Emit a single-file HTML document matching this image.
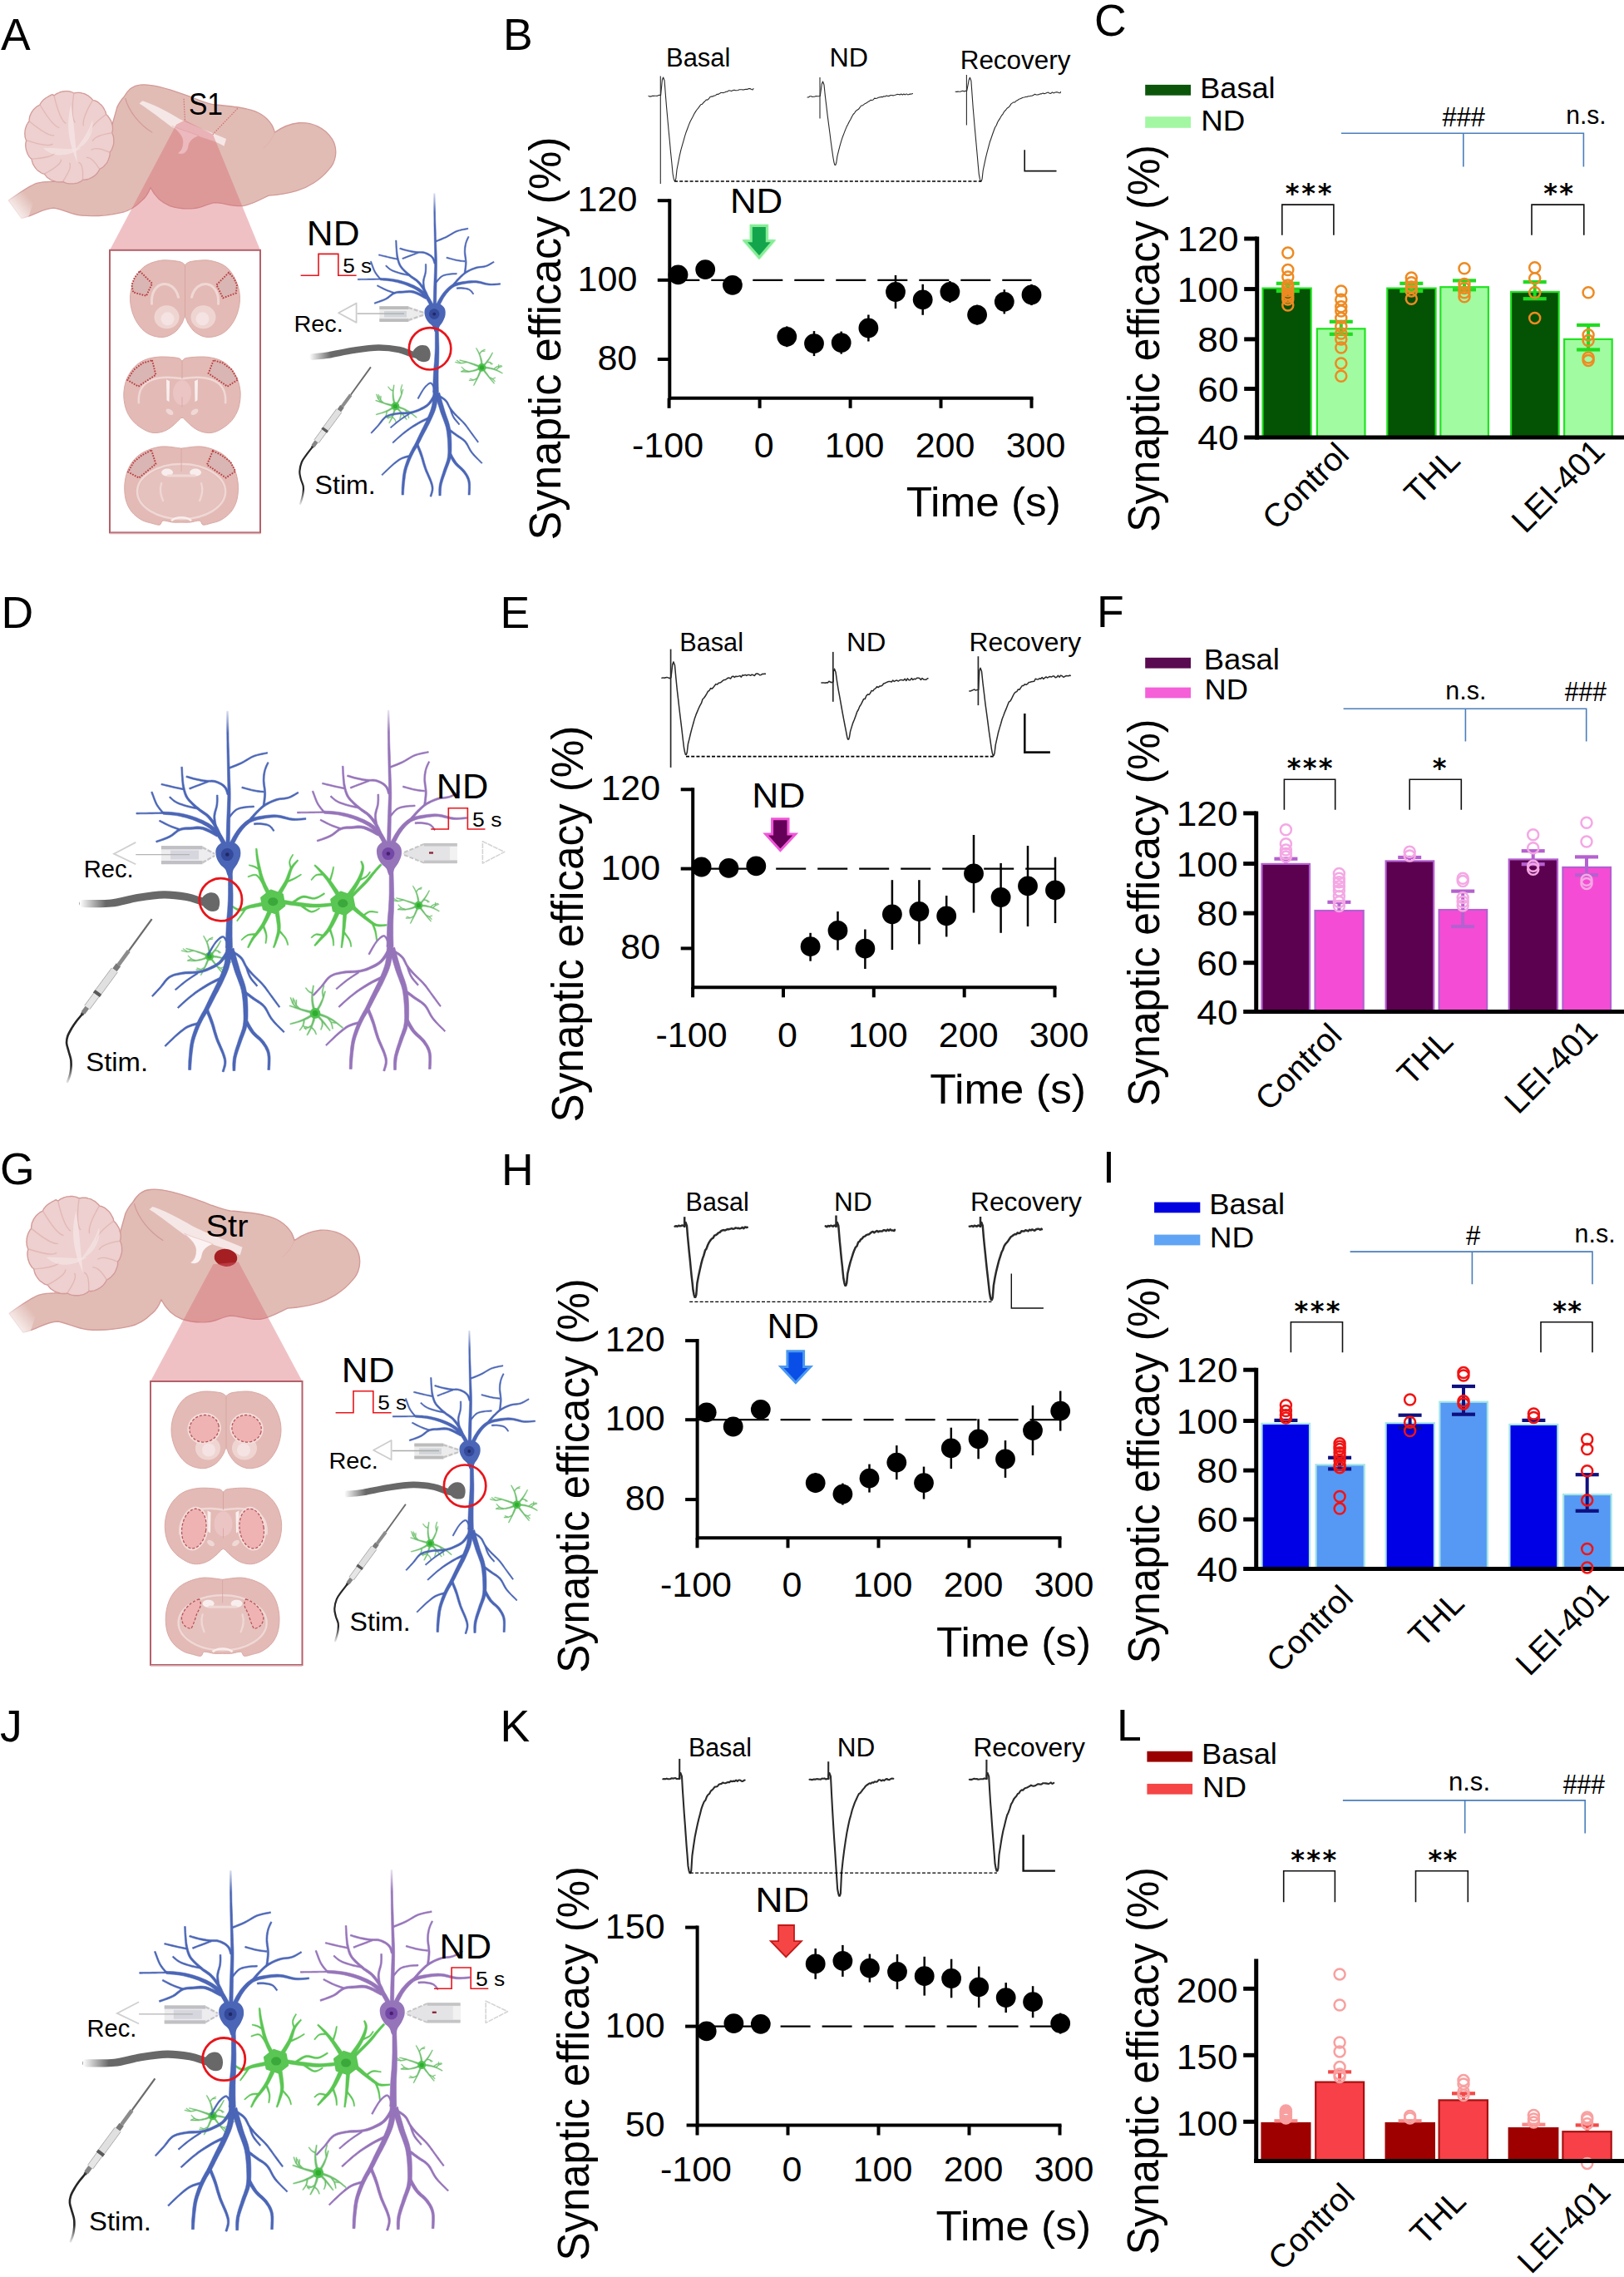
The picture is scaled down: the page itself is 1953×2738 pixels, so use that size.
<!DOCTYPE html><html><head><meta charset="utf-8"><title>Figure</title>
<style>html,body{margin:0;padding:0;background:#fff}svg{display:block}text{font-family:"Liberation Sans",sans-serif}</style></head><body>
<svg width="1953" height="2738" viewBox="0 0 1953 2738">
<rect width="1953" height="2738" fill="#fff"/>
<linearGradient id="fadeB" x1="0" x2="0" y1="1" y2="0"><stop offset="0" stop-color="#fff" stop-opacity="1"/><stop offset="1" stop-color="#fff" stop-opacity="0"/></linearGradient>
<defs>
<g id="nblue">
<path d="M1.8 -10.3 L1.9 -13.8 L2.0 -18.8 L2.1 -24.6 L2.2 -30.6 L2.3 -36.2 L2.4 -41.3 L2.5 -46.5 L2.6 -51.7 L2.7 -56.9 L2.7 -62.1 L2.6 -67.3 L2.4 -72.5 L2.2 -77.6 L2.0 -82.8 L1.8 -88.0 L1.6 -93.1 L1.5 -98.1 L1.3 -103.1 L1.1 -108.3 L0.9 -113.8 L0.8 -120.2 L0.7 -127.3 L0.5 -134.4 L0.4 -140.5 L0.3 -144.8 L-1.1 -144.8 L-1.1 -140.5 L-1.1 -134.4 L-1.1 -127.3 L-1.0 -120.2 L-0.9 -113.8 L-0.9 -108.3 L-0.8 -103.1 L-0.7 -98.0 L-0.6 -93.0 L-0.5 -87.9 L-0.4 -82.7 L-0.3 -77.5 L-0.2 -72.4 L-0.1 -67.2 L-0.1 -62.1 L-0.2 -56.9 L-0.4 -51.8 L-0.6 -46.6 L-0.8 -41.4 L-1.0 -36.3 L-1.2 -30.7 L-1.4 -24.7 L-1.5 -18.9 L-1.7 -13.9 L-1.8 -10.4Z M1.3 -86.5 L3.0 -87.2 L5.4 -88.1 L8.2 -89.2 L11.2 -90.5 L13.9 -91.7 L16.5 -93.1 L19.1 -94.7 L21.7 -96.2 L24.2 -97.7 L26.8 -98.9 L29.6 -99.8 L32.7 -100.6 L35.7 -101.2 L38.4 -101.7 L40.2 -102.1 L39.9 -103.5 L38.1 -103.1 L35.5 -102.7 L32.4 -102.0 L29.2 -101.2 L26.2 -100.3 L23.5 -99.1 L20.9 -97.6 L18.3 -96.0 L15.7 -94.5 L13.2 -93.2 L10.5 -92.0 L7.6 -90.8 L4.8 -89.7 L2.4 -88.7 L0.7 -88.1Z M1.3 -61.1 L0.9 -62.2 L0.4 -63.8 L-0.3 -65.7 L-1.2 -67.6 L-2.5 -69.2 L-4.0 -70.6 L-5.9 -71.9 L-7.9 -73.0 L-9.9 -73.9 L-12.0 -74.6 L-14.1 -75.1 L-16.3 -75.2 L-18.4 -75.1 L-20.5 -75.1 L-22.5 -75.3 L-24.6 -75.5 L-26.7 -75.9 L-28.8 -76.3 L-30.8 -76.7 L-32.8 -77.1 L-34.8 -77.6 L-36.9 -78.2 L-38.9 -78.8 L-40.6 -79.3 L-41.8 -79.6 L-42.2 -78.1 L-41.0 -77.8 L-39.3 -77.2 L-37.3 -76.6 L-35.2 -76.0 L-33.2 -75.5 L-31.2 -75.0 L-29.1 -74.6 L-27.0 -74.1 L-24.9 -73.8 L-22.7 -73.5 L-20.6 -73.3 L-18.4 -73.3 L-16.4 -73.3 L-14.4 -73.2 L-12.5 -72.8 L-10.7 -72.1 L-8.8 -71.2 L-6.9 -70.2 L-5.3 -69.0 L-4.0 -67.8 L-3.0 -66.5 L-2.2 -64.8 L-1.6 -63.1 L-1.2 -61.5 L-0.8 -60.4Z M-20.3 -74.4 L-21.7 -73.9 L-23.8 -73.1 L-26.2 -72.2 L-28.5 -71.3 L-30.7 -70.5 L-32.6 -69.8 L-34.6 -69.0 L-36.4 -68.3 L-37.9 -67.7 L-39.1 -67.3 L-38.5 -65.9 L-37.4 -66.3 L-35.9 -66.9 L-34.0 -67.7 L-32.1 -68.4 L-30.1 -69.1 L-28.0 -69.9 L-25.6 -70.8 L-23.3 -71.7 L-21.2 -72.5 L-19.8 -73.0Z M1.9 -37.0 L2.8 -38.2 L4.1 -39.8 L5.6 -41.7 L7.3 -43.4 L8.8 -44.6 L10.4 -45.5 L12.1 -46.0 L13.9 -46.5 L15.7 -46.8 L17.6 -47.1 L19.5 -47.4 L21.6 -47.5 L23.6 -47.6 L25.3 -47.7 L26.5 -47.8 L26.5 -49.2 L25.2 -49.2 L23.5 -49.1 L21.5 -49.0 L19.3 -48.8 L17.3 -48.6 L15.5 -48.3 L13.6 -47.9 L11.7 -47.5 L9.8 -46.8 L8.0 -45.9 L6.2 -44.5 L4.5 -42.7 L2.9 -40.8 L1.6 -39.1 L0.7 -38.0Z M-1.3 -10.7 L-2.1 -12.2 L-3.3 -14.4 L-4.7 -16.9 L-6.3 -19.6 L-8.1 -21.9 L-10.0 -24.0 L-12.0 -26.0 L-14.1 -27.8 L-16.5 -29.6 L-19.1 -31.3 L-22.0 -32.9 L-25.1 -34.5 L-28.4 -35.9 L-31.8 -37.3 L-35.0 -38.4 L-38.2 -39.4 L-41.4 -40.3 L-44.6 -41.0 L-47.8 -41.7 L-50.8 -42.2 L-54.1 -42.6 L-57.4 -42.9 L-60.6 -43.1 L-63.3 -43.2 L-65.2 -43.3 L-65.4 -40.7 L-63.5 -40.5 L-60.8 -40.3 L-57.7 -40.1 L-54.4 -39.7 L-51.3 -39.3 L-48.4 -38.7 L-45.3 -38.0 L-42.2 -37.2 L-39.2 -36.3 L-36.1 -35.3 L-33.0 -34.1 L-29.8 -32.7 L-26.6 -31.3 L-23.7 -29.8 L-21.0 -28.2 L-18.7 -26.6 L-16.6 -24.9 L-14.6 -23.1 L-12.9 -21.3 L-11.3 -19.4 L-9.8 -17.3 L-8.3 -14.9 L-7.0 -12.4 L-6.0 -10.2 L-5.2 -8.7Z M-65.3 -42.7 L-67.3 -42.7 L-70.0 -42.6 L-73.3 -42.6 L-76.6 -42.5 L-79.5 -42.5 L-82.4 -42.4 L-85.4 -42.4 L-88.3 -42.4 L-90.7 -42.4 L-92.5 -42.4 L-92.5 -40.9 L-90.7 -40.9 L-88.3 -41.0 L-85.4 -41.0 L-82.4 -41.0 L-79.5 -41.1 L-76.5 -41.1 L-73.2 -41.2 L-70.0 -41.3 L-67.2 -41.3 L-65.3 -41.4Z M-64.7 -42.6 L-65.6 -43.6 L-66.9 -45.1 L-68.3 -46.8 L-69.8 -48.8 L-71.1 -50.8 L-72.3 -53.2 L-73.5 -56.2 L-74.6 -59.2 L-75.6 -61.8 L-76.3 -63.6 L-77.6 -63.1 L-77.0 -61.3 L-76.0 -58.6 L-74.9 -55.6 L-73.7 -52.6 L-72.5 -50.1 L-71.1 -47.9 L-69.6 -45.8 L-68.1 -44.0 L-66.8 -42.6 L-65.9 -41.5Z M-5.7 -17.4 L-6.4 -19.0 L-7.3 -21.2 L-8.5 -23.9 L-9.7 -26.6 L-11.1 -29.1 L-12.5 -31.4 L-14.0 -33.6 L-15.6 -35.7 L-17.3 -37.8 L-19.1 -39.7 L-21.2 -41.5 L-23.3 -43.0 L-25.4 -44.4 L-27.6 -45.8 L-29.6 -47.5 L-31.8 -49.3 L-34.1 -51.3 L-36.3 -53.4 L-38.3 -55.5 L-39.9 -57.5 L-41.0 -59.4 L-41.9 -61.4 L-42.6 -63.4 L-43.2 -65.4 L-43.7 -67.5 L-44.1 -69.5 L-44.5 -71.5 L-44.7 -73.5 L-44.9 -75.6 L-45.1 -77.7 L-45.3 -80.0 L-45.5 -82.5 L-45.6 -85.0 L-45.7 -87.1 L-45.8 -88.6 L-47.3 -88.5 L-47.2 -87.0 L-47.1 -84.9 L-47.0 -82.4 L-46.9 -79.9 L-46.7 -77.5 L-46.6 -75.4 L-46.4 -73.3 L-46.2 -71.2 L-46.0 -69.1 L-45.5 -67.0 L-45.0 -64.9 L-44.5 -62.8 L-43.8 -60.7 L-42.9 -58.5 L-41.6 -56.3 L-39.9 -54.1 L-37.8 -51.9 L-35.6 -49.7 L-33.3 -47.6 L-31.1 -45.7 L-29.0 -43.9 L-26.8 -42.4 L-24.7 -40.9 L-22.7 -39.5 L-20.9 -37.9 L-19.3 -36.0 L-17.7 -34.1 L-16.2 -32.0 L-14.8 -29.9 L-13.5 -27.8 L-12.3 -25.4 L-11.1 -22.8 L-10.0 -20.1 L-9.2 -17.9 L-8.5 -16.2Z M-44.5 -66.7 L-45.6 -66.9 L-47.2 -67.3 L-49.1 -67.7 L-51.3 -68.1 L-53.5 -68.6 L-56.1 -69.2 L-59.3 -70.0 L-62.4 -70.7 L-65.2 -71.4 L-67.1 -71.8 L-67.4 -70.4 L-65.5 -70.0 L-62.7 -69.3 L-59.6 -68.5 L-56.5 -67.8 L-53.8 -67.2 L-51.6 -66.7 L-49.4 -66.2 L-47.5 -65.8 L-45.9 -65.5 L-44.8 -65.2Z M-30.2 -47.4 L-31.8 -47.7 L-34.1 -48.1 L-36.7 -48.7 L-39.4 -49.3 L-41.8 -49.9 L-44.0 -50.6 L-46.2 -51.3 L-48.3 -52.0 L-50.3 -52.8 L-52.0 -53.7 L-53.6 -54.7 L-55.1 -55.8 L-56.4 -57.0 L-57.5 -58.0 L-58.4 -58.7 L-59.3 -57.6 L-58.5 -56.9 L-57.4 -55.9 L-56.0 -54.7 L-54.5 -53.4 L-52.7 -52.4 L-50.9 -51.4 L-48.9 -50.6 L-46.7 -49.8 L-44.5 -49.1 L-42.2 -48.4 L-39.8 -47.7 L-37.1 -47.1 L-34.4 -46.5 L-32.2 -46.1 L-30.6 -45.7Z M-11.3 -28.0 L-11.5 -29.5 L-11.9 -31.5 L-12.3 -33.9 L-12.6 -36.4 L-12.7 -38.7 L-12.4 -40.9 L-11.9 -43.3 L-11.2 -45.7 L-10.6 -48.0 L-10.2 -50.3 L-10.0 -52.6 L-9.9 -54.9 L-9.9 -57.0 L-10.0 -58.9 L-10.0 -60.1 L-11.5 -60.1 L-11.5 -58.8 L-11.5 -57.0 L-11.5 -54.9 L-11.6 -52.7 L-11.8 -50.5 L-12.2 -48.4 L-12.9 -46.1 L-13.6 -43.7 L-14.2 -41.3 L-14.5 -38.8 L-14.5 -36.3 L-14.2 -33.7 L-13.9 -31.2 L-13.5 -29.1 L-13.3 -27.6Z M-9.6 -20.7 L-11.7 -21.8 L-14.6 -23.4 L-18.1 -25.1 L-21.6 -26.7 L-24.9 -27.8 L-27.8 -28.3 L-30.7 -28.4 L-33.3 -28.2 L-35.9 -27.9 L-38.2 -27.7 L-40.4 -27.6 L-42.5 -27.5 L-44.6 -27.3 L-46.7 -26.9 L-48.9 -26.2 L-51.1 -25.0 L-53.1 -23.5 L-55.1 -21.9 L-57.1 -20.3 L-59.3 -18.9 L-61.9 -17.7 L-65.0 -16.5 L-68.1 -15.3 L-70.8 -14.4 L-72.7 -13.7 L-72.2 -12.2 L-70.3 -12.8 L-67.5 -13.8 L-64.4 -14.8 L-61.2 -16.0 L-58.4 -17.3 L-56.0 -18.7 L-53.9 -20.3 L-51.9 -21.9 L-50.0 -23.3 L-48.1 -24.2 L-46.2 -24.8 L-44.3 -25.1 L-42.4 -25.2 L-40.3 -25.2 L-38.1 -25.3 L-35.6 -25.5 L-33.2 -25.7 L-30.6 -25.8 L-28.1 -25.7 L-25.6 -25.2 L-22.7 -24.1 L-19.3 -22.6 L-16.0 -20.8 L-13.1 -19.2 L-11.1 -18.1Z M-48.2 -26.0 L-49.6 -26.5 L-51.6 -27.2 L-53.9 -28.0 L-56.3 -28.9 L-58.5 -29.8 L-60.7 -30.8 L-63.1 -32.0 L-65.4 -33.2 L-67.4 -34.2 L-68.9 -34.9 L-69.5 -33.6 L-68.1 -32.9 L-66.1 -31.8 L-63.8 -30.6 L-61.4 -29.4 L-59.2 -28.4 L-56.9 -27.4 L-54.5 -26.5 L-52.2 -25.7 L-50.2 -24.9 L-48.8 -24.4Z M5.2 -8.7 L6.1 -10.6 L7.5 -13.3 L9.1 -16.4 L10.8 -19.5 L12.6 -22.1 L14.3 -24.5 L16.2 -26.7 L18.1 -28.8 L20.2 -30.6 L22.2 -32.2 L24.4 -33.3 L26.7 -34.2 L29.1 -34.9 L31.8 -35.5 L34.5 -36.0 L37.4 -36.6 L40.5 -37.0 L43.5 -37.4 L46.7 -37.6 L49.7 -37.6 L52.7 -37.2 L55.8 -36.5 L59.0 -35.7 L62.1 -35.0 L65.2 -34.6 L68.4 -34.5 L71.6 -34.7 L74.6 -34.9 L77.1 -35.2 L78.9 -35.4 L78.8 -37.0 L77.0 -36.9 L74.4 -36.7 L71.5 -36.5 L68.4 -36.4 L65.4 -36.6 L62.5 -37.1 L59.5 -37.9 L56.4 -38.8 L53.1 -39.6 L49.9 -40.0 L46.6 -40.2 L43.4 -40.1 L40.1 -39.8 L37.0 -39.4 L34.0 -39.0 L31.2 -38.5 L28.4 -38.0 L25.7 -37.3 L23.0 -36.4 L20.4 -35.1 L18.0 -33.4 L15.6 -31.4 L13.4 -29.2 L11.4 -26.9 L9.4 -24.4 L7.5 -21.6 L5.5 -18.4 L3.8 -15.3 L2.4 -12.6 L1.3 -10.7Z M22.2 -32.9 L23.3 -34.1 L24.7 -35.9 L26.4 -38.0 L28.2 -40.1 L29.9 -41.9 L31.5 -43.6 L33.2 -45.2 L34.9 -46.8 L36.8 -48.3 L38.7 -49.6 L40.8 -50.8 L43.0 -52.0 L45.4 -53.0 L47.7 -53.9 L50.0 -54.7 L52.3 -55.3 L54.6 -55.6 L57.0 -55.8 L59.4 -56.2 L61.7 -56.8 L64.0 -57.7 L66.3 -58.9 L68.4 -60.2 L70.2 -61.3 L71.5 -62.1 L70.8 -63.3 L69.5 -62.6 L67.6 -61.5 L65.5 -60.3 L63.3 -59.2 L61.2 -58.3 L59.1 -57.8 L56.8 -57.5 L54.4 -57.3 L52.0 -57.0 L49.5 -56.5 L47.1 -55.7 L44.6 -54.8 L42.2 -53.7 L39.8 -52.5 L37.6 -51.3 L35.5 -49.9 L33.6 -48.4 L31.8 -46.8 L30.0 -45.1 L28.3 -43.4 L26.5 -41.5 L24.7 -39.4 L22.9 -37.4 L21.5 -35.6 L20.4 -34.4Z M37.1 -49.0 L37.3 -50.8 L37.7 -53.3 L38.0 -56.2 L38.3 -59.2 L38.4 -62.1 L38.2 -64.8 L37.9 -67.5 L37.5 -70.1 L37.2 -72.7 L37.0 -75.0 L37.1 -77.2 L37.2 -79.4 L37.5 -81.4 L37.8 -83.3 L38.2 -85.1 L38.8 -86.9 L39.5 -88.7 L40.3 -90.4 L40.9 -91.8 L41.4 -92.8 L40.1 -93.4 L39.6 -92.4 L38.9 -91.0 L38.1 -89.3 L37.4 -87.4 L36.8 -85.6 L36.3 -83.6 L35.9 -81.6 L35.6 -79.5 L35.5 -77.3 L35.4 -75.0 L35.5 -72.5 L35.8 -69.9 L36.2 -67.3 L36.5 -64.6 L36.6 -62.1 L36.5 -59.3 L36.2 -56.4 L35.9 -53.5 L35.5 -51.0 L35.3 -49.3Z M36.3 -64.1 L35.0 -64.3 L33.2 -64.4 L31.1 -64.7 L28.9 -65.0 L26.7 -65.4 L24.2 -65.9 L21.4 -66.7 L18.6 -67.4 L16.1 -68.1 L14.4 -68.6 L14.0 -67.2 L15.7 -66.7 L18.2 -66.0 L21.0 -65.3 L23.8 -64.5 L26.4 -63.9 L28.7 -63.5 L30.9 -63.2 L33.1 -63.0 L34.8 -62.8 L36.1 -62.6Z M26.5 -30.2 L27.6 -30.2 L29.1 -30.3 L30.8 -30.4 L32.6 -30.4 L34.2 -30.2 L35.8 -30.0 L37.4 -29.8 L39.0 -29.4 L40.4 -29.0 L41.6 -28.4 L42.7 -27.6 L43.7 -26.5 L44.6 -25.3 L45.4 -24.3 L46.0 -23.5 L47.1 -24.4 L46.6 -25.1 L45.8 -26.2 L44.9 -27.5 L43.7 -28.7 L42.4 -29.7 L41.0 -30.4 L39.4 -31.0 L37.7 -31.3 L36.0 -31.6 L34.4 -31.8 L32.6 -32.0 L30.8 -32.0 L29.0 -32.0 L27.5 -31.9 L26.5 -31.9Z M0.6 15.2 L0.5 19.5 L0.5 25.6 L0.5 32.7 L0.5 39.8 L0.3 46.1 L0.0 51.6 L-0.3 56.9 L-0.8 62.0 L-1.2 67.0 L-1.5 71.9 L-1.7 77.0 L-1.9 82.1 L-2.0 87.0 L-2.1 91.1 L-2.3 94.0 L4.6 94.0 L4.5 91.1 L4.4 87.0 L4.3 82.2 L4.3 77.1 L4.3 72.1 L4.4 67.3 L4.6 62.4 L4.9 57.2 L5.0 51.8 L5.1 46.2 L5.1 39.8 L4.9 32.6 L4.7 25.5 L4.5 19.4 L4.3 15.1Z M-1.7 92.5 L-1.9 95.0 L-2.1 98.5 L-2.3 102.5 L-2.8 106.6 L-3.4 110.2 L-4.3 113.5 L-5.4 116.8 L-6.7 120.1 L-8.1 123.4 L-9.5 126.6 L-10.9 129.8 L-12.5 133.0 L-14.0 136.1 L-15.6 139.2 L-17.0 142.1 L-18.4 144.9 L-19.6 147.5 L-20.8 150.0 L-22.0 152.5 L-23.3 155.1 L-24.7 157.8 L-26.3 160.5 L-27.8 163.3 L-29.4 166.3 L-30.9 169.5 L-32.4 173.0 L-33.8 176.6 L-35.1 180.4 L-36.3 184.2 L-37.3 188.0 L-38.0 191.9 L-38.6 195.8 L-38.9 199.6 L-39.2 203.2 L-39.5 206.4 L-39.7 209.3 L-39.7 211.9 L-39.8 214.2 L-39.8 216.1 L-39.8 217.5 L-37.3 217.5 L-37.2 216.2 L-37.1 214.3 L-37.0 212.0 L-36.8 209.4 L-36.6 206.6 L-36.3 203.5 L-35.9 199.9 L-35.4 196.2 L-34.9 192.4 L-34.1 188.8 L-33.1 185.2 L-31.8 181.6 L-30.4 177.9 L-29.0 174.4 L-27.5 171.1 L-26.0 168.1 L-24.5 165.2 L-22.8 162.5 L-21.2 159.8 L-19.6 157.1 L-18.2 154.4 L-16.9 151.9 L-15.7 149.4 L-14.4 146.9 L-13.0 144.2 L-11.5 141.3 L-9.8 138.3 L-8.2 135.1 L-6.5 131.9 L-5.0 128.7 L-3.5 125.4 L-2.0 122.1 L-0.5 118.6 L0.8 115.1 L1.8 111.4 L2.6 107.4 L3.2 103.1 L3.6 98.9 L3.8 95.4 L4.1 92.9Z M-22.8 156.6 L-22.1 158.3 L-21.1 160.7 L-19.9 163.5 L-18.7 166.5 L-17.6 169.5 L-16.5 172.5 L-15.5 175.9 L-14.5 179.4 L-13.4 182.9 L-12.3 186.2 L-11.0 189.6 L-9.5 192.9 L-8.1 196.1 L-6.8 199.1 L-5.7 201.7 L-5.0 203.9 L-4.4 205.7 L-4.0 207.3 L-3.8 208.8 L-3.7 210.4 L-3.9 212.2 L-4.4 214.2 L-4.9 216.2 L-5.5 217.9 L-5.8 219.2 L-4.0 219.7 L-3.6 218.5 L-3.1 216.8 L-2.4 214.7 L-1.9 212.5 L-1.7 210.4 L-1.7 208.6 L-1.9 206.9 L-2.3 205.1 L-2.8 203.2 L-3.6 201.0 L-4.6 198.2 L-5.9 195.2 L-7.3 192.0 L-8.7 188.7 L-10.0 185.4 L-11.0 182.1 L-12.1 178.6 L-13.0 175.2 L-14.0 171.8 L-15.0 168.6 L-16.1 165.5 L-17.3 162.4 L-18.5 159.6 L-19.4 157.2 L-20.1 155.5Z M-29.5 169.3 L-31.1 169.8 L-33.4 170.4 L-36.1 171.2 L-38.8 172.2 L-41.3 173.3 L-43.5 174.6 L-45.5 176.1 L-47.6 177.7 L-49.6 179.4 L-51.8 181.3 L-54.3 183.6 L-57.1 186.3 L-59.9 189.0 L-62.3 191.4 L-64.0 193.1 L-63.0 194.1 L-61.3 192.5 L-58.8 190.1 L-56.0 187.5 L-53.2 184.8 L-50.7 182.6 L-48.5 180.7 L-46.4 179.1 L-44.5 177.6 L-42.5 176.2 L-40.4 175.0 L-38.1 174.0 L-35.4 173.1 L-32.8 172.4 L-30.5 171.8 L-28.9 171.4Z M0.3 96.1 L1.2 99.1 L2.5 103.4 L4.0 108.4 L5.6 113.5 L7.0 118.1 L8.5 122.2 L10.0 126.1 L11.4 129.9 L12.7 133.6 L13.7 137.2 L14.4 141.0 L14.9 144.8 L15.3 148.7 L15.6 152.5 L15.8 156.2 L15.9 159.7 L16.0 163.0 L16.0 166.3 L15.8 169.4 L15.4 172.5 L14.8 175.5 L13.8 178.5 L12.8 181.5 L11.6 184.6 L10.5 187.9 L9.5 191.2 L8.3 194.7 L7.2 198.2 L6.3 201.7 L5.5 204.9 L5.1 208.2 L4.9 211.3 L4.9 214.2 L5.0 216.7 L5.0 218.4 L7.4 218.4 L7.5 216.7 L7.6 214.3 L7.7 211.5 L8.0 208.5 L8.4 205.5 L9.2 202.5 L10.2 199.2 L11.4 195.7 L12.6 192.3 L13.8 189.0 L14.9 185.9 L16.1 182.8 L17.3 179.7 L18.4 176.6 L19.2 173.3 L19.8 169.9 L20.1 166.5 L20.2 163.1 L20.2 159.6 L20.2 156.0 L20.1 152.3 L19.9 148.3 L19.6 144.3 L19.1 140.2 L18.4 136.2 L17.4 132.1 L16.2 128.2 L14.8 124.3 L13.4 120.5 L12.1 116.5 L10.8 111.9 L9.3 106.9 L7.9 101.9 L6.7 97.5 L5.9 94.5Z M16.5 168.6 L17.4 170.2 L18.7 172.4 L20.3 175.1 L22.0 177.8 L23.9 180.4 L25.9 182.6 L28.2 184.7 L30.5 186.6 L32.5 188.6 L34.3 190.6 L35.8 192.7 L37.2 194.7 L38.3 196.9 L39.3 199.1 L40.0 201.6 L40.4 204.6 L40.5 208.3 L40.4 211.9 L40.3 215.2 L40.2 217.5 L42.5 217.5 L42.6 215.3 L42.8 212.0 L42.9 208.3 L42.9 204.5 L42.5 201.1 L41.8 198.3 L40.8 195.7 L39.6 193.4 L38.1 191.1 L36.6 188.8 L34.7 186.6 L32.5 184.4 L30.2 182.4 L28.1 180.4 L26.3 178.4 L24.7 176.0 L23.1 173.4 L21.6 170.8 L20.4 168.5 L19.5 166.9Z M16.6 140.3 L17.8 141.2 L19.5 142.3 L21.5 143.7 L23.6 145.2 L25.7 146.7 L27.8 148.1 L29.9 149.4 L32.1 150.8 L34.1 152.4 L36.0 154.2 L37.5 156.3 L39.0 158.7 L40.4 161.4 L41.9 164.2 L43.8 167.0 L46.2 169.8 L49.1 172.8 L52.0 175.7 L54.5 178.1 L56.3 179.9 L57.3 178.9 L55.6 177.1 L53.1 174.6 L50.2 171.7 L47.5 168.7 L45.2 165.9 L43.5 163.3 L42.0 160.6 L40.6 157.8 L39.2 155.2 L37.5 152.8 L35.5 150.8 L33.3 149.1 L31.2 147.6 L29.0 146.2 L27.0 144.8 L25.0 143.3 L22.9 141.8 L21.0 140.3 L19.3 139.1 L18.1 138.2Z M3.8 98.8 L5.1 99.6 L7.0 100.8 L9.1 102.1 L11.1 103.6 L12.7 105.1 L13.9 106.6 L14.8 108.3 L15.8 110.2 L16.7 112.1 L17.8 113.9 L19.0 115.6 L20.2 117.1 L21.5 118.6 L22.8 120.1 L24.4 121.8 L26.3 123.7 L28.5 125.8 L30.7 127.9 L32.9 130.0 L34.8 132.1 L36.5 134.1 L38.0 136.0 L39.5 138.1 L41.0 140.1 L42.6 142.3 L44.4 144.8 L46.5 147.7 L48.6 150.5 L50.4 152.9 L51.7 154.6 L52.8 153.7 L51.6 152.0 L49.8 149.6 L47.8 146.8 L45.7 143.9 L43.8 141.4 L42.2 139.2 L40.8 137.1 L39.3 135.1 L37.8 133.0 L36.1 131.0 L34.1 128.8 L31.9 126.6 L29.7 124.5 L27.6 122.4 L25.7 120.5 L24.2 118.9 L22.9 117.3 L21.7 115.9 L20.5 114.4 L19.4 112.9 L18.4 111.2 L17.5 109.3 L16.6 107.4 L15.6 105.5 L14.2 103.7 L12.4 102.0 L10.3 100.4 L8.1 99.0 L6.3 97.8 L5.0 97.0Z M17.8 113.7 L18.3 115.1 L18.9 117.1 L19.7 119.5 L20.7 121.9 L21.8 124.2 L23.1 126.3 L24.8 128.4 L26.5 130.4 L28.0 132.1 L29.0 133.3 L30.2 132.3 L29.2 131.1 L27.8 129.4 L26.1 127.4 L24.5 125.3 L23.2 123.3 L22.2 121.3 L21.3 118.9 L20.6 116.6 L19.9 114.6 L19.4 113.1Z M0.7 90.4 L0.1 89.2 L-0.7 87.2 L-1.7 85.1 L-2.9 83.3 L-4.5 82.2 L-6.3 82.4 L-8.0 83.4 L-9.7 84.8 L-11.4 86.5 L-13.0 88.4 L-14.7 90.8 L-16.5 93.7 L-18.3 96.8 L-19.8 99.5 L-20.8 101.4 L-19.5 102.1 L-18.5 100.3 L-17.0 97.6 L-15.2 94.5 L-13.5 91.6 L-11.8 89.3 L-10.2 87.5 L-8.6 85.9 L-7.1 84.7 L-5.7 84.0 L-4.9 83.8 L-4.1 84.4 L-3.1 85.9 L-2.2 87.9 L-1.5 89.8 L-0.9 91.1Z M-0.7 95.8 L-1.7 97.5 L-3.1 99.9 L-4.7 102.6 L-6.5 105.2 L-8.2 107.3 L-9.9 108.9 L-11.8 110.2 L-13.8 111.4 L-16.0 112.5 L-18.1 113.6 L-20.2 114.6 L-22.3 115.4 L-24.5 116.2 L-26.8 116.9 L-29.4 117.5 L-32.4 117.9 L-35.8 118.1 L-39.4 118.2 L-42.9 118.4 L-46.2 118.9 L-49.1 119.4 L-51.9 120.0 L-54.6 120.7 L-57.1 121.7 L-59.5 123.0 L-61.7 124.8 L-63.6 126.9 L-65.3 129.2 L-67.0 131.5 L-68.6 133.6 L-70.5 135.6 L-72.4 137.7 L-74.3 139.7 L-75.8 141.4 L-77.0 142.7 L-75.9 143.6 L-74.7 142.5 L-73.1 140.8 L-71.3 138.8 L-69.3 136.7 L-67.4 134.6 L-65.6 132.5 L-63.9 130.3 L-62.2 128.1 L-60.4 126.1 L-58.4 124.5 L-56.3 123.4 L-54.0 122.5 L-51.5 121.9 L-48.7 121.4 L-45.9 120.9 L-42.7 120.5 L-39.3 120.4 L-35.7 120.3 L-32.2 120.1 L-29.0 119.7 L-26.3 119.1 L-23.8 118.5 L-21.5 117.7 L-19.3 116.8 L-17.1 115.8 L-14.8 114.8 L-12.6 113.7 L-10.4 112.4 L-8.3 110.9 L-6.3 109.2 L-4.3 106.9 L-2.4 104.2 L-0.7 101.4 L0.7 99.0 L1.8 97.4Z M-30.9 119.3 L-32.5 120.3 L-34.8 121.8 L-37.4 123.5 L-40.1 125.3 L-42.6 127.1 L-45.0 128.9 L-47.6 131.0 L-50.0 133.1 L-52.1 134.9 L-53.6 136.1 L-52.7 137.2 L-51.2 136.0 L-49.1 134.2 L-46.7 132.2 L-44.1 130.1 L-41.7 128.2 L-39.3 126.5 L-36.6 124.7 L-34.0 123.0 L-31.7 121.5 L-30.1 120.5Z M-5.2 122.6 L-7.3 123.7 L-10.2 125.1 L-13.7 126.8 L-17.3 128.7 L-20.7 130.6 L-23.8 132.5 L-27.0 134.5 L-30.1 136.6 L-33.2 138.8 L-36.2 141.2 L-39.5 143.8 L-42.9 146.8 L-46.2 149.8 L-49.1 152.4 L-51.0 154.3 L-50.1 155.3 L-48.0 153.6 L-45.2 151.0 L-41.9 148.1 L-38.4 145.1 L-35.1 142.6 L-32.1 140.3 L-29.0 138.2 L-25.9 136.2 L-22.7 134.3 L-19.6 132.4 L-16.3 130.6 L-12.7 128.9 L-9.2 127.2 L-6.3 125.9 L-4.1 124.9Z" fill="#4b66b6" stroke="#4b66b6" stroke-width="0.5" stroke-linejoin="round"/>
<path d="M0.0 -12.7 C1.2 -12.5 5.1 -12.7 7.1 -11.6 C9.1 -10.6 11.1 -8.6 12.0 -6.5 C13.0 -4.3 13.1 -1.3 12.7 1.3 C12.3 3.9 10.8 6.8 9.7 9.1 C8.6 11.3 6.9 12.8 5.8 14.9 C4.8 16.9 4.5 20.3 3.5 21.3 C2.5 22.4 1.0 22.4 0.0 21.3 C-1.0 20.3 -1.3 16.8 -2.6 14.9 C-3.9 12.9 -6.3 11.7 -7.8 9.7 C-9.3 7.7 -10.9 5.2 -11.6 2.6 C-12.3 0.0 -12.7 -3.5 -11.9 -5.8 C-11.1 -8.1 -9.1 -10.2 -7.1 -11.4 C-5.1 -12.5 -1.2 -12.5 0.0 -12.7Z" fill="#4b66b6"/>
<circle cx="-0.6" cy="0.0" r="6.3" fill="#34499a"/>
<circle cx="-0.6" cy="0.0" r="1.9" fill="#1d2a66"/>
</g>
<g id="npurp">
<path d="M1.8 -10.3 L1.9 -13.8 L2.0 -18.8 L2.1 -24.6 L2.2 -30.6 L2.3 -36.2 L2.4 -41.3 L2.5 -46.5 L2.6 -51.7 L2.7 -56.9 L2.7 -62.1 L2.6 -67.3 L2.4 -72.5 L2.2 -77.6 L2.0 -82.8 L1.8 -88.0 L1.6 -93.1 L1.5 -98.1 L1.3 -103.1 L1.1 -108.3 L0.9 -113.8 L0.8 -120.2 L0.7 -127.3 L0.5 -134.4 L0.4 -140.5 L0.3 -144.8 L-1.1 -144.8 L-1.1 -140.5 L-1.1 -134.4 L-1.1 -127.3 L-1.0 -120.2 L-0.9 -113.8 L-0.9 -108.3 L-0.8 -103.1 L-0.7 -98.0 L-0.6 -93.0 L-0.5 -87.9 L-0.4 -82.7 L-0.3 -77.5 L-0.2 -72.4 L-0.1 -67.2 L-0.1 -62.1 L-0.2 -56.9 L-0.4 -51.8 L-0.6 -46.6 L-0.8 -41.4 L-1.0 -36.3 L-1.2 -30.7 L-1.4 -24.7 L-1.5 -18.9 L-1.7 -13.9 L-1.8 -10.4Z M1.3 -86.5 L3.0 -87.2 L5.4 -88.1 L8.2 -89.2 L11.2 -90.5 L13.9 -91.7 L16.5 -93.1 L19.1 -94.7 L21.7 -96.2 L24.2 -97.7 L26.8 -98.9 L29.6 -99.8 L32.7 -100.6 L35.7 -101.2 L38.4 -101.7 L40.2 -102.1 L39.9 -103.5 L38.1 -103.1 L35.5 -102.7 L32.4 -102.0 L29.2 -101.2 L26.2 -100.3 L23.5 -99.1 L20.9 -97.6 L18.3 -96.0 L15.7 -94.5 L13.2 -93.2 L10.5 -92.0 L7.6 -90.8 L4.8 -89.7 L2.4 -88.7 L0.7 -88.1Z M1.3 -61.1 L0.9 -62.2 L0.4 -63.8 L-0.3 -65.7 L-1.2 -67.6 L-2.5 -69.2 L-4.0 -70.6 L-5.9 -71.9 L-7.9 -73.0 L-9.9 -73.9 L-12.0 -74.6 L-14.1 -75.1 L-16.3 -75.2 L-18.4 -75.1 L-20.5 -75.1 L-22.5 -75.3 L-24.6 -75.5 L-26.7 -75.9 L-28.8 -76.3 L-30.8 -76.7 L-32.8 -77.1 L-34.8 -77.6 L-36.9 -78.2 L-38.9 -78.8 L-40.6 -79.3 L-41.8 -79.6 L-42.2 -78.1 L-41.0 -77.8 L-39.3 -77.2 L-37.3 -76.6 L-35.2 -76.0 L-33.2 -75.5 L-31.2 -75.0 L-29.1 -74.6 L-27.0 -74.1 L-24.9 -73.8 L-22.7 -73.5 L-20.6 -73.3 L-18.4 -73.3 L-16.4 -73.3 L-14.4 -73.2 L-12.5 -72.8 L-10.7 -72.1 L-8.8 -71.2 L-6.9 -70.2 L-5.3 -69.0 L-4.0 -67.8 L-3.0 -66.5 L-2.2 -64.8 L-1.6 -63.1 L-1.2 -61.5 L-0.8 -60.4Z M-20.3 -74.4 L-21.7 -73.9 L-23.8 -73.1 L-26.2 -72.2 L-28.5 -71.3 L-30.7 -70.5 L-32.6 -69.8 L-34.6 -69.0 L-36.4 -68.3 L-37.9 -67.7 L-39.1 -67.3 L-38.5 -65.9 L-37.4 -66.3 L-35.9 -66.9 L-34.0 -67.7 L-32.1 -68.4 L-30.1 -69.1 L-28.0 -69.9 L-25.6 -70.8 L-23.3 -71.7 L-21.2 -72.5 L-19.8 -73.0Z M1.9 -37.0 L2.8 -38.2 L4.1 -39.8 L5.6 -41.7 L7.3 -43.4 L8.8 -44.6 L10.4 -45.5 L12.1 -46.0 L13.9 -46.5 L15.7 -46.8 L17.6 -47.1 L19.5 -47.4 L21.6 -47.5 L23.6 -47.6 L25.3 -47.7 L26.5 -47.8 L26.5 -49.2 L25.2 -49.2 L23.5 -49.1 L21.5 -49.0 L19.3 -48.8 L17.3 -48.6 L15.5 -48.3 L13.6 -47.9 L11.7 -47.5 L9.8 -46.8 L8.0 -45.9 L6.2 -44.5 L4.5 -42.7 L2.9 -40.8 L1.6 -39.1 L0.7 -38.0Z M-1.3 -10.7 L-2.1 -12.2 L-3.3 -14.4 L-4.7 -16.9 L-6.3 -19.6 L-8.1 -21.9 L-10.0 -24.0 L-12.0 -26.0 L-14.1 -27.8 L-16.5 -29.6 L-19.1 -31.3 L-22.0 -32.9 L-25.1 -34.5 L-28.4 -35.9 L-31.8 -37.3 L-35.0 -38.4 L-38.2 -39.4 L-41.4 -40.3 L-44.6 -41.0 L-47.8 -41.7 L-50.8 -42.2 L-54.1 -42.6 L-57.4 -42.9 L-60.6 -43.1 L-63.3 -43.2 L-65.2 -43.3 L-65.4 -40.7 L-63.5 -40.5 L-60.8 -40.3 L-57.7 -40.1 L-54.4 -39.7 L-51.3 -39.3 L-48.4 -38.7 L-45.3 -38.0 L-42.2 -37.2 L-39.2 -36.3 L-36.1 -35.3 L-33.0 -34.1 L-29.8 -32.7 L-26.6 -31.3 L-23.7 -29.8 L-21.0 -28.2 L-18.7 -26.6 L-16.6 -24.9 L-14.6 -23.1 L-12.9 -21.3 L-11.3 -19.4 L-9.8 -17.3 L-8.3 -14.9 L-7.0 -12.4 L-6.0 -10.2 L-5.2 -8.7Z M-65.3 -42.7 L-67.3 -42.7 L-70.0 -42.6 L-73.3 -42.6 L-76.6 -42.5 L-79.5 -42.5 L-82.4 -42.4 L-85.4 -42.4 L-88.3 -42.4 L-90.7 -42.4 L-92.5 -42.4 L-92.5 -40.9 L-90.7 -40.9 L-88.3 -41.0 L-85.4 -41.0 L-82.4 -41.0 L-79.5 -41.1 L-76.5 -41.1 L-73.2 -41.2 L-70.0 -41.3 L-67.2 -41.3 L-65.3 -41.4Z M-64.7 -42.6 L-65.6 -43.6 L-66.9 -45.1 L-68.3 -46.8 L-69.8 -48.8 L-71.1 -50.8 L-72.3 -53.2 L-73.5 -56.2 L-74.6 -59.2 L-75.6 -61.8 L-76.3 -63.6 L-77.6 -63.1 L-77.0 -61.3 L-76.0 -58.6 L-74.9 -55.6 L-73.7 -52.6 L-72.5 -50.1 L-71.1 -47.9 L-69.6 -45.8 L-68.1 -44.0 L-66.8 -42.6 L-65.9 -41.5Z M-5.7 -17.4 L-6.4 -19.0 L-7.3 -21.2 L-8.5 -23.9 L-9.7 -26.6 L-11.1 -29.1 L-12.5 -31.4 L-14.0 -33.6 L-15.6 -35.7 L-17.3 -37.8 L-19.1 -39.7 L-21.2 -41.5 L-23.3 -43.0 L-25.4 -44.4 L-27.6 -45.8 L-29.6 -47.5 L-31.8 -49.3 L-34.1 -51.3 L-36.3 -53.4 L-38.3 -55.5 L-39.9 -57.5 L-41.0 -59.4 L-41.9 -61.4 L-42.6 -63.4 L-43.2 -65.4 L-43.7 -67.5 L-44.1 -69.5 L-44.5 -71.5 L-44.7 -73.5 L-44.9 -75.6 L-45.1 -77.7 L-45.3 -80.0 L-45.5 -82.5 L-45.6 -85.0 L-45.7 -87.1 L-45.8 -88.6 L-47.3 -88.5 L-47.2 -87.0 L-47.1 -84.9 L-47.0 -82.4 L-46.9 -79.9 L-46.7 -77.5 L-46.6 -75.4 L-46.4 -73.3 L-46.2 -71.2 L-46.0 -69.1 L-45.5 -67.0 L-45.0 -64.9 L-44.5 -62.8 L-43.8 -60.7 L-42.9 -58.5 L-41.6 -56.3 L-39.9 -54.1 L-37.8 -51.9 L-35.6 -49.7 L-33.3 -47.6 L-31.1 -45.7 L-29.0 -43.9 L-26.8 -42.4 L-24.7 -40.9 L-22.7 -39.5 L-20.9 -37.9 L-19.3 -36.0 L-17.7 -34.1 L-16.2 -32.0 L-14.8 -29.9 L-13.5 -27.8 L-12.3 -25.4 L-11.1 -22.8 L-10.0 -20.1 L-9.2 -17.9 L-8.5 -16.2Z M-44.5 -66.7 L-45.6 -66.9 L-47.2 -67.3 L-49.1 -67.7 L-51.3 -68.1 L-53.5 -68.6 L-56.1 -69.2 L-59.3 -70.0 L-62.4 -70.7 L-65.2 -71.4 L-67.1 -71.8 L-67.4 -70.4 L-65.5 -70.0 L-62.7 -69.3 L-59.6 -68.5 L-56.5 -67.8 L-53.8 -67.2 L-51.6 -66.7 L-49.4 -66.2 L-47.5 -65.8 L-45.9 -65.5 L-44.8 -65.2Z M-30.2 -47.4 L-31.8 -47.7 L-34.1 -48.1 L-36.7 -48.7 L-39.4 -49.3 L-41.8 -49.9 L-44.0 -50.6 L-46.2 -51.3 L-48.3 -52.0 L-50.3 -52.8 L-52.0 -53.7 L-53.6 -54.7 L-55.1 -55.8 L-56.4 -57.0 L-57.5 -58.0 L-58.4 -58.7 L-59.3 -57.6 L-58.5 -56.9 L-57.4 -55.9 L-56.0 -54.7 L-54.5 -53.4 L-52.7 -52.4 L-50.9 -51.4 L-48.9 -50.6 L-46.7 -49.8 L-44.5 -49.1 L-42.2 -48.4 L-39.8 -47.7 L-37.1 -47.1 L-34.4 -46.5 L-32.2 -46.1 L-30.6 -45.7Z M-11.3 -28.0 L-11.5 -29.5 L-11.9 -31.5 L-12.3 -33.9 L-12.6 -36.4 L-12.7 -38.7 L-12.4 -40.9 L-11.9 -43.3 L-11.2 -45.7 L-10.6 -48.0 L-10.2 -50.3 L-10.0 -52.6 L-9.9 -54.9 L-9.9 -57.0 L-10.0 -58.9 L-10.0 -60.1 L-11.5 -60.1 L-11.5 -58.8 L-11.5 -57.0 L-11.5 -54.9 L-11.6 -52.7 L-11.8 -50.5 L-12.2 -48.4 L-12.9 -46.1 L-13.6 -43.7 L-14.2 -41.3 L-14.5 -38.8 L-14.5 -36.3 L-14.2 -33.7 L-13.9 -31.2 L-13.5 -29.1 L-13.3 -27.6Z M-9.6 -20.7 L-11.7 -21.8 L-14.6 -23.4 L-18.1 -25.1 L-21.6 -26.7 L-24.9 -27.8 L-27.8 -28.3 L-30.7 -28.4 L-33.3 -28.2 L-35.9 -27.9 L-38.2 -27.7 L-40.4 -27.6 L-42.5 -27.5 L-44.6 -27.3 L-46.7 -26.9 L-48.9 -26.2 L-51.1 -25.0 L-53.1 -23.5 L-55.1 -21.9 L-57.1 -20.3 L-59.3 -18.9 L-61.9 -17.7 L-65.0 -16.5 L-68.1 -15.3 L-70.8 -14.4 L-72.7 -13.7 L-72.2 -12.2 L-70.3 -12.8 L-67.5 -13.8 L-64.4 -14.8 L-61.2 -16.0 L-58.4 -17.3 L-56.0 -18.7 L-53.9 -20.3 L-51.9 -21.9 L-50.0 -23.3 L-48.1 -24.2 L-46.2 -24.8 L-44.3 -25.1 L-42.4 -25.2 L-40.3 -25.2 L-38.1 -25.3 L-35.6 -25.5 L-33.2 -25.7 L-30.6 -25.8 L-28.1 -25.7 L-25.6 -25.2 L-22.7 -24.1 L-19.3 -22.6 L-16.0 -20.8 L-13.1 -19.2 L-11.1 -18.1Z M-48.2 -26.0 L-49.6 -26.5 L-51.6 -27.2 L-53.9 -28.0 L-56.3 -28.9 L-58.5 -29.8 L-60.7 -30.8 L-63.1 -32.0 L-65.4 -33.2 L-67.4 -34.2 L-68.9 -34.9 L-69.5 -33.6 L-68.1 -32.9 L-66.1 -31.8 L-63.8 -30.6 L-61.4 -29.4 L-59.2 -28.4 L-56.9 -27.4 L-54.5 -26.5 L-52.2 -25.7 L-50.2 -24.9 L-48.8 -24.4Z M5.2 -8.7 L6.1 -10.6 L7.5 -13.3 L9.1 -16.4 L10.8 -19.5 L12.6 -22.1 L14.3 -24.5 L16.2 -26.7 L18.1 -28.8 L20.2 -30.6 L22.2 -32.2 L24.4 -33.3 L26.7 -34.2 L29.1 -34.9 L31.8 -35.5 L34.5 -36.0 L37.4 -36.6 L40.5 -37.0 L43.5 -37.4 L46.7 -37.6 L49.7 -37.6 L52.7 -37.2 L55.8 -36.5 L59.0 -35.7 L62.1 -35.0 L65.2 -34.6 L68.4 -34.5 L71.6 -34.7 L74.6 -34.9 L77.1 -35.2 L78.9 -35.4 L78.8 -37.0 L77.0 -36.9 L74.4 -36.7 L71.5 -36.5 L68.4 -36.4 L65.4 -36.6 L62.5 -37.1 L59.5 -37.9 L56.4 -38.8 L53.1 -39.6 L49.9 -40.0 L46.6 -40.2 L43.4 -40.1 L40.1 -39.8 L37.0 -39.4 L34.0 -39.0 L31.2 -38.5 L28.4 -38.0 L25.7 -37.3 L23.0 -36.4 L20.4 -35.1 L18.0 -33.4 L15.6 -31.4 L13.4 -29.2 L11.4 -26.9 L9.4 -24.4 L7.5 -21.6 L5.5 -18.4 L3.8 -15.3 L2.4 -12.6 L1.3 -10.7Z M22.2 -32.9 L23.3 -34.1 L24.7 -35.9 L26.4 -38.0 L28.2 -40.1 L29.9 -41.9 L31.5 -43.6 L33.2 -45.2 L34.9 -46.8 L36.8 -48.3 L38.7 -49.6 L40.8 -50.8 L43.0 -52.0 L45.4 -53.0 L47.7 -53.9 L50.0 -54.7 L52.3 -55.3 L54.6 -55.6 L57.0 -55.8 L59.4 -56.2 L61.7 -56.8 L64.0 -57.7 L66.3 -58.9 L68.4 -60.2 L70.2 -61.3 L71.5 -62.1 L70.8 -63.3 L69.5 -62.6 L67.6 -61.5 L65.5 -60.3 L63.3 -59.2 L61.2 -58.3 L59.1 -57.8 L56.8 -57.5 L54.4 -57.3 L52.0 -57.0 L49.5 -56.5 L47.1 -55.7 L44.6 -54.8 L42.2 -53.7 L39.8 -52.5 L37.6 -51.3 L35.5 -49.9 L33.6 -48.4 L31.8 -46.8 L30.0 -45.1 L28.3 -43.4 L26.5 -41.5 L24.7 -39.4 L22.9 -37.4 L21.5 -35.6 L20.4 -34.4Z M37.1 -49.0 L37.3 -50.8 L37.7 -53.3 L38.0 -56.2 L38.3 -59.2 L38.4 -62.1 L38.2 -64.8 L37.9 -67.5 L37.5 -70.1 L37.2 -72.7 L37.0 -75.0 L37.1 -77.2 L37.2 -79.4 L37.5 -81.4 L37.8 -83.3 L38.2 -85.1 L38.8 -86.9 L39.5 -88.7 L40.3 -90.4 L40.9 -91.8 L41.4 -92.8 L40.1 -93.4 L39.6 -92.4 L38.9 -91.0 L38.1 -89.3 L37.4 -87.4 L36.8 -85.6 L36.3 -83.6 L35.9 -81.6 L35.6 -79.5 L35.5 -77.3 L35.4 -75.0 L35.5 -72.5 L35.8 -69.9 L36.2 -67.3 L36.5 -64.6 L36.6 -62.1 L36.5 -59.3 L36.2 -56.4 L35.9 -53.5 L35.5 -51.0 L35.3 -49.3Z M36.3 -64.1 L35.0 -64.3 L33.2 -64.4 L31.1 -64.7 L28.9 -65.0 L26.7 -65.4 L24.2 -65.9 L21.4 -66.7 L18.6 -67.4 L16.1 -68.1 L14.4 -68.6 L14.0 -67.2 L15.7 -66.7 L18.2 -66.0 L21.0 -65.3 L23.8 -64.5 L26.4 -63.9 L28.7 -63.5 L30.9 -63.2 L33.1 -63.0 L34.8 -62.8 L36.1 -62.6Z M26.5 -30.2 L27.6 -30.2 L29.1 -30.3 L30.8 -30.4 L32.6 -30.4 L34.2 -30.2 L35.8 -30.0 L37.4 -29.8 L39.0 -29.4 L40.4 -29.0 L41.6 -28.4 L42.7 -27.6 L43.7 -26.5 L44.6 -25.3 L45.4 -24.3 L46.0 -23.5 L47.1 -24.4 L46.6 -25.1 L45.8 -26.2 L44.9 -27.5 L43.7 -28.7 L42.4 -29.7 L41.0 -30.4 L39.4 -31.0 L37.7 -31.3 L36.0 -31.6 L34.4 -31.8 L32.6 -32.0 L30.8 -32.0 L29.0 -32.0 L27.5 -31.9 L26.5 -31.9Z M0.6 15.2 L0.5 19.5 L0.5 25.6 L0.5 32.7 L0.5 39.8 L0.3 46.1 L0.0 51.6 L-0.3 56.9 L-0.8 62.0 L-1.2 67.0 L-1.5 71.9 L-1.7 77.0 L-1.9 82.1 L-2.0 87.0 L-2.1 91.1 L-2.3 94.0 L4.6 94.0 L4.5 91.1 L4.4 87.0 L4.3 82.2 L4.3 77.1 L4.3 72.1 L4.4 67.3 L4.6 62.4 L4.9 57.2 L5.0 51.8 L5.1 46.2 L5.1 39.8 L4.9 32.6 L4.7 25.5 L4.5 19.4 L4.3 15.1Z M-1.7 92.5 L-1.9 95.0 L-2.1 98.5 L-2.3 102.5 L-2.8 106.6 L-3.4 110.2 L-4.3 113.5 L-5.4 116.8 L-6.7 120.1 L-8.1 123.4 L-9.5 126.6 L-10.9 129.8 L-12.5 133.0 L-14.0 136.1 L-15.6 139.2 L-17.0 142.1 L-18.4 144.9 L-19.6 147.5 L-20.8 150.0 L-22.0 152.5 L-23.3 155.1 L-24.7 157.8 L-26.3 160.5 L-27.8 163.3 L-29.4 166.3 L-30.9 169.5 L-32.4 173.0 L-33.8 176.6 L-35.1 180.4 L-36.3 184.2 L-37.3 188.0 L-38.0 191.9 L-38.6 195.8 L-38.9 199.6 L-39.2 203.2 L-39.5 206.4 L-39.7 209.3 L-39.7 211.9 L-39.8 214.2 L-39.8 216.1 L-39.8 217.5 L-37.3 217.5 L-37.2 216.2 L-37.1 214.3 L-37.0 212.0 L-36.8 209.4 L-36.6 206.6 L-36.3 203.5 L-35.9 199.9 L-35.4 196.2 L-34.9 192.4 L-34.1 188.8 L-33.1 185.2 L-31.8 181.6 L-30.4 177.9 L-29.0 174.4 L-27.5 171.1 L-26.0 168.1 L-24.5 165.2 L-22.8 162.5 L-21.2 159.8 L-19.6 157.1 L-18.2 154.4 L-16.9 151.9 L-15.7 149.4 L-14.4 146.9 L-13.0 144.2 L-11.5 141.3 L-9.8 138.3 L-8.2 135.1 L-6.5 131.9 L-5.0 128.7 L-3.5 125.4 L-2.0 122.1 L-0.5 118.6 L0.8 115.1 L1.8 111.4 L2.6 107.4 L3.2 103.1 L3.6 98.9 L3.8 95.4 L4.1 92.9Z M-22.8 156.6 L-22.1 158.3 L-21.1 160.7 L-19.9 163.5 L-18.7 166.5 L-17.6 169.5 L-16.5 172.5 L-15.5 175.9 L-14.5 179.4 L-13.4 182.9 L-12.3 186.2 L-11.0 189.6 L-9.5 192.9 L-8.1 196.1 L-6.8 199.1 L-5.7 201.7 L-5.0 203.9 L-4.4 205.7 L-4.0 207.3 L-3.8 208.8 L-3.7 210.4 L-3.9 212.2 L-4.4 214.2 L-4.9 216.2 L-5.5 217.9 L-5.8 219.2 L-4.0 219.7 L-3.6 218.5 L-3.1 216.8 L-2.4 214.7 L-1.9 212.5 L-1.7 210.4 L-1.7 208.6 L-1.9 206.9 L-2.3 205.1 L-2.8 203.2 L-3.6 201.0 L-4.6 198.2 L-5.9 195.2 L-7.3 192.0 L-8.7 188.7 L-10.0 185.4 L-11.0 182.1 L-12.1 178.6 L-13.0 175.2 L-14.0 171.8 L-15.0 168.6 L-16.1 165.5 L-17.3 162.4 L-18.5 159.6 L-19.4 157.2 L-20.1 155.5Z M-29.5 169.3 L-31.1 169.8 L-33.4 170.4 L-36.1 171.2 L-38.8 172.2 L-41.3 173.3 L-43.5 174.6 L-45.5 176.1 L-47.6 177.7 L-49.6 179.4 L-51.8 181.3 L-54.3 183.6 L-57.1 186.3 L-59.9 189.0 L-62.3 191.4 L-64.0 193.1 L-63.0 194.1 L-61.3 192.5 L-58.8 190.1 L-56.0 187.5 L-53.2 184.8 L-50.7 182.6 L-48.5 180.7 L-46.4 179.1 L-44.5 177.6 L-42.5 176.2 L-40.4 175.0 L-38.1 174.0 L-35.4 173.1 L-32.8 172.4 L-30.5 171.8 L-28.9 171.4Z M0.3 96.1 L1.2 99.1 L2.5 103.4 L4.0 108.4 L5.6 113.5 L7.0 118.1 L8.5 122.2 L10.0 126.1 L11.4 129.9 L12.7 133.6 L13.7 137.2 L14.4 141.0 L14.9 144.8 L15.3 148.7 L15.6 152.5 L15.8 156.2 L15.9 159.7 L16.0 163.0 L16.0 166.3 L15.8 169.4 L15.4 172.5 L14.8 175.5 L13.8 178.5 L12.8 181.5 L11.6 184.6 L10.5 187.9 L9.5 191.2 L8.3 194.7 L7.2 198.2 L6.3 201.7 L5.5 204.9 L5.1 208.2 L4.9 211.3 L4.9 214.2 L5.0 216.7 L5.0 218.4 L7.4 218.4 L7.5 216.7 L7.6 214.3 L7.7 211.5 L8.0 208.5 L8.4 205.5 L9.2 202.5 L10.2 199.2 L11.4 195.7 L12.6 192.3 L13.8 189.0 L14.9 185.9 L16.1 182.8 L17.3 179.7 L18.4 176.6 L19.2 173.3 L19.8 169.9 L20.1 166.5 L20.2 163.1 L20.2 159.6 L20.2 156.0 L20.1 152.3 L19.9 148.3 L19.6 144.3 L19.1 140.2 L18.4 136.2 L17.4 132.1 L16.2 128.2 L14.8 124.3 L13.4 120.5 L12.1 116.5 L10.8 111.9 L9.3 106.9 L7.9 101.9 L6.7 97.5 L5.9 94.5Z M16.5 168.6 L17.4 170.2 L18.7 172.4 L20.3 175.1 L22.0 177.8 L23.9 180.4 L25.9 182.6 L28.2 184.7 L30.5 186.6 L32.5 188.6 L34.3 190.6 L35.8 192.7 L37.2 194.7 L38.3 196.9 L39.3 199.1 L40.0 201.6 L40.4 204.6 L40.5 208.3 L40.4 211.9 L40.3 215.2 L40.2 217.5 L42.5 217.5 L42.6 215.3 L42.8 212.0 L42.9 208.3 L42.9 204.5 L42.5 201.1 L41.8 198.3 L40.8 195.7 L39.6 193.4 L38.1 191.1 L36.6 188.8 L34.7 186.6 L32.5 184.4 L30.2 182.4 L28.1 180.4 L26.3 178.4 L24.7 176.0 L23.1 173.4 L21.6 170.8 L20.4 168.5 L19.5 166.9Z M16.6 140.3 L17.8 141.2 L19.5 142.3 L21.5 143.7 L23.6 145.2 L25.7 146.7 L27.8 148.1 L29.9 149.4 L32.1 150.8 L34.1 152.4 L36.0 154.2 L37.5 156.3 L39.0 158.7 L40.4 161.4 L41.9 164.2 L43.8 167.0 L46.2 169.8 L49.1 172.8 L52.0 175.7 L54.5 178.1 L56.3 179.9 L57.3 178.9 L55.6 177.1 L53.1 174.6 L50.2 171.7 L47.5 168.7 L45.2 165.9 L43.5 163.3 L42.0 160.6 L40.6 157.8 L39.2 155.2 L37.5 152.8 L35.5 150.8 L33.3 149.1 L31.2 147.6 L29.0 146.2 L27.0 144.8 L25.0 143.3 L22.9 141.8 L21.0 140.3 L19.3 139.1 L18.1 138.2Z M3.8 98.8 L5.1 99.6 L7.0 100.8 L9.1 102.1 L11.1 103.6 L12.7 105.1 L13.9 106.6 L14.8 108.3 L15.8 110.2 L16.7 112.1 L17.8 113.9 L19.0 115.6 L20.2 117.1 L21.5 118.6 L22.8 120.1 L24.4 121.8 L26.3 123.7 L28.5 125.8 L30.7 127.9 L32.9 130.0 L34.8 132.1 L36.5 134.1 L38.0 136.0 L39.5 138.1 L41.0 140.1 L42.6 142.3 L44.4 144.8 L46.5 147.7 L48.6 150.5 L50.4 152.9 L51.7 154.6 L52.8 153.7 L51.6 152.0 L49.8 149.6 L47.8 146.8 L45.7 143.9 L43.8 141.4 L42.2 139.2 L40.8 137.1 L39.3 135.1 L37.8 133.0 L36.1 131.0 L34.1 128.8 L31.9 126.6 L29.7 124.5 L27.6 122.4 L25.7 120.5 L24.2 118.9 L22.9 117.3 L21.7 115.9 L20.5 114.4 L19.4 112.9 L18.4 111.2 L17.5 109.3 L16.6 107.4 L15.6 105.5 L14.2 103.7 L12.4 102.0 L10.3 100.4 L8.1 99.0 L6.3 97.8 L5.0 97.0Z M17.8 113.7 L18.3 115.1 L18.9 117.1 L19.7 119.5 L20.7 121.9 L21.8 124.2 L23.1 126.3 L24.8 128.4 L26.5 130.4 L28.0 132.1 L29.0 133.3 L30.2 132.3 L29.2 131.1 L27.8 129.4 L26.1 127.4 L24.5 125.3 L23.2 123.3 L22.2 121.3 L21.3 118.9 L20.6 116.6 L19.9 114.6 L19.4 113.1Z M0.7 90.4 L0.1 89.2 L-0.7 87.2 L-1.7 85.1 L-2.9 83.3 L-4.5 82.2 L-6.3 82.4 L-8.0 83.4 L-9.7 84.8 L-11.4 86.5 L-13.0 88.4 L-14.7 90.8 L-16.5 93.7 L-18.3 96.8 L-19.8 99.5 L-20.8 101.4 L-19.5 102.1 L-18.5 100.3 L-17.0 97.6 L-15.2 94.5 L-13.5 91.6 L-11.8 89.3 L-10.2 87.5 L-8.6 85.9 L-7.1 84.7 L-5.7 84.0 L-4.9 83.8 L-4.1 84.4 L-3.1 85.9 L-2.2 87.9 L-1.5 89.8 L-0.9 91.1Z M-0.7 95.8 L-1.7 97.5 L-3.1 99.9 L-4.7 102.6 L-6.5 105.2 L-8.2 107.3 L-9.9 108.9 L-11.8 110.2 L-13.8 111.4 L-16.0 112.5 L-18.1 113.6 L-20.2 114.6 L-22.3 115.4 L-24.5 116.2 L-26.8 116.9 L-29.4 117.5 L-32.4 117.9 L-35.8 118.1 L-39.4 118.2 L-42.9 118.4 L-46.2 118.9 L-49.1 119.4 L-51.9 120.0 L-54.6 120.7 L-57.1 121.7 L-59.5 123.0 L-61.7 124.8 L-63.6 126.9 L-65.3 129.2 L-67.0 131.5 L-68.6 133.6 L-70.5 135.6 L-72.4 137.7 L-74.3 139.7 L-75.8 141.4 L-77.0 142.7 L-75.9 143.6 L-74.7 142.5 L-73.1 140.8 L-71.3 138.8 L-69.3 136.7 L-67.4 134.6 L-65.6 132.5 L-63.9 130.3 L-62.2 128.1 L-60.4 126.1 L-58.4 124.5 L-56.3 123.4 L-54.0 122.5 L-51.5 121.9 L-48.7 121.4 L-45.9 120.9 L-42.7 120.5 L-39.3 120.4 L-35.7 120.3 L-32.2 120.1 L-29.0 119.7 L-26.3 119.1 L-23.8 118.5 L-21.5 117.7 L-19.3 116.8 L-17.1 115.8 L-14.8 114.8 L-12.6 113.7 L-10.4 112.4 L-8.3 110.9 L-6.3 109.2 L-4.3 106.9 L-2.4 104.2 L-0.7 101.4 L0.7 99.0 L1.8 97.4Z M-30.9 119.3 L-32.5 120.3 L-34.8 121.8 L-37.4 123.5 L-40.1 125.3 L-42.6 127.1 L-45.0 128.9 L-47.6 131.0 L-50.0 133.1 L-52.1 134.9 L-53.6 136.1 L-52.7 137.2 L-51.2 136.0 L-49.1 134.2 L-46.7 132.2 L-44.1 130.1 L-41.7 128.2 L-39.3 126.5 L-36.6 124.7 L-34.0 123.0 L-31.7 121.5 L-30.1 120.5Z M-5.2 122.6 L-7.3 123.7 L-10.2 125.1 L-13.7 126.8 L-17.3 128.7 L-20.7 130.6 L-23.8 132.5 L-27.0 134.5 L-30.1 136.6 L-33.2 138.8 L-36.2 141.2 L-39.5 143.8 L-42.9 146.8 L-46.2 149.8 L-49.1 152.4 L-51.0 154.3 L-50.1 155.3 L-48.0 153.6 L-45.2 151.0 L-41.9 148.1 L-38.4 145.1 L-35.1 142.6 L-32.1 140.3 L-29.0 138.2 L-25.9 136.2 L-22.7 134.3 L-19.6 132.4 L-16.3 130.6 L-12.7 128.9 L-9.2 127.2 L-6.3 125.9 L-4.1 124.9Z" fill="#9674ba" stroke="#9674ba" stroke-width="0.5" stroke-linejoin="round"/>
<path d="M0.0 -12.7 C1.2 -12.5 5.1 -12.7 7.1 -11.6 C9.1 -10.6 11.1 -8.6 12.0 -6.5 C13.0 -4.3 13.1 -1.3 12.7 1.3 C12.3 3.9 10.8 6.8 9.7 9.1 C8.6 11.3 6.9 12.8 5.8 14.9 C4.8 16.9 4.5 20.3 3.5 21.3 C2.5 22.4 1.0 22.4 0.0 21.3 C-1.0 20.3 -1.3 16.8 -2.6 14.9 C-3.9 12.9 -6.3 11.7 -7.8 9.7 C-9.3 7.7 -10.9 5.2 -11.6 2.6 C-12.3 0.0 -12.7 -3.5 -11.9 -5.8 C-11.1 -8.1 -9.1 -10.2 -7.1 -11.4 C-5.1 -12.5 -1.2 -12.5 0.0 -12.7Z" fill="#9674ba"/>
<circle cx="-0.6" cy="0.0" r="6.3" fill="#7448a6"/>
<circle cx="-0.6" cy="0.0" r="1.9" fill="#47206e"/>
</g>
<g id="astS1">
<path d="M-0.1 1.0 L1.1 1.0 L2.8 1.0 L4.7 1.1 L6.6 1.2 L8.4 1.4 L10.1 1.7 L11.7 2.0 L13.4 2.4 L15.1 2.9 L16.7 3.5 L18.4 4.1 L20.2 5.0 L22.0 5.9 L23.5 6.7 L24.6 7.2 L24.9 6.7 L23.8 6.1 L22.4 5.2 L20.6 4.2 L18.8 3.3 L17.1 2.5 L15.4 1.8 L13.8 1.2 L12.1 0.7 L10.4 0.3 L8.7 -0.1 L6.8 -0.4 L4.8 -0.6 L2.9 -0.8 L1.2 -0.9 L0.1 -1.0Z M14.5 2.4 L15.1 2.0 L15.8 1.3 L16.7 0.6 L17.6 -0.1 L18.6 -0.6 L19.6 -1.0 L20.8 -1.3 L21.9 -1.6 L23.0 -1.8 L23.7 -1.9 L23.6 -2.4 L22.9 -2.3 L21.8 -2.1 L20.6 -1.9 L19.4 -1.6 L18.3 -1.3 L17.2 -0.8 L16.2 -0.1 L15.3 0.6 L14.5 1.2 L13.9 1.6Z M17.5 3.4 L17.9 3.0 L18.4 2.4 L19.1 1.7 L19.7 1.0 L20.4 0.5 L21.2 0.1 L22.1 -0.3 L23.0 -0.6 L23.8 -0.9 L24.4 -1.1 L24.3 -1.5 L23.7 -1.4 L22.9 -1.1 L21.9 -0.9 L20.9 -0.5 L20.0 -0.1 L19.3 0.4 L18.5 1.1 L17.8 1.8 L17.2 2.3 L16.8 2.7Z M20.5 0.2 L20.5 -0.4 L20.5 -1.2 L20.5 -2.2 L20.5 -3.0 L20.5 -3.6 L20.1 -3.6 L20.1 -3.0 L20.1 -2.2 L20.0 -1.2 L20.0 -0.4 L19.9 0.2Z M-0.8 0.6 L-0.1 1.5 L0.8 2.7 L2.0 4.1 L3.1 5.6 L4.2 7.0 L5.2 8.2 L6.3 9.5 L7.3 10.8 L8.3 12.0 L9.4 13.3 L10.5 14.6 L11.7 16.0 L12.9 17.4 L13.9 18.6 L14.7 19.4 L15.1 19.1 L14.4 18.2 L13.5 16.9 L12.4 15.5 L11.2 14.0 L10.2 12.6 L9.2 11.3 L8.3 10.0 L7.3 8.7 L6.4 7.4 L5.4 6.1 L4.4 4.6 L3.3 3.1 L2.3 1.6 L1.4 0.3 L0.8 -0.6Z M8.9 12.5 L9.4 12.7 L10.2 12.9 L11.0 13.2 L11.9 13.6 L12.6 14.0 L13.3 14.5 L14.0 15.2 L14.6 15.9 L15.2 16.5 L15.6 16.9 L15.9 16.6 L15.6 16.2 L15.0 15.5 L14.4 14.7 L13.7 14.0 L13.0 13.4 L12.2 12.9 L11.3 12.4 L10.5 12.1 L9.7 11.8 L9.2 11.5Z M12.9 14.0 L13.4 13.7 L14.2 13.4 L15.0 13.0 L15.8 12.7 L16.3 12.5 L16.2 12.1 L15.6 12.3 L14.9 12.6 L14.0 12.9 L13.2 13.2 L12.7 13.4Z M-0.9 -0.4 L-1.3 0.6 L-1.8 2.1 L-2.4 3.7 L-3.1 5.5 L-3.7 7.0 L-4.3 8.5 L-4.9 10.0 L-5.5 11.4 L-6.1 12.9 L-6.7 14.3 L-7.4 15.9 L-8.2 17.5 L-9.0 19.1 L-9.6 20.5 L-10.1 21.5 L-9.6 21.7 L-9.0 20.8 L-8.3 19.5 L-7.5 17.9 L-6.6 16.3 L-5.8 14.8 L-5.1 13.4 L-4.3 11.9 L-3.6 10.5 L-2.9 9.1 L-2.3 7.6 L-1.6 6.1 L-0.8 4.4 L-0.1 2.7 L0.5 1.4 L0.9 0.4Z M-5.6 12.3 L-6.2 12.6 L-7.1 13.2 L-8.1 13.7 L-9.1 14.3 L-10.1 14.6 L-11.1 14.9 L-12.3 15.0 L-13.5 15.0 L-14.6 15.1 L-15.3 15.1 L-15.3 15.6 L-14.6 15.6 L-13.5 15.6 L-12.3 15.6 L-11.1 15.5 L-9.9 15.3 L-8.8 15.0 L-7.7 14.5 L-6.6 13.9 L-5.8 13.5 L-5.1 13.2Z M-9.9 14.7 L-10.6 14.5 L-11.5 14.2 L-12.6 13.8 L-13.6 13.5 L-14.3 13.3 L-14.4 13.6 L-13.8 13.9 L-12.8 14.2 L-11.7 14.6 L-10.7 15.0 L-10.1 15.3Z M-0.4 -0.9 L-1.5 -0.4 L-2.9 0.3 L-4.6 1.1 L-6.4 1.9 L-8.1 2.6 L-9.7 3.1 L-11.4 3.5 L-13.0 3.9 L-14.7 4.2 L-16.4 4.4 L-18.2 4.6 L-20.3 4.6 L-22.2 4.6 L-23.9 4.6 L-25.1 4.6 L-25.2 5.2 L-24.0 5.3 L-22.3 5.4 L-20.3 5.5 L-18.2 5.5 L-16.3 5.5 L-14.6 5.3 L-12.8 5.1 L-11.1 4.8 L-9.4 4.4 L-7.7 4.0 L-5.9 3.4 L-4.0 2.7 L-2.2 2.0 L-0.7 1.3 L0.4 0.9Z M-15.7 4.4 L-16.4 4.2 L-17.3 3.9 L-18.4 3.6 L-19.5 3.2 L-20.4 2.7 L-21.3 2.0 L-22.2 1.2 L-23.1 0.3 L-23.8 -0.4 L-24.3 -0.9 L-24.6 -0.6 L-24.1 -0.1 L-23.5 0.7 L-22.6 1.6 L-21.8 2.5 L-20.8 3.3 L-19.8 3.9 L-18.7 4.4 L-17.6 4.8 L-16.7 5.1 L-16.0 5.4Z M-20.8 2.7 L-21.4 3.0 L-22.3 3.4 L-23.4 3.9 L-24.3 4.4 L-25.0 4.7 L-24.8 5.0 L-24.2 4.8 L-23.2 4.4 L-22.1 3.9 L-21.2 3.5 L-20.5 3.3Z M0.4 -0.9 L-0.8 -1.4 L-2.5 -2.0 L-4.5 -2.7 L-6.5 -3.5 L-8.5 -4.1 L-10.3 -4.7 L-12.1 -5.3 L-13.9 -5.8 L-15.7 -6.3 L-17.5 -6.9 L-19.4 -7.4 L-21.6 -7.9 L-23.6 -8.4 L-25.4 -8.8 L-26.6 -9.1 L-26.8 -8.6 L-25.5 -8.2 L-23.8 -7.7 L-21.8 -7.1 L-19.7 -6.5 L-17.8 -5.9 L-16.0 -5.3 L-14.2 -4.6 L-12.5 -4.0 L-10.7 -3.4 L-9.0 -2.7 L-7.1 -1.9 L-5.1 -1.1 L-3.2 -0.3 L-1.5 0.4 L-0.4 0.9Z M-18.6 -7.1 L-19.5 -6.8 L-20.7 -6.4 L-22.2 -6.0 L-23.7 -5.7 L-25.1 -5.5 L-26.6 -5.6 L-28.2 -5.9 L-29.7 -6.2 L-31.1 -6.5 L-32.0 -6.7 L-32.1 -6.3 L-31.2 -6.0 L-29.8 -5.7 L-28.3 -5.3 L-26.6 -5.0 L-25.1 -4.8 L-23.6 -4.9 L-22.0 -5.2 L-20.5 -5.6 L-19.2 -5.9 L-18.3 -6.1Z M-24.9 -5.4 L-25.7 -5.9 L-26.9 -6.7 L-28.2 -7.5 L-29.3 -8.3 L-30.1 -8.8 L-30.3 -8.5 L-29.6 -7.9 L-28.4 -7.1 L-27.2 -6.3 L-26.0 -5.5 L-25.3 -4.9Z M1.0 -0.1 L0.9 -1.2 L0.8 -2.7 L0.6 -4.5 L0.4 -6.4 L0.1 -8.2 L-0.3 -9.8 L-0.8 -11.4 L-1.3 -13.0 L-1.8 -14.6 L-2.5 -16.2 L-3.3 -17.8 L-4.2 -19.5 L-5.1 -21.1 L-6.0 -22.5 L-6.6 -23.5 L-7.0 -23.2 L-6.5 -22.2 L-5.8 -20.8 L-4.9 -19.1 L-4.1 -17.4 L-3.4 -15.8 L-2.9 -14.2 L-2.4 -12.7 L-2.0 -11.1 L-1.7 -9.5 L-1.4 -8.0 L-1.2 -6.3 L-1.1 -4.4 L-1.0 -2.6 L-1.0 -1.1 L-1.0 0.1Z M-2.6 -15.8 L-2.3 -16.3 L-1.8 -17.0 L-1.2 -17.8 L-0.6 -18.6 L0.0 -19.2 L0.7 -19.8 L1.6 -20.3 L2.5 -20.8 L3.3 -21.2 L3.9 -21.5 L3.7 -21.9 L3.1 -21.6 L2.3 -21.3 L1.3 -20.8 L0.4 -20.3 L-0.5 -19.8 L-1.2 -19.1 L-1.9 -18.3 L-2.5 -17.5 L-3.0 -16.8 L-3.4 -16.4Z M-0.2 -19.2 L0.4 -19.3 L1.3 -19.4 L2.3 -19.5 L3.1 -19.6 L3.7 -19.7 L3.7 -20.0 L3.1 -20.0 L2.2 -20.0 L1.2 -19.9 L0.3 -19.8 L-0.3 -19.8Z M0.7 0.7 L1.4 -0.1 L2.3 -1.1 L3.4 -2.4 L4.5 -3.7 L5.5 -4.9 L6.4 -6.1 L7.3 -7.3 L8.1 -8.6 L8.9 -9.8 L9.7 -11.1 L10.5 -12.5 L11.3 -14.0 L12.0 -15.5 L12.7 -16.8 L13.1 -17.7 L12.6 -18.0 L12.1 -17.1 L11.4 -15.9 L10.6 -14.4 L9.7 -13.0 L8.8 -11.6 L8.0 -10.4 L7.1 -9.3 L6.2 -8.1 L5.3 -7.0 L4.4 -5.9 L3.3 -4.7 L2.2 -3.5 L1.0 -2.4 L-0.0 -1.4 L-0.7 -0.7Z M5.9 -6.1 L6.4 -6.1 L7.1 -6.1 L7.9 -6.0 L8.7 -6.0 L9.5 -5.8 L10.2 -5.5 L10.9 -5.1 L11.7 -4.7 L12.3 -4.3 L12.8 -4.0 L13.0 -4.4 L12.6 -4.7 L12.0 -5.2 L11.3 -5.6 L10.5 -6.1 L9.7 -6.5 L8.9 -6.7 L8.0 -6.9 L7.2 -7.0 L6.5 -7.0 L6.0 -7.1Z M9.3 -5.9 L9.7 -5.6 L10.1 -5.0 L10.6 -4.3 L11.1 -3.8 L11.4 -3.4 L11.7 -3.6 L11.4 -4.0 L11.0 -4.6 L10.5 -5.3 L10.1 -5.9 L9.8 -6.3Z" fill="#b0e8b0" stroke="#b0e8b0" stroke-width="1.5" opacity="0.35" stroke-linejoin="round"/>
<path d="M-0.1 1.0 L1.1 1.0 L2.8 1.0 L4.7 1.1 L6.6 1.2 L8.4 1.4 L10.1 1.7 L11.7 2.0 L13.4 2.4 L15.1 2.9 L16.7 3.5 L18.4 4.1 L20.2 5.0 L22.0 5.9 L23.5 6.7 L24.6 7.2 L24.9 6.7 L23.8 6.1 L22.4 5.2 L20.6 4.2 L18.8 3.3 L17.1 2.5 L15.4 1.8 L13.8 1.2 L12.1 0.7 L10.4 0.3 L8.7 -0.1 L6.8 -0.4 L4.8 -0.6 L2.9 -0.8 L1.2 -0.9 L0.1 -1.0Z M14.5 2.4 L15.1 2.0 L15.8 1.3 L16.7 0.6 L17.6 -0.1 L18.6 -0.6 L19.6 -1.0 L20.8 -1.3 L21.9 -1.6 L23.0 -1.8 L23.7 -1.9 L23.6 -2.4 L22.9 -2.3 L21.8 -2.1 L20.6 -1.9 L19.4 -1.6 L18.3 -1.3 L17.2 -0.8 L16.2 -0.1 L15.3 0.6 L14.5 1.2 L13.9 1.6Z M17.5 3.4 L17.9 3.0 L18.4 2.4 L19.1 1.7 L19.7 1.0 L20.4 0.5 L21.2 0.1 L22.1 -0.3 L23.0 -0.6 L23.8 -0.9 L24.4 -1.1 L24.3 -1.5 L23.7 -1.4 L22.9 -1.1 L21.9 -0.9 L20.9 -0.5 L20.0 -0.1 L19.3 0.4 L18.5 1.1 L17.8 1.8 L17.2 2.3 L16.8 2.7Z M20.5 0.2 L20.5 -0.4 L20.5 -1.2 L20.5 -2.2 L20.5 -3.0 L20.5 -3.6 L20.1 -3.6 L20.1 -3.0 L20.1 -2.2 L20.0 -1.2 L20.0 -0.4 L19.9 0.2Z M-0.8 0.6 L-0.1 1.5 L0.8 2.7 L2.0 4.1 L3.1 5.6 L4.2 7.0 L5.2 8.2 L6.3 9.5 L7.3 10.8 L8.3 12.0 L9.4 13.3 L10.5 14.6 L11.7 16.0 L12.9 17.4 L13.9 18.6 L14.7 19.4 L15.1 19.1 L14.4 18.2 L13.5 16.9 L12.4 15.5 L11.2 14.0 L10.2 12.6 L9.2 11.3 L8.3 10.0 L7.3 8.7 L6.4 7.4 L5.4 6.1 L4.4 4.6 L3.3 3.1 L2.3 1.6 L1.4 0.3 L0.8 -0.6Z M8.9 12.5 L9.4 12.7 L10.2 12.9 L11.0 13.2 L11.9 13.6 L12.6 14.0 L13.3 14.5 L14.0 15.2 L14.6 15.9 L15.2 16.5 L15.6 16.9 L15.9 16.6 L15.6 16.2 L15.0 15.5 L14.4 14.7 L13.7 14.0 L13.0 13.4 L12.2 12.9 L11.3 12.4 L10.5 12.1 L9.7 11.8 L9.2 11.5Z M12.9 14.0 L13.4 13.7 L14.2 13.4 L15.0 13.0 L15.8 12.7 L16.3 12.5 L16.2 12.1 L15.6 12.3 L14.9 12.6 L14.0 12.9 L13.2 13.2 L12.7 13.4Z M-0.9 -0.4 L-1.3 0.6 L-1.8 2.1 L-2.4 3.7 L-3.1 5.5 L-3.7 7.0 L-4.3 8.5 L-4.9 10.0 L-5.5 11.4 L-6.1 12.9 L-6.7 14.3 L-7.4 15.9 L-8.2 17.5 L-9.0 19.1 L-9.6 20.5 L-10.1 21.5 L-9.6 21.7 L-9.0 20.8 L-8.3 19.5 L-7.5 17.9 L-6.6 16.3 L-5.8 14.8 L-5.1 13.4 L-4.3 11.9 L-3.6 10.5 L-2.9 9.1 L-2.3 7.6 L-1.6 6.1 L-0.8 4.4 L-0.1 2.7 L0.5 1.4 L0.9 0.4Z M-5.6 12.3 L-6.2 12.6 L-7.1 13.2 L-8.1 13.7 L-9.1 14.3 L-10.1 14.6 L-11.1 14.9 L-12.3 15.0 L-13.5 15.0 L-14.6 15.1 L-15.3 15.1 L-15.3 15.6 L-14.6 15.6 L-13.5 15.6 L-12.3 15.6 L-11.1 15.5 L-9.9 15.3 L-8.8 15.0 L-7.7 14.5 L-6.6 13.9 L-5.8 13.5 L-5.1 13.2Z M-9.9 14.7 L-10.6 14.5 L-11.5 14.2 L-12.6 13.8 L-13.6 13.5 L-14.3 13.3 L-14.4 13.6 L-13.8 13.9 L-12.8 14.2 L-11.7 14.6 L-10.7 15.0 L-10.1 15.3Z M-0.4 -0.9 L-1.5 -0.4 L-2.9 0.3 L-4.6 1.1 L-6.4 1.9 L-8.1 2.6 L-9.7 3.1 L-11.4 3.5 L-13.0 3.9 L-14.7 4.2 L-16.4 4.4 L-18.2 4.6 L-20.3 4.6 L-22.2 4.6 L-23.9 4.6 L-25.1 4.6 L-25.2 5.2 L-24.0 5.3 L-22.3 5.4 L-20.3 5.5 L-18.2 5.5 L-16.3 5.5 L-14.6 5.3 L-12.8 5.1 L-11.1 4.8 L-9.4 4.4 L-7.7 4.0 L-5.9 3.4 L-4.0 2.7 L-2.2 2.0 L-0.7 1.3 L0.4 0.9Z M-15.7 4.4 L-16.4 4.2 L-17.3 3.9 L-18.4 3.6 L-19.5 3.2 L-20.4 2.7 L-21.3 2.0 L-22.2 1.2 L-23.1 0.3 L-23.8 -0.4 L-24.3 -0.9 L-24.6 -0.6 L-24.1 -0.1 L-23.5 0.7 L-22.6 1.6 L-21.8 2.5 L-20.8 3.3 L-19.8 3.9 L-18.7 4.4 L-17.6 4.8 L-16.7 5.1 L-16.0 5.4Z M-20.8 2.7 L-21.4 3.0 L-22.3 3.4 L-23.4 3.9 L-24.3 4.4 L-25.0 4.7 L-24.8 5.0 L-24.2 4.8 L-23.2 4.4 L-22.1 3.9 L-21.2 3.5 L-20.5 3.3Z M0.4 -0.9 L-0.8 -1.4 L-2.5 -2.0 L-4.5 -2.7 L-6.5 -3.5 L-8.5 -4.1 L-10.3 -4.7 L-12.1 -5.3 L-13.9 -5.8 L-15.7 -6.3 L-17.5 -6.9 L-19.4 -7.4 L-21.6 -7.9 L-23.6 -8.4 L-25.4 -8.8 L-26.6 -9.1 L-26.8 -8.6 L-25.5 -8.2 L-23.8 -7.7 L-21.8 -7.1 L-19.7 -6.5 L-17.8 -5.9 L-16.0 -5.3 L-14.2 -4.6 L-12.5 -4.0 L-10.7 -3.4 L-9.0 -2.7 L-7.1 -1.9 L-5.1 -1.1 L-3.2 -0.3 L-1.5 0.4 L-0.4 0.9Z M-18.6 -7.1 L-19.5 -6.8 L-20.7 -6.4 L-22.2 -6.0 L-23.7 -5.7 L-25.1 -5.5 L-26.6 -5.6 L-28.2 -5.9 L-29.7 -6.2 L-31.1 -6.5 L-32.0 -6.7 L-32.1 -6.3 L-31.2 -6.0 L-29.8 -5.7 L-28.3 -5.3 L-26.6 -5.0 L-25.1 -4.8 L-23.6 -4.9 L-22.0 -5.2 L-20.5 -5.6 L-19.2 -5.9 L-18.3 -6.1Z M-24.9 -5.4 L-25.7 -5.9 L-26.9 -6.7 L-28.2 -7.5 L-29.3 -8.3 L-30.1 -8.8 L-30.3 -8.5 L-29.6 -7.9 L-28.4 -7.1 L-27.2 -6.3 L-26.0 -5.5 L-25.3 -4.9Z M1.0 -0.1 L0.9 -1.2 L0.8 -2.7 L0.6 -4.5 L0.4 -6.4 L0.1 -8.2 L-0.3 -9.8 L-0.8 -11.4 L-1.3 -13.0 L-1.8 -14.6 L-2.5 -16.2 L-3.3 -17.8 L-4.2 -19.5 L-5.1 -21.1 L-6.0 -22.5 L-6.6 -23.5 L-7.0 -23.2 L-6.5 -22.2 L-5.8 -20.8 L-4.9 -19.1 L-4.1 -17.4 L-3.4 -15.8 L-2.9 -14.2 L-2.4 -12.7 L-2.0 -11.1 L-1.7 -9.5 L-1.4 -8.0 L-1.2 -6.3 L-1.1 -4.4 L-1.0 -2.6 L-1.0 -1.1 L-1.0 0.1Z M-2.6 -15.8 L-2.3 -16.3 L-1.8 -17.0 L-1.2 -17.8 L-0.6 -18.6 L0.0 -19.2 L0.7 -19.8 L1.6 -20.3 L2.5 -20.8 L3.3 -21.2 L3.9 -21.5 L3.7 -21.9 L3.1 -21.6 L2.3 -21.3 L1.3 -20.8 L0.4 -20.3 L-0.5 -19.8 L-1.2 -19.1 L-1.9 -18.3 L-2.5 -17.5 L-3.0 -16.8 L-3.4 -16.4Z M-0.2 -19.2 L0.4 -19.3 L1.3 -19.4 L2.3 -19.5 L3.1 -19.6 L3.7 -19.7 L3.7 -20.0 L3.1 -20.0 L2.2 -20.0 L1.2 -19.9 L0.3 -19.8 L-0.3 -19.8Z M0.7 0.7 L1.4 -0.1 L2.3 -1.1 L3.4 -2.4 L4.5 -3.7 L5.5 -4.9 L6.4 -6.1 L7.3 -7.3 L8.1 -8.6 L8.9 -9.8 L9.7 -11.1 L10.5 -12.5 L11.3 -14.0 L12.0 -15.5 L12.7 -16.8 L13.1 -17.7 L12.6 -18.0 L12.1 -17.1 L11.4 -15.9 L10.6 -14.4 L9.7 -13.0 L8.8 -11.6 L8.0 -10.4 L7.1 -9.3 L6.2 -8.1 L5.3 -7.0 L4.4 -5.9 L3.3 -4.7 L2.2 -3.5 L1.0 -2.4 L-0.0 -1.4 L-0.7 -0.7Z M5.9 -6.1 L6.4 -6.1 L7.1 -6.1 L7.9 -6.0 L8.7 -6.0 L9.5 -5.8 L10.2 -5.5 L10.9 -5.1 L11.7 -4.7 L12.3 -4.3 L12.8 -4.0 L13.0 -4.4 L12.6 -4.7 L12.0 -5.2 L11.3 -5.6 L10.5 -6.1 L9.7 -6.5 L8.9 -6.7 L8.0 -6.9 L7.2 -7.0 L6.5 -7.0 L6.0 -7.1Z M9.3 -5.9 L9.7 -5.6 L10.1 -5.0 L10.6 -4.3 L11.1 -3.8 L11.4 -3.4 L11.7 -3.6 L11.4 -4.0 L11.0 -4.6 L10.5 -5.3 L10.1 -5.9 L9.8 -6.3Z" fill="#6cbd6c" stroke="#6cbd6c" stroke-width="0.4"/>
<circle cx="0" cy="0" r="4.9" fill="#4fc24f"/>
<circle cx="0" cy="0" r="2.6" fill="#2fae2f"/>
</g>
<g id="astS2">
<path d="M-0.3 1.0 L1.0 1.3 L2.8 1.7 L4.9 2.3 L7.0 2.9 L8.9 3.6 L10.7 4.3 L12.4 5.1 L14.2 6.0 L15.9 6.9 L17.5 7.9 L19.3 9.0 L21.1 10.4 L22.8 11.8 L24.3 13.0 L25.4 13.8 L25.8 13.3 L24.8 12.4 L23.3 11.2 L21.6 9.7 L19.8 8.3 L18.1 7.0 L16.5 5.9 L14.8 4.9 L13.0 3.9 L11.3 3.0 L9.5 2.2 L7.5 1.4 L5.4 0.7 L3.3 -0.0 L1.5 -0.5 L0.3 -1.0Z M10.8 4.1 L11.3 4.7 L12.1 5.5 L12.9 6.5 L13.7 7.6 L14.4 8.6 L14.8 9.7 L15.2 11.1 L15.6 12.4 L15.8 13.6 L16.0 14.4 L16.4 14.3 L16.3 13.5 L16.1 12.3 L15.8 10.9 L15.5 9.5 L15.0 8.3 L14.4 7.1 L13.6 6.0 L12.7 4.9 L12.0 4.1 L11.5 3.4Z M14.7 8.7 L15.5 8.8 L16.6 8.9 L17.9 9.1 L19.1 9.2 L19.9 9.3 L20.0 8.9 L19.2 8.8 L18.0 8.6 L16.7 8.4 L15.5 8.3 L14.7 8.1Z M-0.7 0.7 L-0.0 1.4 L1.0 2.3 L2.1 3.4 L3.2 4.5 L4.3 5.6 L5.3 6.6 L6.2 7.6 L7.2 8.7 L8.1 9.7 L9.0 10.8 L10.0 11.9 L11.0 13.2 L12.0 14.4 L12.9 15.5 L13.5 16.2 L13.9 15.9 L13.4 15.1 L12.6 14.0 L11.7 12.7 L10.7 11.4 L9.8 10.1 L9.0 9.0 L8.1 7.9 L7.2 6.8 L6.3 5.7 L5.4 4.6 L4.4 3.4 L3.3 2.2 L2.3 1.0 L1.3 0.0 L0.7 -0.7Z M5.8 6.8 L5.9 7.4 L6.1 8.2 L6.2 9.1 L6.3 10.1 L6.3 10.9 L6.1 11.8 L5.9 12.8 L5.6 13.7 L5.3 14.5 L5.1 15.1 L5.5 15.3 L5.7 14.7 L6.1 13.9 L6.4 13.0 L6.8 12.0 L7.0 11.0 L7.1 10.1 L7.0 9.0 L6.9 8.1 L6.9 7.2 L6.8 6.7Z M-1.0 -0.2 L-1.1 0.8 L-1.4 2.1 L-1.6 3.7 L-2.0 5.3 L-2.3 6.8 L-2.7 8.1 L-3.1 9.5 L-3.5 10.9 L-4.0 12.2 L-4.5 13.5 L-5.1 14.9 L-5.9 16.4 L-6.6 17.9 L-7.2 19.1 L-7.7 20.0 L-7.2 20.3 L-6.6 19.5 L-5.9 18.3 L-5.1 16.8 L-4.3 15.4 L-3.6 14.0 L-2.9 12.6 L-2.4 11.3 L-1.8 9.9 L-1.3 8.6 L-0.8 7.2 L-0.4 5.7 L0.0 4.1 L0.4 2.5 L0.7 1.1 L1.0 0.2Z M-4.0 13.4 L-3.6 13.7 L-3.0 14.2 L-2.3 14.7 L-1.6 15.3 L-1.1 15.9 L-0.6 16.6 L-0.2 17.4 L0.2 18.3 L0.5 19.0 L0.8 19.6 L1.2 19.4 L1.0 18.9 L0.7 18.1 L0.4 17.2 L-0.0 16.3 L-0.5 15.5 L-1.1 14.8 L-1.7 14.1 L-2.4 13.5 L-3.0 13.0 L-3.4 12.6Z M-3.2 10.6 L-3.6 10.9 L-4.2 11.4 L-4.9 11.9 L-5.6 12.4 L-6.3 12.8 L-7.0 13.1 L-7.9 13.3 L-8.8 13.5 L-9.6 13.6 L-10.2 13.7 L-10.1 14.1 L-9.5 14.1 L-8.8 14.0 L-7.8 13.9 L-6.9 13.7 L-6.0 13.5 L-5.2 13.1 L-4.4 12.6 L-3.7 12.1 L-3.1 11.7 L-2.6 11.4Z M-6.1 12.8 L-6.6 12.8 L-7.4 12.6 L-8.2 12.4 L-9.0 12.3 L-9.5 12.2 L-9.6 12.6 L-9.1 12.7 L-8.3 12.9 L-7.5 13.1 L-6.7 13.3 L-6.2 13.5Z M-0.5 -0.8 L-1.5 -0.2 L-2.8 0.7 L-4.4 1.7 L-6.0 2.7 L-7.5 3.6 L-9.0 4.4 L-10.4 5.1 L-12.0 5.9 L-13.5 6.5 L-15.0 7.1 L-16.7 7.7 L-18.6 8.3 L-20.4 8.8 L-22.0 9.3 L-23.1 9.6 L-23.0 10.2 L-21.8 9.9 L-20.2 9.6 L-18.4 9.1 L-16.5 8.6 L-14.7 8.1 L-13.1 7.6 L-11.5 7.0 L-9.9 6.4 L-8.3 5.7 L-6.8 5.0 L-5.2 4.1 L-3.5 3.2 L-1.8 2.2 L-0.5 1.4 L0.5 0.8Z M-10.6 5.7 L-10.7 6.4 L-10.8 7.4 L-10.9 8.6 L-11.2 9.9 L-11.5 10.9 L-12.0 12.0 L-12.7 13.1 L-13.4 14.1 L-14.0 15.0 L-14.5 15.7 L-14.1 15.9 L-13.6 15.3 L-12.9 14.4 L-12.2 13.4 L-11.4 12.3 L-10.8 11.2 L-10.4 10.1 L-10.1 8.8 L-9.9 7.6 L-9.8 6.5 L-9.6 5.8Z M-11.4 11.2 L-11.0 11.8 L-10.3 12.7 L-9.6 13.7 L-9.0 14.6 L-8.5 15.2 L-8.2 15.0 L-8.6 14.4 L-9.2 13.4 L-9.9 12.4 L-10.5 11.5 L-10.9 10.9Z M0.2 -1.0 L-0.8 -1.2 L-2.4 -1.5 L-4.2 -2.0 L-6.0 -2.4 L-7.7 -2.8 L-9.3 -3.2 L-10.9 -3.6 L-12.5 -4.0 L-14.1 -4.5 L-15.6 -4.9 L-17.3 -5.4 L-19.1 -5.9 L-20.9 -6.5 L-22.4 -6.9 L-23.5 -7.2 L-23.7 -6.7 L-22.6 -6.3 L-21.1 -5.8 L-19.4 -5.1 L-17.6 -4.5 L-15.9 -3.9 L-14.4 -3.4 L-12.8 -2.8 L-11.3 -2.3 L-9.7 -1.8 L-8.1 -1.3 L-6.4 -0.8 L-4.6 -0.3 L-2.8 0.2 L-1.3 0.6 L-0.2 1.0Z M-15.9 -4.9 L-16.5 -5.4 L-17.4 -6.2 L-18.4 -7.1 L-19.3 -8.0 L-20.1 -9.0 L-20.7 -10.0 L-21.3 -11.3 L-21.8 -12.6 L-22.2 -13.7 L-22.5 -14.5 L-22.9 -14.4 L-22.6 -13.6 L-22.3 -12.4 L-21.8 -11.1 L-21.3 -9.7 L-20.7 -8.6 L-19.9 -7.5 L-19.0 -6.5 L-18.0 -5.5 L-17.2 -4.7 L-16.6 -4.2Z M-20.1 -8.8 L-20.1 -9.6 L-20.1 -10.7 L-20.1 -12.1 L-20.1 -13.3 L-20.1 -14.1 L-20.5 -14.1 L-20.5 -13.3 L-20.6 -12.1 L-20.6 -10.8 L-20.7 -9.6 L-20.7 -8.8Z M-13.7 -4.2 L-14.2 -4.7 L-15.0 -5.4 L-15.8 -6.1 L-16.6 -7.0 L-17.3 -7.8 L-17.8 -8.8 L-18.3 -9.9 L-18.7 -11.1 L-19.1 -12.1 L-19.3 -12.8 L-19.7 -12.6 L-19.5 -11.9 L-19.2 -10.9 L-18.9 -9.7 L-18.4 -8.5 L-17.9 -7.5 L-17.2 -6.5 L-16.4 -5.6 L-15.6 -4.7 L-14.9 -4.0 L-14.4 -3.5Z M-17.3 -7.6 L-17.3 -8.3 L-17.3 -9.4 L-17.2 -10.6 L-17.2 -11.6 L-17.2 -12.3 L-17.6 -12.3 L-17.6 -11.6 L-17.7 -10.6 L-17.8 -9.4 L-17.9 -8.4 L-17.9 -7.7Z M1.0 -0.3 L0.6 -1.4 L0.1 -2.9 L-0.5 -4.8 L-1.0 -6.6 L-1.4 -8.4 L-1.7 -10.0 L-1.9 -11.7 L-2.1 -13.4 L-2.2 -15.1 L-2.2 -16.8 L-2.1 -18.7 L-1.9 -20.7 L-1.7 -22.6 L-1.4 -24.3 L-1.3 -25.5 L-1.9 -25.6 L-2.1 -24.4 L-2.4 -22.7 L-2.8 -20.8 L-3.1 -18.8 L-3.2 -16.9 L-3.3 -15.1 L-3.3 -13.3 L-3.3 -11.6 L-3.1 -9.9 L-2.9 -8.1 L-2.6 -6.3 L-2.1 -4.3 L-1.7 -2.4 L-1.2 -0.8 L-1.0 0.3Z M-2.4 -19.0 L-2.9 -19.2 L-3.6 -19.5 L-4.4 -19.8 L-5.2 -20.2 L-5.9 -20.6 L-6.5 -21.2 L-7.1 -21.9 L-7.7 -22.6 L-8.1 -23.2 L-8.5 -23.6 L-8.9 -23.4 L-8.5 -22.9 L-8.1 -22.3 L-7.5 -21.5 L-6.9 -20.7 L-6.3 -20.1 L-5.6 -19.5 L-4.8 -19.1 L-4.0 -18.7 L-3.3 -18.3 L-2.8 -18.1Z M0.8 0.5 L1.3 -0.3 L2.1 -1.6 L3.0 -3.0 L3.8 -4.5 L4.6 -6.0 L5.3 -7.3 L5.9 -8.7 L6.5 -10.1 L7.0 -11.5 L7.5 -13.0 L8.0 -14.5 L8.5 -16.2 L8.9 -17.9 L9.3 -19.3 L9.5 -20.3 L9.0 -20.4 L8.7 -19.5 L8.2 -18.1 L7.7 -16.5 L7.1 -14.8 L6.6 -13.3 L6.0 -12.0 L5.3 -10.6 L4.7 -9.3 L4.0 -8.0 L3.3 -6.7 L2.4 -5.3 L1.5 -3.9 L0.6 -2.5 L-0.3 -1.4 L-0.8 -0.5Z M8.1 -14.8 L7.9 -15.6 L7.7 -16.6 L7.4 -17.8 L7.2 -19.1 L7.1 -20.2 L7.3 -21.4 L7.5 -22.6 L7.9 -23.9 L8.2 -25.0 L8.4 -25.8 L8.0 -25.9 L7.7 -25.1 L7.4 -24.1 L7.0 -22.8 L6.6 -21.5 L6.4 -20.2 L6.4 -19.0 L6.6 -17.7 L6.8 -16.4 L7.0 -15.4 L7.1 -14.6Z" fill="#b0e8b0" stroke="#b0e8b0" stroke-width="1.5" opacity="0.35" stroke-linejoin="round"/>
<path d="M-0.3 1.0 L1.0 1.3 L2.8 1.7 L4.9 2.3 L7.0 2.9 L8.9 3.6 L10.7 4.3 L12.4 5.1 L14.2 6.0 L15.9 6.9 L17.5 7.9 L19.3 9.0 L21.1 10.4 L22.8 11.8 L24.3 13.0 L25.4 13.8 L25.8 13.3 L24.8 12.4 L23.3 11.2 L21.6 9.7 L19.8 8.3 L18.1 7.0 L16.5 5.9 L14.8 4.9 L13.0 3.9 L11.3 3.0 L9.5 2.2 L7.5 1.4 L5.4 0.7 L3.3 -0.0 L1.5 -0.5 L0.3 -1.0Z M10.8 4.1 L11.3 4.7 L12.1 5.5 L12.9 6.5 L13.7 7.6 L14.4 8.6 L14.8 9.7 L15.2 11.1 L15.6 12.4 L15.8 13.6 L16.0 14.4 L16.4 14.3 L16.3 13.5 L16.1 12.3 L15.8 10.9 L15.5 9.5 L15.0 8.3 L14.4 7.1 L13.6 6.0 L12.7 4.9 L12.0 4.1 L11.5 3.4Z M14.7 8.7 L15.5 8.8 L16.6 8.9 L17.9 9.1 L19.1 9.2 L19.9 9.3 L20.0 8.9 L19.2 8.8 L18.0 8.6 L16.7 8.4 L15.5 8.3 L14.7 8.1Z M-0.7 0.7 L-0.0 1.4 L1.0 2.3 L2.1 3.4 L3.2 4.5 L4.3 5.6 L5.3 6.6 L6.2 7.6 L7.2 8.7 L8.1 9.7 L9.0 10.8 L10.0 11.9 L11.0 13.2 L12.0 14.4 L12.9 15.5 L13.5 16.2 L13.9 15.9 L13.4 15.1 L12.6 14.0 L11.7 12.7 L10.7 11.4 L9.8 10.1 L9.0 9.0 L8.1 7.9 L7.2 6.8 L6.3 5.7 L5.4 4.6 L4.4 3.4 L3.3 2.2 L2.3 1.0 L1.3 0.0 L0.7 -0.7Z M5.8 6.8 L5.9 7.4 L6.1 8.2 L6.2 9.1 L6.3 10.1 L6.3 10.9 L6.1 11.8 L5.9 12.8 L5.6 13.7 L5.3 14.5 L5.1 15.1 L5.5 15.3 L5.7 14.7 L6.1 13.9 L6.4 13.0 L6.8 12.0 L7.0 11.0 L7.1 10.1 L7.0 9.0 L6.9 8.1 L6.9 7.2 L6.8 6.7Z M-1.0 -0.2 L-1.1 0.8 L-1.4 2.1 L-1.6 3.7 L-2.0 5.3 L-2.3 6.8 L-2.7 8.1 L-3.1 9.5 L-3.5 10.9 L-4.0 12.2 L-4.5 13.5 L-5.1 14.9 L-5.9 16.4 L-6.6 17.9 L-7.2 19.1 L-7.7 20.0 L-7.2 20.3 L-6.6 19.5 L-5.9 18.3 L-5.1 16.8 L-4.3 15.4 L-3.6 14.0 L-2.9 12.6 L-2.4 11.3 L-1.8 9.9 L-1.3 8.6 L-0.8 7.2 L-0.4 5.7 L0.0 4.1 L0.4 2.5 L0.7 1.1 L1.0 0.2Z M-4.0 13.4 L-3.6 13.7 L-3.0 14.2 L-2.3 14.7 L-1.6 15.3 L-1.1 15.9 L-0.6 16.6 L-0.2 17.4 L0.2 18.3 L0.5 19.0 L0.8 19.6 L1.2 19.4 L1.0 18.9 L0.7 18.1 L0.4 17.2 L-0.0 16.3 L-0.5 15.5 L-1.1 14.8 L-1.7 14.1 L-2.4 13.5 L-3.0 13.0 L-3.4 12.6Z M-3.2 10.6 L-3.6 10.9 L-4.2 11.4 L-4.9 11.9 L-5.6 12.4 L-6.3 12.8 L-7.0 13.1 L-7.9 13.3 L-8.8 13.5 L-9.6 13.6 L-10.2 13.7 L-10.1 14.1 L-9.5 14.1 L-8.8 14.0 L-7.8 13.9 L-6.9 13.7 L-6.0 13.5 L-5.2 13.1 L-4.4 12.6 L-3.7 12.1 L-3.1 11.7 L-2.6 11.4Z M-6.1 12.8 L-6.6 12.8 L-7.4 12.6 L-8.2 12.4 L-9.0 12.3 L-9.5 12.2 L-9.6 12.6 L-9.1 12.7 L-8.3 12.9 L-7.5 13.1 L-6.7 13.3 L-6.2 13.5Z M-0.5 -0.8 L-1.5 -0.2 L-2.8 0.7 L-4.4 1.7 L-6.0 2.7 L-7.5 3.6 L-9.0 4.4 L-10.4 5.1 L-12.0 5.9 L-13.5 6.5 L-15.0 7.1 L-16.7 7.7 L-18.6 8.3 L-20.4 8.8 L-22.0 9.3 L-23.1 9.6 L-23.0 10.2 L-21.8 9.9 L-20.2 9.6 L-18.4 9.1 L-16.5 8.6 L-14.7 8.1 L-13.1 7.6 L-11.5 7.0 L-9.9 6.4 L-8.3 5.7 L-6.8 5.0 L-5.2 4.1 L-3.5 3.2 L-1.8 2.2 L-0.5 1.4 L0.5 0.8Z M-10.6 5.7 L-10.7 6.4 L-10.8 7.4 L-10.9 8.6 L-11.2 9.9 L-11.5 10.9 L-12.0 12.0 L-12.7 13.1 L-13.4 14.1 L-14.0 15.0 L-14.5 15.7 L-14.1 15.9 L-13.6 15.3 L-12.9 14.4 L-12.2 13.4 L-11.4 12.3 L-10.8 11.2 L-10.4 10.1 L-10.1 8.8 L-9.9 7.6 L-9.8 6.5 L-9.6 5.8Z M-11.4 11.2 L-11.0 11.8 L-10.3 12.7 L-9.6 13.7 L-9.0 14.6 L-8.5 15.2 L-8.2 15.0 L-8.6 14.4 L-9.2 13.4 L-9.9 12.4 L-10.5 11.5 L-10.9 10.9Z M0.2 -1.0 L-0.8 -1.2 L-2.4 -1.5 L-4.2 -2.0 L-6.0 -2.4 L-7.7 -2.8 L-9.3 -3.2 L-10.9 -3.6 L-12.5 -4.0 L-14.1 -4.5 L-15.6 -4.9 L-17.3 -5.4 L-19.1 -5.9 L-20.9 -6.5 L-22.4 -6.9 L-23.5 -7.2 L-23.7 -6.7 L-22.6 -6.3 L-21.1 -5.8 L-19.4 -5.1 L-17.6 -4.5 L-15.9 -3.9 L-14.4 -3.4 L-12.8 -2.8 L-11.3 -2.3 L-9.7 -1.8 L-8.1 -1.3 L-6.4 -0.8 L-4.6 -0.3 L-2.8 0.2 L-1.3 0.6 L-0.2 1.0Z M-15.9 -4.9 L-16.5 -5.4 L-17.4 -6.2 L-18.4 -7.1 L-19.3 -8.0 L-20.1 -9.0 L-20.7 -10.0 L-21.3 -11.3 L-21.8 -12.6 L-22.2 -13.7 L-22.5 -14.5 L-22.9 -14.4 L-22.6 -13.6 L-22.3 -12.4 L-21.8 -11.1 L-21.3 -9.7 L-20.7 -8.6 L-19.9 -7.5 L-19.0 -6.5 L-18.0 -5.5 L-17.2 -4.7 L-16.6 -4.2Z M-20.1 -8.8 L-20.1 -9.6 L-20.1 -10.7 L-20.1 -12.1 L-20.1 -13.3 L-20.1 -14.1 L-20.5 -14.1 L-20.5 -13.3 L-20.6 -12.1 L-20.6 -10.8 L-20.7 -9.6 L-20.7 -8.8Z M-13.7 -4.2 L-14.2 -4.7 L-15.0 -5.4 L-15.8 -6.1 L-16.6 -7.0 L-17.3 -7.8 L-17.8 -8.8 L-18.3 -9.9 L-18.7 -11.1 L-19.1 -12.1 L-19.3 -12.8 L-19.7 -12.6 L-19.5 -11.9 L-19.2 -10.9 L-18.9 -9.7 L-18.4 -8.5 L-17.9 -7.5 L-17.2 -6.5 L-16.4 -5.6 L-15.6 -4.7 L-14.9 -4.0 L-14.4 -3.5Z M-17.3 -7.6 L-17.3 -8.3 L-17.3 -9.4 L-17.2 -10.6 L-17.2 -11.6 L-17.2 -12.3 L-17.6 -12.3 L-17.6 -11.6 L-17.7 -10.6 L-17.8 -9.4 L-17.9 -8.4 L-17.9 -7.7Z M1.0 -0.3 L0.6 -1.4 L0.1 -2.9 L-0.5 -4.8 L-1.0 -6.6 L-1.4 -8.4 L-1.7 -10.0 L-1.9 -11.7 L-2.1 -13.4 L-2.2 -15.1 L-2.2 -16.8 L-2.1 -18.7 L-1.9 -20.7 L-1.7 -22.6 L-1.4 -24.3 L-1.3 -25.5 L-1.9 -25.6 L-2.1 -24.4 L-2.4 -22.7 L-2.8 -20.8 L-3.1 -18.8 L-3.2 -16.9 L-3.3 -15.1 L-3.3 -13.3 L-3.3 -11.6 L-3.1 -9.9 L-2.9 -8.1 L-2.6 -6.3 L-2.1 -4.3 L-1.7 -2.4 L-1.2 -0.8 L-1.0 0.3Z M-2.4 -19.0 L-2.9 -19.2 L-3.6 -19.5 L-4.4 -19.8 L-5.2 -20.2 L-5.9 -20.6 L-6.5 -21.2 L-7.1 -21.9 L-7.7 -22.6 L-8.1 -23.2 L-8.5 -23.6 L-8.9 -23.4 L-8.5 -22.9 L-8.1 -22.3 L-7.5 -21.5 L-6.9 -20.7 L-6.3 -20.1 L-5.6 -19.5 L-4.8 -19.1 L-4.0 -18.7 L-3.3 -18.3 L-2.8 -18.1Z M0.8 0.5 L1.3 -0.3 L2.1 -1.6 L3.0 -3.0 L3.8 -4.5 L4.6 -6.0 L5.3 -7.3 L5.9 -8.7 L6.5 -10.1 L7.0 -11.5 L7.5 -13.0 L8.0 -14.5 L8.5 -16.2 L8.9 -17.9 L9.3 -19.3 L9.5 -20.3 L9.0 -20.4 L8.7 -19.5 L8.2 -18.1 L7.7 -16.5 L7.1 -14.8 L6.6 -13.3 L6.0 -12.0 L5.3 -10.6 L4.7 -9.3 L4.0 -8.0 L3.3 -6.7 L2.4 -5.3 L1.5 -3.9 L0.6 -2.5 L-0.3 -1.4 L-0.8 -0.5Z M8.1 -14.8 L7.9 -15.6 L7.7 -16.6 L7.4 -17.8 L7.2 -19.1 L7.1 -20.2 L7.3 -21.4 L7.5 -22.6 L7.9 -23.9 L8.2 -25.0 L8.4 -25.8 L8.0 -25.9 L7.7 -25.1 L7.4 -24.1 L7.0 -22.8 L6.6 -21.5 L6.4 -20.2 L6.4 -19.0 L6.6 -17.7 L6.8 -16.4 L7.0 -15.4 L7.1 -14.6Z" fill="#6cbd6c" stroke="#6cbd6c" stroke-width="0.4"/>
<circle cx="0" cy="0" r="4.9" fill="#4fc24f"/>
<circle cx="0" cy="0" r="2.6" fill="#2fae2f"/>
</g>
<g id="astB1">
<path d="M-0.4 3.3 L1.9 3.4 L5.2 3.6 L8.9 3.9 L12.7 4.3 L16.2 4.7 L19.5 5.2 L22.7 5.9 L26.0 6.6 L29.2 7.4 L32.5 8.3 L35.9 9.5 L39.6 10.8 L43.1 12.2 L46.2 13.5 L48.4 14.3 L49.2 12.5 L47.1 11.4 L44.2 9.9 L40.7 8.2 L37.1 6.5 L33.6 5.0 L30.4 3.8 L27.2 2.6 L23.9 1.5 L20.6 0.6 L17.2 -0.3 L13.5 -1.1 L9.6 -1.8 L5.8 -2.4 L2.6 -2.9 L0.4 -3.3Z M35.6 8.3 L36.7 7.0 L38.2 5.2 L40.0 3.2 L41.9 1.3 L43.8 -0.2 L46.0 -1.5 L48.6 -2.6 L51.2 -3.6 L53.5 -4.5 L55.1 -5.1 L54.7 -6.5 L53.0 -6.0 L50.6 -5.4 L47.8 -4.5 L45.0 -3.5 L42.5 -2.3 L40.2 -0.7 L38.0 1.2 L36.0 3.2 L34.4 4.9 L33.2 6.0Z M43.1 -0.2 L44.8 -0.2 L47.2 -0.2 L49.9 -0.2 L52.4 -0.2 L54.0 -0.2 L54.1 -1.5 L52.4 -1.6 L50.0 -1.8 L47.3 -2.0 L44.8 -2.2 L43.2 -2.3Z M-2.8 1.8 L-1.6 3.4 L0.0 5.8 L2.0 8.6 L4.1 11.5 L6.2 14.1 L8.3 16.4 L10.5 18.6 L12.8 20.7 L15.2 22.8 L17.6 24.7 L20.3 26.7 L23.3 28.7 L26.3 30.5 L28.9 32.1 L30.7 33.1 L31.7 31.6 L30.1 30.2 L27.7 28.5 L25.0 26.4 L22.2 24.2 L19.8 22.1 L17.8 20.0 L15.7 17.8 L13.8 15.6 L12.0 13.3 L10.2 10.9 L8.5 8.4 L6.8 5.5 L5.2 2.6 L3.8 0.0 L2.8 -1.8Z M9.7 16.6 L10.8 16.8 L12.2 17.2 L13.8 17.6 L15.3 18.2 L16.7 18.8 L17.9 19.6 L19.2 20.8 L20.5 22.0 L21.6 23.0 L22.4 23.8 L23.5 22.7 L22.8 21.9 L21.8 20.7 L20.7 19.3 L19.4 17.9 L18.0 16.8 L16.4 15.8 L14.8 15.0 L13.1 14.4 L11.8 13.8 L10.8 13.4Z M-3.3 -0.3 L-3.4 2.0 L-3.6 5.3 L-3.8 9.1 L-3.9 13.2 L-3.7 17.0 L-3.4 20.5 L-2.9 24.0 L-2.3 27.4 L-1.6 30.9 L-0.7 34.3 L0.5 38.0 L1.9 41.8 L3.4 45.5 L4.8 48.6 L5.7 50.8 L7.5 50.1 L6.8 47.8 L5.8 44.6 L4.6 40.9 L3.6 37.0 L2.7 33.5 L2.2 30.2 L1.8 26.8 L1.5 23.5 L1.4 20.2 L1.4 16.9 L1.6 13.4 L2.0 9.6 L2.5 5.8 L3.0 2.6 L3.3 0.3Z M-1.9 23.9 L-1.0 24.5 L0.2 25.4 L1.5 26.4 L2.8 27.5 L3.8 28.5 L4.6 29.8 L5.5 31.4 L6.2 33.0 L6.9 34.4 L7.4 35.4 L8.7 34.8 L8.4 33.8 L7.9 32.3 L7.3 30.5 L6.6 28.8 L5.8 27.1 L4.7 25.7 L3.4 24.3 L2.1 23.1 L1.0 22.1 L0.3 21.3Z M0.8 38.6 L1.8 39.4 L3.1 40.5 L4.6 41.8 L6.1 43.2 L7.2 44.6 L8.2 46.2 L9.0 48.1 L9.8 50.1 L10.5 51.8 L11.0 53.0 L12.4 52.5 L12.1 51.3 L11.6 49.5 L11.0 47.4 L10.2 45.2 L9.3 43.3 L8.1 41.6 L6.6 39.9 L5.2 38.4 L3.9 37.1 L3.1 36.2Z M-1.6 -3.0 L-3.5 -1.8 L-6.2 -0.2 L-9.5 1.7 L-12.8 3.7 L-15.9 5.7 L-18.6 7.7 L-21.3 9.8 L-23.9 11.9 L-26.5 14.1 L-29.0 16.4 L-31.6 19.0 L-34.4 21.8 L-36.9 24.6 L-39.1 27.0 L-40.6 28.8 L-39.2 30.1 L-37.5 28.6 L-35.1 26.4 L-32.4 23.9 L-29.5 21.3 L-26.7 19.1 L-24.1 17.1 L-21.4 15.2 L-18.7 13.4 L-15.9 11.7 L-13.2 10.1 L-10.1 8.4 L-6.7 6.8 L-3.4 5.2 L-0.5 3.9 L1.6 3.0Z M-30.3 18.5 L-31.6 18.3 L-33.3 18.1 L-35.3 17.9 L-37.3 17.5 L-39.1 17.0 L-40.8 16.2 L-42.6 15.1 L-44.3 13.8 L-45.9 12.7 L-47.0 12.0 L-47.9 13.2 L-46.9 14.0 L-45.5 15.3 L-43.8 16.7 L-41.9 18.1 L-40.1 19.2 L-38.1 20.0 L-35.9 20.6 L-33.8 21.1 L-32.1 21.5 L-30.9 21.8Z M-40.2 17.2 L-41.2 18.0 L-42.7 19.1 L-44.4 20.3 L-45.9 21.4 L-46.9 22.1 L-46.2 23.2 L-45.1 22.6 L-43.5 21.6 L-41.7 20.5 L-40.1 19.6 L-39.0 19.0Z M1.3 -3.1 L-0.7 -3.7 L-3.3 -4.6 L-6.4 -5.7 L-9.5 -6.9 L-12.4 -8.1 L-15.0 -9.3 L-17.6 -10.6 L-20.1 -12.0 L-22.6 -13.4 L-25.1 -15.0 L-27.7 -16.8 L-30.4 -18.8 L-33.1 -20.9 L-35.3 -22.7 L-37.0 -23.9 L-38.2 -22.5 L-36.8 -21.0 L-34.7 -19.0 L-32.3 -16.7 L-29.7 -14.3 L-27.2 -12.2 L-24.8 -10.3 L-22.3 -8.5 L-19.8 -6.8 L-17.3 -5.1 L-14.7 -3.5 L-11.8 -1.9 L-8.7 -0.4 L-5.6 1.0 L-3.1 2.2 L-1.3 3.1Z M-22.8 -13.2 L-23.6 -14.0 L-24.8 -15.1 L-26.1 -16.3 L-27.3 -17.6 L-28.3 -18.9 L-29.1 -20.3 L-29.7 -22.1 L-30.4 -23.9 L-30.9 -25.5 L-31.3 -26.6 L-32.7 -26.2 L-32.5 -25.1 L-32.1 -23.4 L-31.7 -21.5 L-31.1 -19.5 L-30.4 -17.7 L-29.4 -16.1 L-28.2 -14.5 L-27.0 -13.0 L-25.9 -11.8 L-25.2 -10.9Z M-28.3 -18.2 L-28.3 -19.3 L-28.2 -21.0 L-28.1 -22.8 L-28.1 -24.5 L-28.0 -25.6 L-29.3 -25.7 L-29.5 -24.6 L-29.7 -23.0 L-30.0 -21.2 L-30.2 -19.5 L-30.4 -18.4Z M3.0 -1.4 L2.0 -3.3 L0.6 -5.9 L-1.0 -9.0 L-2.8 -12.2 L-4.6 -15.1 L-6.4 -17.8 L-8.3 -20.4 L-10.2 -22.9 L-12.3 -25.3 L-14.4 -27.7 L-16.7 -30.2 L-19.4 -32.8 L-22.0 -35.2 L-24.2 -37.3 L-25.8 -38.7 L-27.2 -37.4 L-25.8 -35.7 L-23.8 -33.5 L-21.4 -30.8 L-19.1 -28.1 L-17.1 -25.5 L-15.3 -23.0 L-13.6 -20.5 L-12.0 -17.9 L-10.5 -15.2 L-9.0 -12.6 L-7.6 -9.7 L-6.2 -6.5 L-4.9 -3.3 L-3.8 -0.6 L-3.0 1.4Z M-17.7 -31.0 L-18.9 -31.1 L-20.5 -31.2 L-22.4 -31.4 L-24.3 -31.8 L-25.9 -32.2 L-27.5 -33.0 L-29.2 -34.0 L-30.8 -35.1 L-32.2 -36.1 L-33.3 -36.8 L-34.2 -35.7 L-33.3 -34.8 L-31.9 -33.7 L-30.3 -32.4 L-28.6 -31.1 L-26.9 -30.0 L-25.0 -29.3 L-23.0 -28.7 L-21.0 -28.3 L-19.4 -27.9 L-18.2 -27.6Z M-25.5 -31.7 L-26.2 -32.6 L-27.2 -34.1 L-28.3 -35.7 L-29.3 -37.1 L-29.9 -38.0 L-31.0 -37.4 L-30.5 -36.3 L-29.6 -34.8 L-28.7 -33.1 L-27.8 -31.6 L-27.3 -30.6Z M-11.1 -23.0 L-12.4 -23.5 L-14.3 -24.2 L-16.4 -25.0 L-18.4 -26.0 L-20.2 -27.0 L-21.8 -28.3 L-23.5 -30.0 L-25.0 -31.8 L-26.4 -33.4 L-27.4 -34.5 L-28.5 -33.6 L-27.7 -32.4 L-26.5 -30.7 L-25.0 -28.7 L-23.4 -26.8 L-21.7 -25.1 L-19.8 -23.7 L-17.6 -22.5 L-15.5 -21.4 L-13.7 -20.6 L-12.5 -19.9Z M2.2 2.5 L3.5 1.2 L5.4 -0.6 L7.6 -2.8 L9.9 -5.1 L12.0 -7.3 L13.8 -9.4 L15.6 -11.5 L17.3 -13.7 L19.0 -16.0 L20.6 -18.3 L22.3 -20.8 L24.0 -23.5 L25.6 -26.2 L26.9 -28.5 L27.8 -30.1 L26.2 -31.2 L25.1 -29.7 L23.5 -27.6 L21.6 -25.1 L19.7 -22.6 L17.8 -20.4 L16.0 -18.4 L14.1 -16.4 L12.2 -14.5 L10.3 -12.7 L8.4 -10.9 L6.2 -9.0 L3.8 -7.1 L1.4 -5.2 L-0.7 -3.6 L-2.2 -2.5Z M15.0 -13.1 L16.0 -12.9 L17.4 -12.7 L18.9 -12.5 L20.4 -12.1 L21.7 -11.7 L22.9 -11.0 L24.3 -10.1 L25.6 -9.1 L26.8 -8.2 L27.6 -7.6 L28.6 -8.7 L27.9 -9.4 L26.8 -10.5 L25.6 -11.7 L24.2 -12.8 L22.8 -13.8 L21.3 -14.6 L19.6 -15.2 L18.0 -15.6 L16.7 -16.0 L15.8 -16.3Z M21.3 -12.2 L21.9 -11.4 L22.6 -10.2 L23.5 -8.8 L24.2 -7.6 L24.8 -6.8 L25.9 -7.4 L25.5 -8.3 L24.9 -9.6 L24.2 -11.0 L23.6 -12.3 L23.2 -13.2Z M21.7 -20.2 L21.8 -21.6 L22.0 -23.6 L22.2 -25.8 L22.5 -28.0 L23.0 -29.9 L23.9 -31.8 L25.0 -33.9 L26.3 -35.8 L27.5 -37.5 L28.2 -38.8 L27.0 -39.6 L26.1 -38.5 L24.8 -36.9 L23.3 -35.0 L21.9 -32.9 L20.8 -30.8 L20.0 -28.6 L19.4 -26.3 L19.0 -24.0 L18.7 -22.0 L18.4 -20.7Z M22.5 -29.5 L23.6 -30.4 L25.2 -31.6 L27.1 -32.9 L28.7 -34.1 L29.8 -34.9 L29.1 -36.0 L27.9 -35.3 L26.2 -34.2 L24.3 -33.0 L22.5 -32.0 L21.3 -31.3Z" fill="#58c552" stroke="#58c552" stroke-width="0.4"/>
<circle cx="0" cy="0" r="12.3" fill="#4fc24f"/>
<circle cx="0" cy="0" r="6.5" fill="#2f9e30"/>
</g>
<g id="astB2">
<path d="M0.7 3.3 L3.0 2.6 L6.4 1.8 L10.4 0.8 L14.5 -0.3 L18.3 -1.6 L21.8 -2.9 L25.2 -4.4 L28.6 -6.0 L31.9 -7.7 L35.1 -9.5 L38.5 -11.6 L42.1 -14.1 L45.5 -16.5 L48.3 -18.6 L50.3 -20.2 L49.3 -21.7 L47.1 -20.5 L44.1 -18.6 L40.5 -16.5 L36.9 -14.3 L33.5 -12.6 L30.2 -11.1 L26.9 -9.8 L23.5 -8.5 L20.2 -7.4 L16.8 -6.4 L13.1 -5.6 L9.1 -4.8 L5.2 -4.1 L1.8 -3.6 L-0.7 -3.3Z M24.0 -4.9 L24.6 -6.3 L25.4 -8.2 L26.5 -10.4 L27.6 -12.5 L28.9 -14.3 L30.4 -15.9 L32.3 -17.5 L34.3 -19.0 L36.1 -20.3 L37.3 -21.3 L36.5 -22.5 L35.2 -21.7 L33.3 -20.5 L31.1 -19.1 L29.0 -17.6 L27.1 -15.9 L25.5 -13.9 L24.0 -11.8 L22.8 -9.6 L21.8 -7.8 L21.0 -6.5Z M29.0 -15.4 L28.5 -16.8 L27.8 -18.9 L27.1 -21.2 L26.4 -23.2 L26.0 -24.6 L24.7 -24.3 L25.1 -22.9 L25.6 -20.7 L26.1 -18.4 L26.6 -16.2 L27.0 -14.8Z M-2.6 2.2 L-1.1 3.7 L0.9 5.8 L3.2 8.4 L5.6 11.0 L7.9 13.4 L10.0 15.7 L12.1 17.9 L14.2 20.2 L16.3 22.4 L18.4 24.7 L20.6 27.1 L23.0 29.8 L25.4 32.3 L27.4 34.4 L28.9 35.9 L30.3 34.7 L29.1 33.0 L27.3 30.7 L25.2 27.9 L23.0 25.1 L21.0 22.4 L19.2 20.0 L17.3 17.5 L15.5 15.1 L13.6 12.6 L11.8 10.2 L9.8 7.5 L7.6 4.7 L5.6 1.9 L3.8 -0.4 L2.6 -2.2Z M19.4 25.6 L19.8 26.6 L20.2 28.1 L20.6 29.8 L20.9 31.5 L21.1 33.1 L21.0 34.7 L20.6 36.5 L20.2 38.3 L19.8 39.9 L19.6 41.0 L21.0 41.4 L21.4 40.3 L22.0 38.8 L22.6 37.0 L23.1 35.1 L23.5 33.2 L23.5 31.3 L23.4 29.4 L23.1 27.5 L22.9 26.0 L22.7 24.9Z M21.4 32.5 L20.8 33.4 L19.9 34.8 L18.9 36.2 L18.0 37.6 L17.4 38.5 L18.4 39.2 L19.2 38.4 L20.2 37.2 L21.3 35.8 L22.4 34.6 L23.1 33.8Z M-3.2 -1.0 L-3.7 1.1 L-4.4 3.9 L-5.3 7.2 L-6.3 10.6 L-7.4 13.6 L-8.5 16.4 L-9.8 19.1 L-11.1 21.8 L-12.6 24.5 L-14.2 27.1 L-16.1 29.9 L-18.3 32.7 L-20.6 35.5 L-22.5 37.9 L-23.9 39.6 L-22.4 40.8 L-20.9 39.3 L-18.7 37.2 L-16.2 34.6 L-13.6 31.9 L-11.4 29.2 L-9.4 26.6 L-7.6 24.0 L-5.8 21.3 L-4.2 18.5 L-2.7 15.7 L-1.2 12.5 L0.2 9.1 L1.4 5.8 L2.4 3.0 L3.2 1.0Z M-13.0 28.0 L-12.2 28.7 L-11.1 29.5 L-9.9 30.6 L-8.8 31.7 L-7.9 32.7 L-7.1 33.9 L-6.4 35.4 L-5.8 37.0 L-5.3 38.4 L-4.8 39.3 L-3.4 38.9 L-3.7 37.9 L-4.0 36.4 L-4.5 34.7 L-5.1 33.0 L-5.8 31.4 L-6.8 30.0 L-7.9 28.6 L-9.1 27.4 L-10.1 26.3 L-10.7 25.6Z M-1.7 -2.9 L-3.6 -1.6 L-6.2 0.1 L-9.3 2.2 L-12.5 4.3 L-15.4 6.4 L-18.1 8.4 L-20.7 10.5 L-23.4 12.5 L-25.9 14.6 L-28.5 16.8 L-31.2 19.2 L-34.0 21.8 L-36.7 24.3 L-39.0 26.5 L-40.7 28.1 L-39.4 29.5 L-37.6 28.2 L-35.1 26.2 L-32.2 23.9 L-29.2 21.6 L-26.3 19.5 L-23.6 17.7 L-20.9 15.9 L-18.2 14.1 L-15.4 12.4 L-12.6 10.7 L-9.6 8.9 L-6.3 7.1 L-3.1 5.4 L-0.3 3.9 L1.7 2.9Z M-25.4 15.0 L-25.6 16.1 L-25.8 17.7 L-26.1 19.4 L-26.5 21.2 L-27.0 22.7 L-27.8 24.1 L-28.8 25.6 L-29.9 27.1 L-31.0 28.4 L-31.6 29.4 L-30.5 30.3 L-29.7 29.5 L-28.5 28.3 L-27.2 26.9 L-25.9 25.3 L-24.8 23.8 L-24.0 22.0 L-23.4 20.1 L-22.9 18.3 L-22.5 16.8 L-22.1 15.8Z M-26.8 23.7 L-26.2 24.6 L-25.3 26.0 L-24.3 27.5 L-23.4 28.9 L-22.8 29.8 L-21.7 29.2 L-22.2 28.2 L-22.9 26.7 L-23.8 25.1 L-24.5 23.7 L-25.0 22.7Z M1.7 -2.9 L-0.1 -3.7 L-2.5 -4.9 L-5.2 -6.3 L-8.0 -7.8 L-10.4 -9.3 L-12.6 -10.9 L-14.8 -12.5 L-16.9 -14.3 L-19.0 -16.2 L-20.9 -18.1 L-22.9 -20.4 L-25.0 -22.9 L-26.9 -25.5 L-28.6 -27.8 L-29.8 -29.3 L-31.4 -28.3 L-30.4 -26.6 L-29.0 -24.1 L-27.3 -21.3 L-25.5 -18.4 L-23.6 -15.9 L-21.8 -13.6 L-19.8 -11.4 L-17.8 -9.2 L-15.7 -7.2 L-13.5 -5.2 L-11.0 -3.3 L-8.2 -1.4 L-5.5 0.4 L-3.2 1.8 L-1.7 2.9Z M-20.5 -17.5 L-21.1 -18.3 L-22.0 -19.6 L-22.9 -21.0 L-23.8 -22.5 L-24.4 -23.9 L-24.8 -25.4 L-25.1 -27.1 L-25.3 -28.9 L-25.5 -30.5 L-25.6 -31.6 L-27.1 -31.6 L-27.1 -30.4 L-27.2 -28.8 L-27.2 -27.0 L-27.0 -25.0 L-26.8 -23.2 L-26.2 -21.4 L-25.4 -19.7 L-24.6 -18.1 L-23.9 -16.7 L-23.4 -15.8Z M-16.3 -11.9 L-17.3 -11.4 L-18.6 -10.8 L-20.1 -10.1 L-21.6 -9.5 L-23.1 -9.1 L-24.6 -9.0 L-26.3 -9.0 L-28.1 -9.1 L-29.6 -9.2 L-30.7 -9.2 L-30.9 -7.7 L-29.8 -7.5 L-28.3 -7.2 L-26.5 -6.9 L-24.6 -6.7 L-22.8 -6.7 L-21.0 -7.0 L-19.2 -7.5 L-17.5 -8.0 L-16.1 -8.5 L-15.1 -8.8Z M-22.4 -8.9 L-23.4 -9.3 L-24.8 -9.9 L-26.4 -10.6 L-27.8 -11.2 L-28.7 -11.6 L-29.3 -10.5 L-28.4 -10.0 L-27.1 -9.2 L-25.6 -8.3 L-24.3 -7.5 L-23.4 -7.0Z M3.2 -0.9 L2.5 -2.7 L1.6 -5.3 L0.6 -8.3 L-0.6 -11.4 L-1.8 -14.3 L-3.1 -16.9 L-4.5 -19.5 L-5.9 -22.0 L-7.5 -24.5 L-9.1 -26.9 L-10.9 -29.5 L-13.0 -32.1 L-15.1 -34.6 L-16.9 -36.7 L-18.2 -38.1 L-19.7 -37.0 L-18.7 -35.3 L-17.1 -33.1 L-15.3 -30.4 L-13.6 -27.7 L-12.0 -25.1 L-10.8 -22.6 L-9.6 -20.1 L-8.5 -17.6 L-7.5 -15.0 L-6.6 -12.4 L-5.7 -9.7 L-4.9 -6.6 L-4.2 -3.6 L-3.6 -0.9 L-3.2 0.9Z M-8.0 -24.3 L-9.3 -24.7 L-11.1 -25.4 L-13.2 -26.1 L-15.2 -27.0 L-16.9 -28.0 L-18.5 -29.2 L-20.1 -30.9 L-21.7 -32.6 L-23.0 -34.1 L-24.0 -35.1 L-25.1 -34.2 L-24.3 -33.0 L-23.1 -31.4 L-21.6 -29.5 L-20.0 -27.6 L-18.4 -26.0 L-16.5 -24.7 L-14.3 -23.6 L-12.3 -22.6 L-10.5 -21.8 L-9.3 -21.2Z M-7.3 -22.6 L-7.1 -23.5 L-6.8 -24.7 L-6.4 -26.0 L-6.0 -27.3 L-5.5 -28.4 L-4.8 -29.4 L-3.8 -30.5 L-2.8 -31.6 L-1.9 -32.5 L-1.3 -33.2 L-2.2 -34.3 L-3.0 -33.7 L-4.0 -32.9 L-5.2 -32.0 L-6.4 -30.9 L-7.4 -29.7 L-8.3 -28.5 L-9.0 -27.1 L-9.6 -25.7 L-10.1 -24.5 L-10.5 -23.8Z M-6.1 -28.1 L-5.3 -28.5 L-4.1 -29.0 L-2.8 -29.6 L-1.7 -30.2 L-0.9 -30.6 L-1.3 -31.7 L-2.2 -31.5 L-3.4 -31.1 L-4.8 -30.7 L-6.0 -30.3 L-6.8 -30.0Z M3.1 1.3 L3.7 -0.5 L4.7 -3.1 L5.8 -6.2 L6.9 -9.3 L7.9 -12.4 L8.7 -15.2 L9.5 -18.0 L10.2 -20.8 L10.8 -23.7 L11.4 -26.5 L12.0 -29.6 L12.5 -33.0 L13.0 -36.2 L13.4 -38.9 L13.6 -40.9 L11.7 -41.3 L11.2 -39.4 L10.5 -36.7 L9.7 -33.5 L8.9 -30.3 L8.0 -27.4 L7.1 -24.7 L6.2 -22.0 L5.2 -19.3 L4.2 -16.7 L3.1 -14.1 L1.9 -11.3 L0.5 -8.4 L-0.9 -5.5 L-2.2 -3.1 L-3.1 -1.3Z M8.2 -17.1 L9.4 -18.0 L10.9 -19.3 L12.7 -20.7 L14.7 -22.0 L16.5 -23.0 L18.5 -23.7 L20.9 -24.2 L23.3 -24.7 L25.4 -25.0 L26.8 -25.3 L26.6 -26.8 L25.1 -26.7 L23.0 -26.5 L20.5 -26.3 L18.0 -25.9 L15.6 -25.2 L13.4 -24.3 L11.2 -23.0 L9.2 -21.7 L7.5 -20.6 L6.3 -19.8Z M8.2 -16.7 L7.9 -17.6 L7.4 -18.8 L7.0 -20.1 L6.6 -21.5 L6.4 -22.7 L6.4 -23.9 L6.6 -25.4 L6.8 -26.9 L7.0 -28.2 L7.1 -29.1 L5.7 -29.5 L5.4 -28.6 L5.0 -27.3 L4.6 -25.8 L4.2 -24.2 L4.0 -22.7 L4.0 -21.1 L4.3 -19.5 L4.5 -18.0 L4.8 -16.7 L4.9 -15.9Z" fill="#58c552" stroke="#58c552" stroke-width="0.4"/>
<circle cx="0" cy="0" r="12.3" fill="#4fc24f"/>
<circle cx="0" cy="0" r="6.5" fill="#2f9e30"/>
</g>
<linearGradient id="fadeL" x1="0" x2="1" y1="0" y2="0"><stop offset="0" stop-color="#fff" stop-opacity="1"/><stop offset="1" stop-color="#fff" stop-opacity="0"/></linearGradient>
<linearGradient id="fadeT" x1="0" x2="0" y1="0" y2="1"><stop offset="0" stop-color="#fff" stop-opacity="1"/><stop offset="1" stop-color="#fff" stop-opacity="0"/></linearGradient>
<filter id="blur1" x="-20%" y="-20%" width="140%" height="140%"><feGaussianBlur stdDeviation="0.7"/></filter>
<filter id="blur2" x="-20%" y="-20%" width="140%" height="140%"><feGaussianBlur stdDeviation="1.2"/></filter>
<g id="brain">
<path d="M40 575 C90 540 130 510 170 495 C220 480 270 490 300 488 L500 300 L545 140 C555 120 565 105 575 95 C595 60 620 40 650 38 C700 30 780 55 850 80 C920 105 960 125 1000 130 C1060 135 1110 140 1150 150 C1200 160 1240 185 1265 225 C1272 238 1275 248 1278 258 C1310 235 1350 218 1390 214 C1450 210 1510 235 1545 290 C1575 340 1560 400 1530 430 C1490 480 1430 515 1380 530 C1330 545 1290 550 1250 552 C1210 570 1170 595 1130 600 C1080 605 1040 585 1000 585 C960 590 940 610 900 612 C860 615 820 610 790 600 C750 585 720 555 700 515 C690 540 680 560 660 575 C630 605 600 625 560 632 C500 645 440 650 380 645 C330 640 290 615 250 610 C210 612 180 630 150 642 C130 650 115 655 100 657 Z" fill="#e1bcb5" stroke="#d39a97" stroke-width="5" stroke-linejoin="round"/>
<path d="M583 100 C598 160 650 222 707 258" fill="none" stroke="#d39a97" stroke-width="4.5" stroke-linecap="round"/>
<path d="M1278 258 C1260 300 1240 320 1225 330" fill="none" stroke="#dba39e" stroke-width="2.5" opacity="0.7"/>
<path d="M648 124 C700 156 760 206 800 234 C880 268 980 286 1042 322 L1052 288 C985 258 905 232 835 196 C775 160 705 124 662 112 Z" fill="#f6eaea" opacity="0.92"/>
<path d="M800 228 C850 250 900 262 925 275 C895 285 880 300 876 325 C872 350 850 368 825 355 C845 345 852 320 850 295 C846 268 820 248 800 228Z" fill="#fbf3f3" stroke="#e6b3ae" stroke-width="2"/>
<path d="M528 282 L529 288 L529 294 L529 300 L529 306 L528 312 L527 317 L525 323 L523 329 L521 334 L519 340 L515 345 L511 350 L511 356 L511 362 L510 368 L508 374 L506 379 L504 385 L502 390 L499 396 L496 401 L492 406 L488 410 L484 415 L480 419 L475 422 L470 426 L464 428 L461 434 L458 439 L455 444 L451 449 L447 454 L442 458 L437 462 L432 465 L427 468 L422 471 L416 473 L410 476 L404 477 L398 478 L392 479 L386 477 L381 483 L376 486 L370 489 L364 492 L359 494 L353 495 L347 496 L340 497 L334 497 L328 497 L322 497 L316 496 L310 495 L304 493 L298 490 L293 487 L286 489 L280 489 L274 489 L268 489 L262 488 L256 486 L250 484 L244 482 L238 480 L233 477 L228 473 L223 470 L218 466 L214 461 L210 456 L206 451 L200 450 L194 448 L189 445 L184 441 L179 438 L174 434 L170 430 L166 425 L162 420 L159 415 L156 410 L153 405 L151 399 L149 393 L148 387 L146 381 L141 377 L137 373 L134 368 L131 363 L128 358 L126 352 L124 346 L122 341 L121 335 L120 329 L119 323 L119 317 L119 311 L120 305 L122 299 L121 293 L119 288 L117 282 L116 276 L116 270 L115 264 L116 258 L116 252 L117 246 L118 241 L120 235 L122 229 L124 224 L127 219 L130 213 L134 209 L136 203 L136 197 L137 191 L138 185 L140 179 L143 174 L145 168 L148 163 L152 158 L155 153 L159 149 L163 145 L168 141 L173 137 L178 134 L184 131 L187 127 L190 121 L194 116 L198 111 L202 107 L207 103 L212 99 L217 96 L222 93 L227 90 L233 87 L238 84 L244 82 L252 87 L257 83 L262 79 L268 76 L274 74 L279 71 L285 70 L291 68 L297 68 L304 67 L310 67 L316 67 L322 68 L328 69 L334 71 L340 74 L346 75 L352 74 L358 73 L364 73 L370 73 L377 74 L383 76 L388 77 L394 79 L400 82 L405 85 L411 88 L416 92 L420 96 L425 100 L429 105 L433 109 L440 110 L445 112 L451 115 L456 118 L461 122 L465 126 L470 130 L474 134 L478 139 L481 144 L484 149 L487 155 L490 160 L492 166 L493 172 L496 177 L501 181 L504 186 L508 191 L511 196 L514 201 L517 206 L519 212 L520 218 L522 223 L523 229 L524 235 L524 241 L524 247 L523 253 L521 259 L523 265 L525 270 L527 276Z" fill="#edd0cf" stroke="#d39a97" stroke-width="5" stroke-linejoin="round"/>
<path d="M252 90 Q278 198 305 216" fill="none" stroke="#e0b3b0" stroke-width="5" stroke-linecap="round" opacity="0.85"/>
<path d="M343 78 Q329 183 348 211" fill="none" stroke="#e0b3b0" stroke-width="5" stroke-linecap="round" opacity="0.85"/>
<path d="M430 110 Q381 194 388 226" fill="none" stroke="#e0b3b0" stroke-width="5" stroke-linecap="round" opacity="0.85"/>
<path d="M491 176 Q422 226 418 257" fill="none" stroke="#e0b3b0" stroke-width="5" stroke-linecap="round" opacity="0.85"/>
<path d="M519 261 Q446 272 431 297" fill="none" stroke="#e0b3b0" stroke-width="5" stroke-linecap="round" opacity="0.85"/>
<path d="M508 350 Q448 324 426 339" fill="none" stroke="#e0b3b0" stroke-width="5" stroke-linecap="round" opacity="0.85"/>
<path d="M462 427 Q428 373 404 375" fill="none" stroke="#e0b3b0" stroke-width="5" stroke-linecap="round" opacity="0.85"/>
<path d="M385 476 Q388 408 367 398" fill="none" stroke="#e0b3b0" stroke-width="5" stroke-linecap="round" opacity="0.85"/>
<path d="M293 485 Q336 421 324 402" fill="none" stroke="#e0b3b0" stroke-width="5" stroke-linecap="round" opacity="0.85"/>
<path d="M209 450 Q284 409 284 386" fill="none" stroke="#e0b3b0" stroke-width="5" stroke-linecap="round" opacity="0.85"/>
<path d="M149 382 Q244 375 256 354" fill="none" stroke="#e0b3b0" stroke-width="5" stroke-linecap="round" opacity="0.85"/>
<path d="M125 296 Q222 328 244 313" fill="none" stroke="#e0b3b0" stroke-width="5" stroke-linecap="round" opacity="0.85"/>
<path d="M138 208 Q222 276 250 272" fill="none" stroke="#e0b3b0" stroke-width="5" stroke-linecap="round" opacity="0.85"/>
<path d="M187 132 Q244 228 274 236" fill="none" stroke="#e0b3b0" stroke-width="5" stroke-linecap="round" opacity="0.85"/>
<path d="M330 130 C345 220 350 300 360 400 C330 330 300 240 330 130Z" fill="#f5e4e4" opacity="0.8"/>
<path d="M200 330 C260 330 320 340 380 330 C320 370 250 380 200 330Z" fill="#f5e4e4" opacity="0.7"/>
<path d="M430 200 C410 260 380 300 350 340 C400 320 440 270 430 200Z" fill="#f5e4e4" opacity="0.7"/>
<polygon points="0,520 190,480 120,690 0,690" fill="url(#fadeTail)"/>
</g>
<linearGradient id="fadeTail" gradientUnits="userSpaceOnUse" x1="40" y1="640" x2="135" y2="560"><stop offset="0" stop-color="#fff" stop-opacity="1"/><stop offset="1" stop-color="#fff" stop-opacity="0"/></linearGradient>
</defs>
<use href="#brain" transform="translate(0 92.4) scale(0.2586)"/>
<path d="M221.1 118.8 L222.4 144.6 M285.7 130.4 L256 161.5" stroke="#d46a6a" stroke-width="1.2" stroke-dasharray="1.5 1.5" fill="none"/>
<polygon points="212,149.8 222.4,144.6 256,161.5 313,300.8 132,300.8" fill="#d6656e" fill-opacity="0.4"/>
<rect x="132.0" y="300.8" width="181.0" height="339.6" fill="#fff" stroke="#b4606a" stroke-width="2" />
<line x1="132.0" y1="641.5" x2="313.0" y2="641.5" stroke="#d8b0b4" stroke-width="1.5" />
<path d="M222.5 318.3 C223.8 317.6 225.5 315.1 230.5 314.3 C235.5 313.5 245.5 312.1 252.5 313.3 C259.5 314.5 267.2 317.0 272.5 321.3 C277.8 325.6 281.8 333.0 284.5 339.3 C287.2 345.6 288.5 352.6 288.5 359.3 C288.5 366.0 286.8 373.3 284.5 379.3 C282.2 385.3 278.2 391.3 274.5 395.3 C270.8 399.3 267.0 401.6 262.5 403.3 C258.0 405.0 252.2 406.0 247.5 405.3 C242.8 404.6 238.0 402.0 234.5 399.3 C231.0 396.6 228.5 392.3 226.5 389.3 C224.5 386.3 223.8 381.3 222.5 381.3 C221.2 381.3 220.5 386.3 218.5 389.3 C216.5 392.3 214.0 396.6 210.5 399.3 C207.0 402.0 202.2 404.6 197.5 405.3 C192.8 406.0 187.0 405.0 182.5 403.3 C178.0 401.6 174.2 399.3 170.5 395.3 C166.8 391.3 162.8 385.3 160.5 379.3 C158.2 373.3 156.5 366.0 156.5 359.3 C156.5 352.6 157.8 345.6 160.5 339.3 C163.2 333.0 167.2 325.6 172.5 321.3 C177.8 317.0 185.5 314.5 192.5 313.3 C199.5 312.1 209.5 313.5 214.5 314.3 C219.5 315.1 221.2 317.6 222.5 318.3Z" fill="#e3bab5" stroke="#d9a8a4" stroke-width="1"/>
<ellipse cx="200.5" cy="381.3" rx="15" ry="14" fill="#efd8d5" opacity="0.9"/>
<ellipse cx="201.5" cy="383.3" rx="8" ry="8" fill="#f8eeee" opacity="0.55"/>
<path d="M182.5 365.3 C180.5 337.3 208.5 333.3 214.5 357.3" fill="none" stroke="#efd8d5" stroke-width="3" stroke-linecap="round"/>
<ellipse cx="244.5" cy="381.3" rx="15" ry="14" fill="#efd8d5" opacity="0.9"/>
<ellipse cx="243.5" cy="383.3" rx="8" ry="8" fill="#f8eeee" opacity="0.55"/>
<path d="M262.5 365.3 C264.5 337.3 236.5 333.3 230.5 357.3" fill="none" stroke="#efd8d5" stroke-width="3" stroke-linecap="round"/>
<line x1="222.5" y1="319.3" x2="222.5" y2="381.3" stroke="#d7a5a1" stroke-width="1" />
<path d="M219.0 434.3 C220.0 433.6 220.0 431.1 225.0 430.3 C230.0 429.5 241.6 428.5 249.0 429.3 C256.3 430.1 263.3 431.8 269.0 435.3 C274.6 438.8 279.6 444.5 283.0 450.3 C286.3 456.1 288.3 463.6 289.0 470.3 C289.6 477.0 288.6 484.5 287.0 490.3 C285.3 496.1 282.3 501.1 279.0 505.3 C275.6 509.5 271.0 512.8 267.0 515.3 C263.0 517.8 259.0 519.6 255.0 520.3 C251.0 521.0 246.6 520.3 243.0 519.3 C239.3 518.3 236.0 516.3 233.0 514.3 C230.0 512.3 227.3 509.3 225.0 507.3 C222.6 505.3 221.0 502.3 219.0 502.3 C217.0 502.3 215.3 505.3 213.0 507.3 C210.6 509.3 208.0 512.3 205.0 514.3 C202.0 516.3 198.6 518.3 195.0 519.3 C191.3 520.3 187.0 521.0 183.0 520.3 C179.0 519.6 175.0 517.8 171.0 515.3 C167.0 512.8 162.3 509.5 159.0 505.3 C155.6 501.1 152.6 496.1 151.0 490.3 C149.3 484.5 148.3 477.0 149.0 470.3 C149.6 463.6 151.6 456.1 155.0 450.3 C158.3 444.5 163.3 438.8 169.0 435.3 C174.6 431.8 181.6 430.1 189.0 429.3 C196.3 428.5 208.0 429.5 213.0 430.3 C218.0 431.1 218.0 433.6 219.0 434.3Z" fill="#e3bab5" stroke="#d9a8a4" stroke-width="1"/>
<path d="M167.0 485.3 C164.0 453.3 194.0 451.3 219.0 455.3 C244.0 451.3 274.0 453.3 271.0 485.3" fill="none" stroke="#efd8d5" stroke-width="2.5"/>
<path d="M200.0 456.3 L204.0 458.3 L203.5 483.3 L200.5 481.3Z" fill="#f8eeee"/>
<ellipse cx="204.0" cy="495.3" rx="5" ry="3" fill="#efd8d5" transform="rotate(35 204.0 495.3)"/>
<path d="M238.0 456.3 L234.0 458.3 L234.5 483.3 L237.5 481.3Z" fill="#f8eeee"/>
<ellipse cx="234.0" cy="495.3" rx="5" ry="3" fill="#efd8d5" transform="rotate(-35 234.0 495.3)"/>
<ellipse cx="219.0" cy="472.3" rx="11" ry="15" fill="#ecc8c8" opacity="0.8"/>
<line x1="219.0" y1="433.3" x2="219.0" y2="455.3" stroke="#d7a5a1" stroke-width="1" />
<line x1="219.0" y1="477.3" x2="219.0" y2="489.3" stroke="#d7a5a1" stroke-width="0.8" />
<path d="M218.1 539.1 C222.3 538.8 235.1 536.1 243.1 537.1 C251.1 538.1 259.9 541.3 266.1 545.1 C272.3 548.9 276.8 554.3 280.1 560.1 C283.4 565.9 285.3 573.4 286.1 580.1 C286.9 586.8 286.4 594.3 285.1 600.1 C283.8 605.9 281.3 610.9 278.1 615.1 C274.9 619.3 270.1 622.8 266.1 625.1 C262.1 627.4 257.8 628.1 254.1 629.1 C250.4 630.1 246.4 631.6 244.1 631.1 C241.8 630.6 242.8 626.6 240.1 626.1 C237.4 625.6 231.8 627.8 228.1 628.1 C224.4 628.4 221.4 628.1 218.1 628.1 C214.8 628.1 211.8 628.4 208.1 628.1 C204.4 627.8 198.8 625.6 196.1 626.1 C193.4 626.6 194.4 630.6 192.1 631.1 C189.8 631.6 185.8 630.1 182.1 629.1 C178.4 628.1 174.1 627.4 170.1 625.1 C166.1 622.8 161.3 619.3 158.1 615.1 C154.9 610.9 152.4 605.9 151.1 600.1 C149.8 594.3 149.3 586.8 150.1 580.1 C150.9 573.4 152.8 565.9 156.1 560.1 C159.4 554.3 163.9 548.9 170.1 545.1 C176.3 541.3 185.1 538.1 193.1 537.1 C201.1 536.1 213.9 538.8 218.1 539.1Z" fill="#e3bab5" stroke="#d9a8a4" stroke-width="1"/>
<ellipse cx="218.1" cy="591.1" rx="53" ry="33" fill="none" stroke="#efd8d5" stroke-width="2.5"/>
<ellipse cx="218.1" cy="591.1" rx="51" ry="31" fill="#e6c2be"/>
<ellipse cx="201.1" cy="568.1" rx="7" ry="4.5" fill="#f8eeee"/>
<path d="M194.1 581.1 C191.1 590.1 194.1 597.1 196.1 602.1" fill="none" stroke="#efd8d5" stroke-width="2.2" stroke-linecap="round"/>
<ellipse cx="235.1" cy="568.1" rx="7" ry="4.5" fill="#f8eeee"/>
<path d="M242.1 581.1 C245.1 590.1 242.1 597.1 240.1 602.1" fill="none" stroke="#efd8d5" stroke-width="2.2" stroke-linecap="round"/>
<path d="M201.1 572.1 L235.1 572.1" stroke="#efd8d5" stroke-width="3" />
<path d="M206.1 626.1 C212.1 621.1 224.1 621.1 230.1 626.1" fill="none" stroke="#f8eeee" stroke-width="2.5"/>
<line x1="218.1" y1="539.1" x2="218.1" y2="567.1" stroke="#d7a5a1" stroke-width="0.8" />
<polygon points="168.0,325.9 183.0,340.9 175.9,355.8 160.1,351.4 158.4,342.6 161.9,333.8" fill="#d6b3b3" fill-opacity="0.75" stroke="#b93d40" stroke-width="1.9" stroke-dasharray="1.7 1.5"/>
<polygon points="275.2,327.7 260.3,342.6 268.2,358.4 284.0,352.3 284.9,342.6 281.4,334.7" fill="#d6b3b3" fill-opacity="0.75" stroke="#b93d40" stroke-width="1.9" stroke-dasharray="1.7 1.5"/>
<polygon points="183.0,433.1 187.4,450.7 166.3,464.7 153.1,456.8 161.0,444.5 171.5,436.6" fill="#d6b3b3" fill-opacity="0.75" stroke="#b93d40" stroke-width="1.9" stroke-dasharray="1.7 1.5"/>
<polygon points="256.8,433.1 250.6,448.9 273.5,464.7 285.8,456.8 278.7,444.5 268.2,436.6" fill="#d6b3b3" fill-opacity="0.75" stroke="#b93d40" stroke-width="1.9" stroke-dasharray="1.7 1.5"/>
<polygon points="182.1,541.2 187.4,557.9 167.1,574.6 154.0,567.5 161.0,555.2 170.7,547.3" fill="#d6b3b3" fill-opacity="0.75" stroke="#b93d40" stroke-width="1.9" stroke-dasharray="1.7 1.5"/>
<polygon points="255.9,542.1 248.9,558.8 271.7,574.6 283.1,566.7 277.0,555.2 266.4,547.3" fill="#d6b3b3" fill-opacity="0.75" stroke="#b93d40" stroke-width="1.9" stroke-dasharray="1.7 1.5"/>
<text x="226.9" y="138.2" font-size="36" textLength="41.1" lengthAdjust="spacingAndGlyphs" >S1</text>
<use href="#astS1" x="579.5" y="441.9"/>
<use href="#astS2" x="475.4" y="488.5"/>
<g filter="url(#blur1)" transform="translate(0.0 0.0)">
<path d="M456.3 368.2 L491 368.2 L510.7 375.5 L510.7 378.7 L491 387 L456.3 387Z" fill="#ececec"/>
<rect x="456.3" y="368.2" width="35" height="3.8" fill="#bcbcbc"/><rect x="456.3" y="383.2" width="35" height="3.8" fill="#bcbcbc"/>
<path d="M491 370 L510 376 M491 385 L510 378.5" stroke="#c4c4c4" stroke-width="2.2" stroke-dasharray="5 2"/>
<rect x="462" y="374" width="27" height="7.5" fill="#d2d6da"/>
<path d="M429.5 377.1 L486 377.1" stroke="#aaa" stroke-width="1.4"/>
<path d="M428.6 364.6 L407.1 376.3 L428.6 387.9Z" fill="#fff" stroke="#cdcdcd" stroke-width="1.8" stroke-linejoin="round"/>
</g>
<clipPath id="clipn0_0"><rect x="402.8" y="217.6" width="240" height="380.9"/></clipPath>
<g clip-path="url(#clipn0_0)"><use href="#nblue" x="522.8" y="377.6"/></g>
<rect x="516.8" y="225.6" width="12" height="30" fill="url(#fadeT)"/>
<path d="M376.0 429.0 C379.2 428.7 386.8 428.3 395.0 427.0 C403.2 425.7 415.0 422.8 425.0 421.3 C435.0 419.8 445.8 418.1 455.0 418.0 C464.2 417.9 473.5 419.2 480.0 420.5 C486.5 421.8 490.2 424.3 494.0 425.5 C497.8 426.7 501.5 427.2 503.0 427.5" fill="none" stroke="#686868" stroke-width="7.6" stroke-linecap="round"/>
<path d="M497.2 421.2 C501.3 415.5 506.5 414.0 512.1 415.5 C518.3 418.6 518.8 426.9 516.3 432.5 C513.7 436.1 505.4 436.1 501.3 432.0 C498.2 429.4 496.7 426.9 497.2 421.2Z" fill="#686868"/>
<rect x="372.0" y="421.4" width="26.0" height="15.2" fill="url(#fadeL)"/>
<circle cx="517.1" cy="419.3" r="25.2" fill="none" stroke="#e8151b" stroke-width="2.7" />
<line x1="445.9" y1="441.4" x2="421.8" y2="474.8" stroke="#6a6a6a" stroke-width="1.9" />
<g filter="url(#blur1)">
<line x1="421.8" y1="474.8" x2="411.5" y2="488.7" stroke="#8c8c8c" stroke-width="4.0" />
<line x1="411.5" y1="488.7" x2="407.8" y2="493.8" stroke="#7a7a7a" stroke-width="5.6" />
<line x1="407.8" y1="493.8" x2="391.7" y2="515.6" stroke="#e0e0e0" stroke-width="7.4" />
<line x1="391.7" y1="515.6" x2="389.6" y2="518.5" stroke="#5a5a5a" stroke-width="8.4" />
<line x1="389.6" y1="518.5" x2="380.6" y2="530.8" stroke="#e6e6e6" stroke-width="6.6" />
<line x1="380.6" y1="530.8" x2="376.6" y2="536.2" stroke="#858585" stroke-width="4.8" />
<line x1="376.6" y1="536.2" x2="375.2" y2="538.1" stroke="#555" stroke-width="3.4" />
<line x1="410.8" y1="496.0" x2="394.7" y2="517.8" stroke="#a4a4a4" stroke-width="0.9" />
<line x1="404.8" y1="491.6" x2="388.8" y2="513.4" stroke="#a4a4a4" stroke-width="0.9" />
<line x1="392.3" y1="520.4" x2="383.2" y2="532.8" stroke="#a4a4a4" stroke-width="0.9" />
<line x1="387.0" y1="516.5" x2="377.9" y2="528.9" stroke="#a4a4a4" stroke-width="0.9" />
</g>
<path d="M375.2 538.1 C374.1 539.5 370.6 543.9 368.5 546.8 C366.4 549.7 364.3 552.1 362.9 555.5 C361.5 558.9 360.5 563.6 360.3 567.0 C360.1 570.4 361.1 573.1 361.8 576.0 C362.5 578.9 364.2 581.8 364.7 584.5 C365.2 587.2 364.9 589.6 364.6 592.0 C364.4 594.4 363.8 596.7 363.2 599.0 C362.6 601.3 361.5 604.8 361.1 606.0" fill="none" stroke="#262626" stroke-width="2.2" stroke-linecap="round"/>
<rect x="349.1" y="589.0" width="24" height="20.0" fill="url(#fadeB)"/>
<text x="368.8" y="294.7" font-size="42" textLength="63.7" lengthAdjust="spacingAndGlyphs" >ND</text>
<path d="M361.6 331.3 L383.0 331.3 L383.0 305.4 L406.8 305.4 L406.8 331.3 L428.6 331.3" fill="none" stroke="#e8151b" stroke-width="1.6" />
<text x="412.2" y="327.6" font-size="24" textLength="34.9" lengthAdjust="spacingAndGlyphs" >5 s</text>
<text x="353.4" y="398.6" font-size="28.5" textLength="59.4" lengthAdjust="spacingAndGlyphs" >Rec.</text>
<text x="378.5" y="593.6" font-size="31" textLength="73.3" lengthAdjust="spacingAndGlyphs" >Stim.</text>
<path d="M330.6 1083.1 L328.7 1079.9 L326.1 1075.3 L323.2 1070.0 L320.4 1064.6 L318.1 1059.6 L316.4 1054.8 L314.9 1049.9 L313.7 1044.9 L312.6 1040.3 L311.6 1036.0 L310.8 1032.1 L310.2 1028.4 L309.7 1025.0 L309.4 1022.2 L309.0 1020.2 L307.5 1020.3 L307.5 1022.4 L307.7 1025.2 L307.9 1028.7 L308.3 1032.5 L308.9 1036.5 L309.6 1040.9 L310.5 1045.7 L311.5 1050.7 L312.8 1055.9 L314.4 1061.0 L316.5 1066.4 L319.2 1072.1 L322.0 1077.5 L324.3 1082.2 L326.0 1085.5Z M313.6 1045.4 L312.6 1044.9 L311.3 1044.1 L309.7 1043.2 L308.1 1042.3 L306.6 1041.5 L305.0 1041.0 L303.4 1040.5 L301.8 1040.2 L300.5 1039.9 L299.6 1039.7 L299.3 1040.9 L300.2 1041.1 L301.5 1041.5 L303.0 1041.9 L304.5 1042.4 L305.9 1043.0 L307.3 1043.7 L308.8 1044.7 L310.3 1045.6 L311.6 1046.5 L312.5 1047.1Z M317.1 1061.7 L316.0 1060.2 L314.5 1057.9 L312.7 1055.4 L310.7 1053.1 L308.6 1051.6 L306.2 1051.2 L303.7 1051.6 L301.4 1052.4 L299.4 1053.2 L298.0 1053.7 L298.4 1054.9 L299.9 1054.4 L301.8 1053.7 L304.1 1053.0 L306.2 1052.7 L307.9 1053.0 L309.5 1054.3 L311.3 1056.4 L313.0 1058.9 L314.4 1061.3 L315.4 1062.9Z M334.5 1081.7 L336.1 1078.8 L338.5 1074.8 L341.2 1070.1 L343.9 1065.4 L346.1 1061.2 L347.6 1057.4 L348.7 1053.9 L349.6 1050.6 L350.5 1047.6 L351.5 1044.9 L352.9 1042.5 L354.6 1040.1 L356.3 1038.0 L357.8 1036.2 L358.9 1034.8 L357.7 1033.7 L356.5 1034.9 L354.8 1036.6 L352.8 1038.6 L350.8 1041.0 L349.0 1043.6 L347.6 1046.5 L346.5 1049.6 L345.3 1052.8 L344.1 1056.0 L342.5 1059.4 L340.2 1063.3 L337.4 1067.8 L334.5 1072.3 L331.9 1076.2 L330.1 1078.9Z M345.5 1061.2 L346.7 1060.6 L348.5 1059.9 L350.6 1058.9 L352.7 1058.0 L354.6 1057.0 L356.5 1056.0 L358.3 1054.8 L360.1 1053.7 L361.6 1052.7 L362.6 1052.0 L362.0 1051.0 L360.9 1051.6 L359.4 1052.5 L357.6 1053.6 L355.7 1054.6 L353.9 1055.6 L352.0 1056.4 L349.9 1057.3 L347.8 1058.2 L346.0 1058.9 L344.7 1059.4Z M351.0 1044.8 L350.7 1043.6 L350.1 1042.0 L349.5 1040.0 L349.0 1038.1 L349.0 1036.3 L349.4 1034.6 L350.2 1032.6 L351.2 1030.7 L352.2 1029.0 L352.8 1027.7 L351.8 1027.2 L351.1 1028.4 L350.1 1030.0 L349.0 1032.0 L348.1 1034.1 L347.6 1036.2 L347.6 1038.3 L348.0 1040.4 L348.6 1042.4 L349.2 1044.1 L349.5 1045.3Z M319.8 1083.9 L317.0 1084.6 L312.9 1085.5 L308.2 1086.5 L303.6 1087.5 L299.8 1088.5 L296.7 1089.6 L294.1 1090.8 L291.9 1091.9 L290.1 1092.7 L288.3 1093.0 L286.4 1092.6 L284.1 1091.7 L282.0 1090.4 L280.1 1089.2 L278.7 1088.4 L277.8 1089.8 L279.0 1090.7 L280.8 1092.1 L283.1 1093.6 L285.5 1094.9 L288.1 1095.6 L290.7 1095.5 L293.1 1094.8 L295.4 1093.9 L297.9 1092.9 L300.7 1092.1 L304.5 1091.4 L309.0 1090.6 L313.7 1089.8 L317.8 1089.1 L320.7 1088.7Z M295.4 1091.0 L294.6 1092.2 L293.5 1094.0 L292.1 1096.0 L290.8 1098.0 L289.6 1099.9 L288.4 1101.5 L287.3 1103.2 L286.1 1104.8 L285.2 1106.2 L284.5 1107.2 L285.5 1107.9 L286.2 1106.9 L287.2 1105.6 L288.4 1104.1 L289.7 1102.4 L290.9 1100.8 L292.2 1099.0 L293.6 1097.0 L295.0 1095.0 L296.2 1093.3 L297.1 1092.1Z M337.9 1086.7 L340.9 1087.1 L345.2 1087.7 L350.2 1088.4 L355.4 1089.1 L360.0 1089.7 L364.2 1090.1 L368.2 1090.5 L372.2 1090.9 L376.2 1091.1 L380.3 1091.1 L384.7 1090.9 L389.4 1090.5 L393.9 1090.1 L397.8 1089.6 L400.5 1089.3 L400.1 1085.7 L397.4 1085.9 L393.6 1086.3 L389.1 1086.7 L384.5 1087.0 L380.3 1087.1 L376.4 1087.0 L372.6 1086.7 L368.6 1086.3 L364.7 1085.8 L360.6 1085.3 L356.0 1084.7 L350.9 1083.9 L345.9 1083.1 L341.7 1082.4 L338.6 1081.9Z M353.1 1086.3 L354.7 1085.2 L356.9 1083.5 L359.4 1081.8 L362.1 1080.3 L364.5 1079.5 L366.9 1079.4 L369.6 1079.9 L372.5 1080.7 L375.5 1081.3 L378.4 1081.3 L381.4 1080.4 L384.3 1079.0 L386.9 1077.4 L389.2 1076.0 L390.7 1075.0 L389.9 1073.6 L388.3 1074.5 L386.0 1075.9 L383.4 1077.4 L380.7 1078.6 L378.2 1079.3 L375.7 1079.2 L373.0 1078.6 L370.1 1077.8 L367.1 1077.1 L364.1 1077.1 L361.1 1078.1 L358.1 1079.6 L355.4 1081.4 L353.1 1082.9 L351.5 1083.9Z M361.6 1090.1 L363.3 1091.2 L365.7 1092.9 L368.5 1094.8 L371.4 1096.4 L374.2 1097.2 L376.8 1097.0 L379.2 1096.0 L381.5 1094.8 L383.3 1093.6 L384.6 1092.8 L384.0 1091.8 L382.6 1092.5 L380.8 1093.5 L378.6 1094.6 L376.4 1095.3 L374.4 1095.4 L372.2 1094.6 L369.6 1093.0 L367.0 1091.1 L364.6 1089.3 L363.0 1088.1Z M322.7 1093.2 L321.7 1095.8 L320.2 1099.3 L318.4 1103.4 L316.5 1107.6 L314.5 1111.3 L312.4 1114.6 L310.0 1118.0 L307.5 1121.4 L305.1 1124.6 L303.1 1127.6 L301.5 1130.4 L300.1 1133.2 L299.0 1135.6 L298.1 1137.7 L297.5 1139.2 L299.0 1139.9 L299.8 1138.5 L300.9 1136.6 L302.1 1134.2 L303.7 1131.7 L305.4 1129.1 L307.5 1126.4 L310.1 1123.4 L312.8 1120.2 L315.5 1116.8 L318.0 1113.4 L320.2 1109.6 L322.4 1105.4 L324.5 1101.3 L326.2 1097.8 L327.4 1095.4Z M315.1 1112.7 L315.8 1114.4 L316.8 1116.7 L317.8 1119.4 L318.8 1122.1 L319.4 1124.5 L319.6 1126.6 L319.5 1128.9 L319.2 1131.1 L319.0 1132.9 L318.9 1134.3 L320.1 1134.4 L320.3 1133.1 L320.7 1131.3 L321.0 1129.0 L321.2 1126.6 L321.1 1124.2 L320.6 1121.6 L319.8 1118.8 L318.8 1116.0 L317.9 1113.6 L317.4 1111.9Z M308.2 1122.5 L306.8 1122.6 L304.9 1122.6 L302.5 1122.7 L300.1 1123.0 L298.0 1123.6 L296.0 1124.7 L294.1 1126.1 L292.3 1127.6 L290.9 1129.0 L289.8 1129.9 L290.6 1130.8 L291.7 1129.9 L293.2 1128.6 L295.0 1127.2 L296.8 1125.9 L298.5 1125.1 L300.4 1124.7 L302.6 1124.5 L304.9 1124.5 L306.9 1124.5 L308.3 1124.5Z M330.7 1096.7 L331.2 1099.5 L332.0 1103.5 L332.7 1108.1 L333.3 1112.5 L333.6 1116.3 L333.4 1119.4 L333.0 1122.2 L332.3 1124.9 L331.6 1127.5 L331.0 1130.0 L330.4 1132.3 L329.8 1134.4 L329.2 1136.4 L328.6 1138.1 L328.3 1139.3 L329.8 1139.8 L330.3 1138.7 L331.1 1137.1 L331.9 1135.2 L332.7 1133.0 L333.5 1130.7 L334.4 1128.4 L335.3 1125.8 L336.2 1123.0 L336.9 1119.8 L337.3 1116.4 L337.3 1112.2 L336.9 1107.5 L336.3 1102.8 L335.8 1098.8 L335.4 1096.0Z M334.3 1119.0 L335.6 1120.4 L337.4 1122.3 L339.4 1124.6 L341.4 1126.8 L342.8 1128.8 L343.7 1130.5 L344.4 1132.3 L345.0 1134.0 L345.4 1135.5 L345.7 1136.5 L346.9 1136.2 L346.6 1135.1 L346.3 1133.6 L345.8 1131.8 L345.1 1129.9 L344.2 1127.9 L342.7 1125.8 L340.8 1123.4 L338.8 1121.1 L337.0 1119.1 L335.8 1117.7Z M410.5 1076.9 L408.7 1074.4 L406.3 1070.8 L403.4 1066.7 L400.5 1062.6 L397.9 1059.1 L395.6 1056.3 L393.4 1053.7 L391.3 1051.4 L389.3 1049.3 L387.3 1047.3 L385.4 1045.4 L383.4 1043.6 L381.6 1042.0 L380.0 1040.6 L378.9 1039.7 L377.7 1040.8 L378.7 1042.0 L380.1 1043.5 L381.8 1045.2 L383.5 1047.2 L385.3 1049.2 L387.0 1051.3 L388.8 1053.6 L390.7 1056.0 L392.7 1058.6 L394.7 1061.5 L397.0 1065.0 L399.7 1069.2 L402.3 1073.4 L404.6 1077.1 L406.1 1079.7Z M397.3 1060.6 L397.7 1059.2 L398.3 1057.2 L399.0 1054.9 L399.7 1052.6 L400.3 1050.5 L400.7 1048.6 L401.1 1046.7 L401.3 1044.9 L401.6 1043.4 L401.7 1042.4 L400.5 1042.2 L400.3 1043.2 L400.0 1044.7 L399.6 1046.4 L399.2 1048.3 L398.7 1050.1 L398.1 1052.1 L397.4 1054.3 L396.6 1056.6 L395.9 1058.6 L395.4 1060.0Z M389.1 1050.5 L387.9 1050.5 L386.1 1050.6 L384.0 1050.7 L381.9 1051.0 L380.0 1051.6 L378.4 1052.7 L376.9 1054.1 L375.6 1055.6 L374.6 1057.0 L373.8 1057.9 L374.8 1058.7 L375.6 1057.8 L376.7 1056.5 L377.9 1055.1 L379.3 1053.8 L380.6 1053.0 L382.2 1052.6 L384.1 1052.4 L386.1 1052.4 L387.9 1052.5 L389.1 1052.5Z M420.5 1079.8 L422.1 1077.2 L424.5 1073.7 L427.3 1069.5 L429.9 1065.2 L432.1 1061.2 L433.8 1057.6 L435.2 1054.1 L436.4 1050.6 L437.2 1047.4 L437.7 1044.5 L437.7 1041.8 L437.2 1039.5 L436.4 1037.6 L435.6 1036.2 L435.1 1035.2 L433.6 1035.7 L433.9 1036.9 L434.4 1038.4 L434.9 1040.1 L435.2 1042.0 L435.0 1044.1 L434.3 1046.6 L433.3 1049.5 L431.9 1052.7 L430.4 1056.0 L428.6 1059.3 L426.3 1062.9 L423.5 1067.0 L420.6 1070.9 L418.0 1074.4 L416.2 1076.8Z M431.9 1059.2 L433.2 1058.7 L435.0 1057.9 L437.0 1057.0 L439.1 1056.0 L440.8 1054.9 L442.2 1053.6 L443.4 1052.2 L444.3 1050.7 L445.1 1049.5 L445.6 1048.6 L444.7 1047.9 L444.0 1048.8 L443.2 1050.0 L442.2 1051.3 L441.1 1052.6 L439.9 1053.6 L438.3 1054.5 L436.3 1055.4 L434.3 1056.2 L432.5 1056.9 L431.2 1057.4Z M423.6 1079.6 L426.2 1077.0 L429.8 1073.3 L434.0 1069.1 L438.1 1064.9 L441.5 1061.4 L444.1 1058.5 L446.2 1055.9 L448.0 1053.5 L449.7 1051.3 L451.4 1049.2 L453.2 1047.1 L455.1 1045.0 L456.8 1043.1 L458.2 1041.5 L459.2 1040.3 L457.5 1038.7 L456.4 1039.8 L454.9 1041.3 L453.1 1043.2 L451.2 1045.3 L449.3 1047.4 L447.5 1049.5 L445.7 1051.6 L443.8 1053.9 L441.7 1056.4 L439.2 1059.2 L435.8 1062.6 L431.7 1066.7 L427.4 1070.9 L423.7 1074.5 L421.1 1077.0Z M422.0 1092.1 L424.4 1094.1 L427.9 1096.9 L431.8 1100.1 L435.8 1103.2 L439.2 1105.8 L442.0 1107.8 L444.5 1109.7 L446.9 1111.3 L449.3 1112.6 L452.0 1113.6 L455.0 1114.1 L458.1 1114.0 L461.0 1113.7 L463.5 1113.4 L465.2 1113.1 L465.1 1111.5 L463.3 1111.6 L460.8 1111.7 L458.0 1111.8 L455.2 1111.6 L452.7 1111.1 L450.6 1110.1 L448.6 1108.7 L446.5 1107.0 L444.1 1105.1 L441.5 1102.9 L438.3 1100.1 L434.5 1096.9 L430.7 1093.5 L427.4 1090.6 L425.1 1088.5Z M446.4 1109.6 L447.1 1111.1 L448.0 1113.2 L449.0 1115.7 L449.9 1118.2 L450.7 1120.6 L451.2 1122.9 L451.7 1125.5 L452.0 1128.0 L452.3 1130.1 L452.6 1131.6 L453.8 1131.5 L453.6 1129.9 L453.5 1127.8 L453.2 1125.3 L452.9 1122.6 L452.4 1120.1 L451.8 1117.6 L450.9 1115.0 L450.0 1112.4 L449.2 1110.2 L448.7 1108.7Z M437.0 1102.3 L438.0 1101.5 L439.4 1100.3 L441.1 1098.9 L442.9 1097.8 L444.5 1097.1 L446.4 1096.9 L448.6 1097.0 L450.9 1097.2 L452.9 1097.5 L454.3 1097.7 L454.5 1096.5 L453.1 1096.3 L451.1 1095.9 L448.8 1095.5 L446.4 1095.3 L444.2 1095.5 L442.1 1096.3 L440.1 1097.5 L438.3 1098.8 L436.8 1100.0 L435.7 1100.7Z M404.0 1095.2 L402.7 1098.1 L401.0 1102.2 L398.9 1106.8 L396.7 1111.4 L394.6 1115.2 L392.5 1118.5 L390.0 1121.6 L387.6 1124.4 L385.2 1127.1 L383.3 1129.4 L381.7 1131.4 L380.3 1133.1 L379.2 1134.6 L378.3 1135.7 L377.7 1136.6 L378.9 1137.7 L379.7 1137.0 L380.8 1136.0 L382.1 1134.7 L383.6 1133.1 L385.4 1131.3 L387.5 1129.1 L390.0 1126.7 L392.7 1123.9 L395.4 1120.8 L398.0 1117.4 L400.5 1113.4 L403.0 1108.8 L405.3 1104.2 L407.2 1100.2 L408.7 1097.4Z M395.2 1116.7 L395.8 1118.4 L396.8 1120.8 L397.8 1123.5 L398.7 1126.2 L399.4 1128.5 L399.9 1130.6 L400.1 1132.6 L400.3 1134.4 L400.4 1136.0 L400.5 1137.2 L401.7 1137.1 L401.7 1136.0 L401.7 1134.4 L401.7 1132.5 L401.5 1130.3 L401.2 1128.1 L400.6 1125.7 L399.7 1122.9 L398.8 1120.1 L398.0 1117.6 L397.4 1115.9Z M389.4 1124.2 L388.1 1123.9 L386.3 1123.5 L384.2 1123.0 L382.1 1122.7 L380.2 1122.7 L378.5 1123.4 L377.0 1124.3 L375.7 1125.4 L374.7 1126.4 L373.9 1127.1 L374.7 1128.0 L375.5 1127.4 L376.6 1126.5 L377.8 1125.5 L379.2 1124.7 L380.4 1124.3 L382.0 1124.4 L383.9 1124.7 L385.9 1125.2 L387.6 1125.8 L388.9 1126.1Z M412.5 1098.2 L412.5 1101.2 L412.3 1105.5 L412.1 1110.5 L411.9 1115.6 L411.6 1120.2 L411.3 1124.5 L410.9 1129.0 L410.5 1133.2 L410.1 1136.9 L409.9 1139.4 L411.5 1139.7 L412.0 1137.1 L412.6 1133.5 L413.3 1129.3 L414.0 1124.8 L414.6 1120.5 L415.2 1115.9 L415.7 1110.8 L416.2 1105.8 L416.6 1101.5 L416.9 1098.5Z M412.3 1120.9 L413.4 1122.3 L415.0 1124.3 L416.8 1126.5 L418.4 1128.8 L419.6 1130.7 L420.4 1132.4 L420.9 1134.2 L421.3 1135.9 L421.5 1137.4 L421.7 1138.5 L422.9 1138.2 L422.8 1137.2 L422.6 1135.7 L422.3 1133.9 L421.8 1132.0 L421.0 1130.0 L419.8 1127.8 L418.2 1125.5 L416.5 1123.2 L415.0 1121.1 L413.9 1119.7Z" fill="#5ac653" stroke="#5ac653" stroke-width="0.5" stroke-linejoin="round"/>
<polygon points="341.9,1088.9 330.8,1097.6 317.2,1093.0 314.6,1079.7 325.7,1071.0 339.4,1075.6" fill="#5ac653" stroke="#5ac653" stroke-width="3" stroke-linejoin="round"/>
<ellipse cx="328.3" cy="1084.3" rx="6" ry="5" fill="#3aa83a"/>
<polygon points="426.0,1090.9 414.8,1099.6 401.2,1095.0 398.7,1081.7 409.8,1073.0 423.4,1077.6" fill="#5ac653" stroke="#5ac653" stroke-width="3" stroke-linejoin="round"/>
<ellipse cx="412.3" cy="1086.3" rx="6" ry="5" fill="#3aa83a"/>
<use href="#astS1" transform="translate(503.4 1088.7) scale(1.0)"/>
<use href="#astS2" transform="translate(379.0 1218.4) scale(1.3)"/>
<use href="#astS1" transform="translate(251.9 1149.9) scale(1.05)"/>
<g filter="url(#blur1)" transform="translate(0.0 0.0)">
<path d="M193.9 1017.1 L243.4 1017.1 L259.2 1026 L259.2 1029.2 L243.4 1039.2 L193.9 1039.2Z" fill="#ededf0"/>
<rect x="193.9" y="1017.1" width="49.5" height="4.2" fill="#c0c0c4"/><rect x="193.9" y="1035" width="49.5" height="4.2" fill="#c0c0c4"/>
<path d="M243.4 1019 L258 1026.5 M243.4 1037.3 L258 1029" stroke="#c4c4c8" stroke-width="2.2" stroke-dasharray="5 2"/>
<rect x="205" y="1022.5" width="34" height="11" fill="#d6d6de"/>
<path d="M163.3 1027.6 L228 1027.6" stroke="#b4b4b4" stroke-width="1.4"/>
<path d="M163.3 1012.9 L137 1026.6 L163.3 1039.2" fill="none" stroke="#d0d0d0" stroke-width="1.8"/>
<path d="M483.4 1026.5 L510 1014.5 L549.8 1014.5 L549.8 1038 L510 1038Z" fill="#e4e4e6"/>
<path d="M486 1025 L510 1014.8 M486 1028 L510 1037.6" stroke="#c6c6c6" stroke-width="2" stroke-dasharray="5 2"/>
<rect x="510" y="1013.9" width="39.8" height="3.6" fill="#c4c4c6"/><rect x="510" y="1034.6" width="39.8" height="3.6" fill="#c4c4c6"/>
<rect x="541" y="1018" width="9" height="16" fill="#f2f2f2"/>
<rect x="516" y="1024.3" width="5" height="2.4" fill="#8a2a3a"/>
<path d="M580.4 1011.8 L606.7 1024.4 L580.4 1038.1Z" fill="#fff" stroke="#d4d4d4" stroke-width="1.6" stroke-linejoin="round" stroke-dasharray="6 1"/>
</g>
<clipPath id="clipd0_0"><rect x="124.0" y="837.6" width="500" height="452.4"/></clipPath>
<g clip-path="url(#clipd0_0)"><use href="#nblue" transform="translate(274.0 1027.6) scale(1.19)"/><use href="#npurp" transform="translate(467.6 1026.6) scale(1.19)"/></g>
<rect x="268.0" y="847.6" width="12" height="34" fill="url(#fadeT)"/>
<rect x="461.6" y="846.6" width="12" height="34" fill="url(#fadeT)"/>
<path d="M100.0 1086.5 C105.6 1086.4 122.9 1087.2 133.8 1086.0 C144.7 1084.8 154.9 1081.2 165.4 1079.5 C175.9 1077.8 187.2 1076.0 197.0 1075.8 C206.8 1075.6 217.1 1077.2 224.5 1078.5 C231.9 1079.8 237.6 1082.4 241.3 1083.5 C245.1 1084.6 246.1 1084.8 247.0 1085.0" fill="none" stroke="#686868" stroke-width="9.2" stroke-linecap="round"/>
<path d="M242.7 1080.3 C247.0 1074.0 252.4 1072.2 258.4 1074.0 C264.8 1077.4 265.4 1086.6 262.7 1092.9 C260.0 1097.0 251.3 1097.0 247.0 1092.3 C243.8 1089.5 242.2 1086.6 242.7 1080.3Z" fill="#686868"/>
<rect x="96.0" y="1077.3" width="31.2" height="18.4" fill="url(#fadeL)"/>
<circle cx="265.4" cy="1081.8" r="25.6" fill="none" stroke="#e8151b" stroke-width="2.8" />
<line x1="182.6" y1="1105.1" x2="154.8" y2="1143.4" stroke="#6a6a6a" stroke-width="2.242" />
<g filter="url(#blur1)">
<line x1="154.8" y1="1143.4" x2="142.4" y2="1160.3" stroke="#8c8c8c" stroke-width="4.72" />
<line x1="142.4" y1="1160.3" x2="137.9" y2="1166.4" stroke="#7a7a7a" stroke-width="6.608" />
<line x1="137.9" y1="1166.4" x2="118.4" y2="1192.9" stroke="#e0e0e0" stroke-width="8.732" />
<line x1="118.4" y1="1192.9" x2="115.8" y2="1196.4" stroke="#5a5a5a" stroke-width="9.911999999999999" />
<line x1="115.8" y1="1196.4" x2="104.8" y2="1211.4" stroke="#e6e6e6" stroke-width="7.787999999999999" />
<line x1="104.8" y1="1211.4" x2="100.0" y2="1217.9" stroke="#858585" stroke-width="5.664" />
<line x1="100.0" y1="1217.9" x2="98.3" y2="1220.2" stroke="#555" stroke-width="4.012" />
<line x1="141.4" y1="1169.0" x2="121.9" y2="1195.5" stroke="#a4a4a4" stroke-width="0.9" />
<line x1="134.3" y1="1163.9" x2="114.8" y2="1190.3" stroke="#a4a4a4" stroke-width="0.9" />
<line x1="119.0" y1="1198.7" x2="107.9" y2="1213.7" stroke="#a4a4a4" stroke-width="0.9" />
<line x1="112.7" y1="1194.1" x2="101.7" y2="1209.1" stroke="#a4a4a4" stroke-width="0.9" />
</g>
<path d="M98.3 1220.2 C97.2 1221.6 93.5 1225.8 91.5 1228.5 C89.5 1231.2 87.9 1233.5 86.2 1236.4 C84.5 1239.3 82.3 1243.0 81.3 1246.0 C80.3 1249.0 79.9 1251.5 80.1 1254.5 C80.3 1257.5 81.7 1260.8 82.5 1264.0 C83.3 1267.2 84.7 1270.9 85.2 1273.7 C85.7 1276.5 85.6 1278.6 85.6 1281.0 C85.6 1283.4 85.3 1285.8 85.0 1288.0 C84.7 1290.2 84.2 1292.3 83.5 1294.5 C82.8 1296.7 81.5 1299.9 81.1 1301.0" fill="none" stroke="#262626" stroke-width="2.6" stroke-linecap="round"/>
<rect x="69.1" y="1280.9" width="24" height="23.6" fill="url(#fadeB)"/>
<text x="524.7" y="960.3" font-size="42" textLength="62.6" lengthAdjust="spacingAndGlyphs" >ND</text>
<path d="M518.2 997.0 L539.3 997.0 L539.3 971.7 L562.4 971.7 L562.4 997.0 L583.5 997.0" fill="none" stroke="#e8151b" stroke-width="1.6" />
<text x="568.1" y="993.5" font-size="24" textLength="35.3" lengthAdjust="spacingAndGlyphs" >5 s</text>
<text x="100.7" y="1055.0" font-size="30" textLength="59.9" lengthAdjust="spacingAndGlyphs" >Rec.</text>
<text x="103.3" y="1287.9" font-size="31" textLength="74.8" lengthAdjust="spacingAndGlyphs" >Stim.</text>
<use href="#brain" transform="translate(0 1420) scale(0.2771)"/>
<ellipse cx="271.5" cy="1512.3" rx="13.8" ry="10.5" fill="#a51f22" transform="rotate(8 271.5 1512.3)"/>
<polygon points="256.3,1520.3 286.8,1517.5 363.5,1661 181,1661" fill="#d6656e" fill-opacity="0.4"/>
<rect x="181.0" y="1661.0" width="182.5" height="341.0" fill="#fff" stroke="#b4606a" stroke-width="2" />
<line x1="181.0" y1="2003.0" x2="363.5" y2="2003.0" stroke="#d8b0b4" stroke-width="1.5" />
<path d="M272.0 1678.5 C273.3 1677.8 275.0 1675.3 280.0 1674.5 C285.0 1673.7 295.0 1672.3 302.0 1673.5 C309.0 1674.7 316.7 1677.2 322.0 1681.5 C327.3 1685.8 331.3 1693.2 334.0 1699.5 C336.7 1705.8 338.0 1712.8 338.0 1719.5 C338.0 1726.2 336.3 1733.5 334.0 1739.5 C331.7 1745.5 327.7 1751.5 324.0 1755.5 C320.3 1759.5 316.5 1761.8 312.0 1763.5 C307.5 1765.2 301.7 1766.2 297.0 1765.5 C292.3 1764.8 287.5 1762.2 284.0 1759.5 C280.5 1756.8 278.0 1752.5 276.0 1749.5 C274.0 1746.5 273.3 1741.5 272.0 1741.5 C270.7 1741.5 270.0 1746.5 268.0 1749.5 C266.0 1752.5 263.5 1756.8 260.0 1759.5 C256.5 1762.2 251.7 1764.8 247.0 1765.5 C242.3 1766.2 236.5 1765.2 232.0 1763.5 C227.5 1761.8 223.7 1759.5 220.0 1755.5 C216.3 1751.5 212.3 1745.5 210.0 1739.5 C207.7 1733.5 206.0 1726.2 206.0 1719.5 C206.0 1712.8 207.3 1705.8 210.0 1699.5 C212.7 1693.2 216.7 1685.8 222.0 1681.5 C227.3 1677.2 235.0 1674.7 242.0 1673.5 C249.0 1672.3 259.0 1673.7 264.0 1674.5 C269.0 1675.3 270.7 1677.8 272.0 1678.5Z" fill="#e3bab5" stroke="#d9a8a4" stroke-width="1"/>
<ellipse cx="250.0" cy="1741.5" rx="15" ry="14" fill="#efd8d5" opacity="0.9"/>
<ellipse cx="251.0" cy="1743.5" rx="8" ry="8" fill="#f8eeee" opacity="0.55"/>
<path d="M232.0 1725.5 C230.0 1697.5 258.0 1693.5 264.0 1717.5" fill="none" stroke="#efd8d5" stroke-width="3" stroke-linecap="round"/>
<ellipse cx="294.0" cy="1741.5" rx="15" ry="14" fill="#efd8d5" opacity="0.9"/>
<ellipse cx="293.0" cy="1743.5" rx="8" ry="8" fill="#f8eeee" opacity="0.55"/>
<path d="M312.0 1725.5 C314.0 1697.5 286.0 1693.5 280.0 1717.5" fill="none" stroke="#efd8d5" stroke-width="3" stroke-linecap="round"/>
<line x1="272.0" y1="1679.5" x2="272.0" y2="1741.5" stroke="#d7a5a1" stroke-width="1" />
<path d="M268.5 1794.5 C269.5 1793.8 269.5 1791.3 274.5 1790.5 C279.5 1789.7 291.1 1788.7 298.5 1789.5 C305.8 1790.3 312.8 1792.0 318.5 1795.5 C324.1 1799.0 329.1 1804.7 332.5 1810.5 C335.8 1816.3 337.8 1823.8 338.5 1830.5 C339.1 1837.2 338.1 1844.7 336.5 1850.5 C334.8 1856.3 331.8 1861.3 328.5 1865.5 C325.1 1869.7 320.5 1873.0 316.5 1875.5 C312.5 1878.0 308.5 1879.8 304.5 1880.5 C300.5 1881.2 296.1 1880.5 292.5 1879.5 C288.8 1878.5 285.5 1876.5 282.5 1874.5 C279.5 1872.5 276.8 1869.5 274.5 1867.5 C272.1 1865.5 270.5 1862.5 268.5 1862.5 C266.5 1862.5 264.8 1865.5 262.5 1867.5 C260.1 1869.5 257.5 1872.5 254.5 1874.5 C251.5 1876.5 248.1 1878.5 244.5 1879.5 C240.8 1880.5 236.5 1881.2 232.5 1880.5 C228.5 1879.8 224.5 1878.0 220.5 1875.5 C216.5 1873.0 211.8 1869.7 208.5 1865.5 C205.1 1861.3 202.1 1856.3 200.5 1850.5 C198.8 1844.7 197.8 1837.2 198.5 1830.5 C199.1 1823.8 201.1 1816.3 204.5 1810.5 C207.8 1804.7 212.8 1799.0 218.5 1795.5 C224.1 1792.0 231.1 1790.3 238.5 1789.5 C245.8 1788.7 257.5 1789.7 262.5 1790.5 C267.5 1791.3 267.5 1793.8 268.5 1794.5Z" fill="#e3bab5" stroke="#d9a8a4" stroke-width="1"/>
<path d="M216.5 1845.5 C213.5 1813.5 243.5 1811.5 268.5 1815.5 C293.5 1811.5 323.5 1813.5 320.5 1845.5" fill="none" stroke="#efd8d5" stroke-width="2.5"/>
<path d="M249.5 1816.5 L253.5 1818.5 L253.0 1843.5 L250.0 1841.5Z" fill="#f8eeee"/>
<ellipse cx="253.5" cy="1855.5" rx="5" ry="3" fill="#efd8d5" transform="rotate(35 253.5 1855.5)"/>
<path d="M287.5 1816.5 L283.5 1818.5 L284.0 1843.5 L287.0 1841.5Z" fill="#f8eeee"/>
<ellipse cx="283.5" cy="1855.5" rx="5" ry="3" fill="#efd8d5" transform="rotate(-35 283.5 1855.5)"/>
<ellipse cx="268.5" cy="1832.5" rx="11" ry="15" fill="#ecc8c8" opacity="0.8"/>
<line x1="268.5" y1="1793.5" x2="268.5" y2="1815.5" stroke="#d7a5a1" stroke-width="1" />
<line x1="268.5" y1="1837.5" x2="268.5" y2="1849.5" stroke="#d7a5a1" stroke-width="0.8" />
<path d="M267.6 1899.3 C271.8 1899.0 284.6 1896.3 292.6 1897.3 C300.6 1898.3 309.4 1901.5 315.6 1905.3 C321.8 1909.1 326.3 1914.5 329.6 1920.3 C332.9 1926.1 334.8 1933.6 335.6 1940.3 C336.4 1947.0 335.9 1954.5 334.6 1960.3 C333.3 1966.1 330.8 1971.1 327.6 1975.3 C324.4 1979.5 319.6 1983.0 315.6 1985.3 C311.6 1987.6 307.3 1988.3 303.6 1989.3 C299.9 1990.3 295.9 1991.8 293.6 1991.3 C291.3 1990.8 292.3 1986.8 289.6 1986.3 C286.9 1985.8 281.3 1988.0 277.6 1988.3 C273.9 1988.6 270.9 1988.3 267.6 1988.3 C264.3 1988.3 261.3 1988.6 257.6 1988.3 C253.9 1988.0 248.3 1985.8 245.6 1986.3 C242.9 1986.8 243.9 1990.8 241.6 1991.3 C239.3 1991.8 235.3 1990.3 231.6 1989.3 C227.9 1988.3 223.6 1987.6 219.6 1985.3 C215.6 1983.0 210.8 1979.5 207.6 1975.3 C204.4 1971.1 201.9 1966.1 200.6 1960.3 C199.3 1954.5 198.8 1947.0 199.6 1940.3 C200.4 1933.6 202.3 1926.1 205.6 1920.3 C208.9 1914.5 213.4 1909.1 219.6 1905.3 C225.8 1901.5 234.6 1898.3 242.6 1897.3 C250.6 1896.3 263.4 1899.0 267.6 1899.3Z" fill="#e3bab5" stroke="#d9a8a4" stroke-width="1"/>
<ellipse cx="267.6" cy="1951.3" rx="53" ry="33" fill="none" stroke="#efd8d5" stroke-width="2.5"/>
<ellipse cx="267.6" cy="1951.3" rx="51" ry="31" fill="#e6c2be"/>
<ellipse cx="250.6" cy="1928.3" rx="7" ry="4.5" fill="#f8eeee"/>
<path d="M243.6 1941.3 C240.6 1950.3 243.6 1957.3 245.6 1962.3" fill="none" stroke="#efd8d5" stroke-width="2.2" stroke-linecap="round"/>
<ellipse cx="284.6" cy="1928.3" rx="7" ry="4.5" fill="#f8eeee"/>
<path d="M291.6 1941.3 C294.6 1950.3 291.6 1957.3 289.6 1962.3" fill="none" stroke="#efd8d5" stroke-width="2.2" stroke-linecap="round"/>
<path d="M250.6 1932.3 L284.6 1932.3" stroke="#efd8d5" stroke-width="3" />
<path d="M255.6 1986.3 C261.6 1981.3 273.6 1981.3 279.6 1986.3" fill="none" stroke="#f8eeee" stroke-width="2.5"/>
<line x1="267.6" y1="1899.3" x2="267.6" y2="1927.3" stroke="#d7a5a1" stroke-width="0.8" />
<ellipse cx="245.6" cy="1717.8" rx="20.3" ry="18.7" fill="#f3dcda" transform="rotate(-15 245.6 1717.8)"/>
<ellipse cx="245.6" cy="1717.8" rx="17.8" ry="16.2" fill="#f0b3b3" stroke="#b4565c" stroke-width="1.3" stroke-dasharray="3.2 2" transform="rotate(-15 245.6 1717.8)"/>
<ellipse cx="296.6" cy="1717.8" rx="20.3" ry="18.7" fill="#f3dcda" transform="rotate(15 296.6 1717.8)"/>
<ellipse cx="296.6" cy="1717.8" rx="17.8" ry="16.2" fill="#f0b3b3" stroke="#b4565c" stroke-width="1.3" stroke-dasharray="3.2 2" transform="rotate(15 296.6 1717.8)"/>
<ellipse cx="233.3" cy="1838.1" rx="17.0" ry="26.5" fill="#f3dcda" transform="rotate(8 233.3 1838.1)"/>
<ellipse cx="233.3" cy="1838.1" rx="14.5" ry="24" fill="#f0b3b3" stroke="#b4565c" stroke-width="1.3" stroke-dasharray="3.2 2" transform="rotate(8 233.3 1838.1)"/>
<ellipse cx="302.7" cy="1838.1" rx="17.0" ry="26.5" fill="#f3dcda" transform="rotate(-8 302.7 1838.1)"/>
<ellipse cx="302.7" cy="1838.1" rx="14.5" ry="24" fill="#f0b3b3" stroke="#b4565c" stroke-width="1.3" stroke-dasharray="3.2 2" transform="rotate(-8 302.7 1838.1)"/>
<path d="M239.5 1922.8 C229.8 1926.0 220.2 1934.8 218.4 1945.3 C218.4 1952.3 222.8 1957.6 229.8 1958.5 C233.3 1952.3 235.1 1945.3 236.9 1940.0 C239.5 1934.8 243.9 1929.5 239.5 1922.8Z" fill="#f0b3b3" stroke="#b4565c" stroke-width="1.3" stroke-dasharray="3.2 2"/>
<path d="M295.7 1922.8 C305.4 1926.0 315.0 1934.8 316.8 1945.3 C316.8 1952.3 312.4 1957.6 305.4 1958.5 C301.9 1952.3 300.1 1945.3 298.4 1940.0 C295.7 1934.8 291.3 1929.5 295.7 1922.8Z" fill="#f0b3b3" stroke="#b4565c" stroke-width="1.3" stroke-dasharray="3.2 2"/>
<text x="247.4" y="1486.5" font-size="36" textLength="51.1" lengthAdjust="spacingAndGlyphs" >Str</text>
<use href="#astS1" x="621.5" y="1809.3"/>
<use href="#astS2" x="517.4" y="1855.9"/>
<g filter="url(#blur1)" transform="translate(42.0 1367.4)">
<path d="M456.3 368.2 L491 368.2 L510.7 375.5 L510.7 378.7 L491 387 L456.3 387Z" fill="#ececec"/>
<rect x="456.3" y="368.2" width="35" height="3.8" fill="#bcbcbc"/><rect x="456.3" y="383.2" width="35" height="3.8" fill="#bcbcbc"/>
<path d="M491 370 L510 376 M491 385 L510 378.5" stroke="#c4c4c4" stroke-width="2.2" stroke-dasharray="5 2"/>
<rect x="462" y="374" width="27" height="7.5" fill="#d2d6da"/>
<path d="M429.5 377.1 L486 377.1" stroke="#aaa" stroke-width="1.4"/>
<path d="M428.6 364.6 L407.1 376.3 L428.6 387.9Z" fill="#fff" stroke="#cdcdcd" stroke-width="1.8" stroke-linejoin="round"/>
</g>
<clipPath id="clipn42_1367"><rect x="444.8" y="1585.0" width="240" height="380.9"/></clipPath>
<g clip-path="url(#clipn42_1367)"><use href="#nblue" x="564.8" y="1745.0"/></g>
<rect x="558.8" y="1593.0" width="12" height="30" fill="url(#fadeT)"/>
<path d="M418.0 1796.4 C421.2 1796.1 428.8 1795.7 437.0 1794.4 C445.2 1793.1 457.0 1790.2 467.0 1788.7 C477.0 1787.2 487.8 1785.5 497.0 1785.4 C506.2 1785.3 515.5 1786.7 522.0 1787.9 C528.5 1789.2 532.2 1791.7 536.0 1792.9 C539.8 1794.1 543.5 1794.6 545.0 1794.9" fill="none" stroke="#686868" stroke-width="7.6" stroke-linecap="round"/>
<path d="M539.2 1788.6 C543.3 1782.9 548.5 1781.4 554.1 1782.9 C560.3 1786.0 560.8 1794.3 558.3 1799.9 C555.7 1803.5 547.4 1803.5 543.3 1799.4 C540.2 1796.8 538.7 1794.3 539.2 1788.6Z" fill="#686868"/>
<rect x="414.0" y="1788.8" width="26.0" height="15.2" fill="url(#fadeL)"/>
<circle cx="559.1" cy="1786.7" r="25.2" fill="none" stroke="#e8151b" stroke-width="2.7" />
<line x1="487.9" y1="1808.8" x2="463.8" y2="1842.2" stroke="#6a6a6a" stroke-width="1.9" />
<g filter="url(#blur1)">
<line x1="463.8" y1="1842.2" x2="453.5" y2="1856.1" stroke="#8c8c8c" stroke-width="4.0" />
<line x1="453.5" y1="1856.1" x2="449.8" y2="1861.2" stroke="#7a7a7a" stroke-width="5.6" />
<line x1="449.8" y1="1861.2" x2="433.7" y2="1883.0" stroke="#e0e0e0" stroke-width="7.4" />
<line x1="433.7" y1="1883.0" x2="431.6" y2="1885.9" stroke="#5a5a5a" stroke-width="8.4" />
<line x1="431.6" y1="1885.9" x2="422.6" y2="1898.2" stroke="#e6e6e6" stroke-width="6.6" />
<line x1="422.6" y1="1898.2" x2="418.6" y2="1903.6" stroke="#858585" stroke-width="4.8" />
<line x1="418.6" y1="1903.6" x2="417.2" y2="1905.5" stroke="#555" stroke-width="3.4" />
<line x1="452.8" y1="1863.4" x2="436.7" y2="1885.2" stroke="#a4a4a4" stroke-width="0.9" />
<line x1="446.8" y1="1859.0" x2="430.8" y2="1880.8" stroke="#a4a4a4" stroke-width="0.9" />
<line x1="434.3" y1="1887.8" x2="425.2" y2="1900.2" stroke="#a4a4a4" stroke-width="0.9" />
<line x1="429.0" y1="1883.9" x2="419.9" y2="1896.3" stroke="#a4a4a4" stroke-width="0.9" />
</g>
<path d="M417.2 1905.5 C416.1 1907.0 412.6 1911.3 410.5 1914.2 C408.4 1917.1 406.3 1919.5 404.9 1922.9 C403.5 1926.3 402.5 1931.0 402.3 1934.4 C402.1 1937.8 403.1 1940.5 403.8 1943.4 C404.5 1946.3 406.2 1949.2 406.7 1951.9 C407.2 1954.6 406.9 1957.0 406.6 1959.4 C406.4 1961.8 405.8 1964.1 405.2 1966.4 C404.6 1968.7 403.5 1972.2 403.1 1973.4" fill="none" stroke="#262626" stroke-width="2.2" stroke-linecap="round"/>
<rect x="391.1" y="1956.4" width="24" height="20.0" fill="url(#fadeB)"/>
<text x="410.8" y="1662.1" font-size="42" textLength="63.7" lengthAdjust="spacingAndGlyphs" >ND</text>
<path d="M403.6 1698.7 L425.0 1698.7 L425.0 1672.8 L448.8 1672.8 L448.8 1698.7 L470.6 1698.7" fill="none" stroke="#e8151b" stroke-width="1.6" />
<text x="454.2" y="1695.0" font-size="24" textLength="34.9" lengthAdjust="spacingAndGlyphs" >5 s</text>
<text x="395.4" y="1766.0" font-size="28.5" textLength="59.4" lengthAdjust="spacingAndGlyphs" >Rec.</text>
<text x="420.5" y="1961.0" font-size="31" textLength="73.3" lengthAdjust="spacingAndGlyphs" >Stim.</text>
<path d="M334.4 2477.4 L332.5 2474.2 L329.9 2469.6 L327.0 2464.3 L324.2 2458.9 L321.9 2453.9 L320.2 2449.1 L318.7 2444.2 L317.5 2439.2 L316.4 2434.6 L315.4 2430.3 L314.6 2426.4 L314.0 2422.7 L313.5 2419.3 L313.2 2416.5 L312.8 2414.5 L311.3 2414.6 L311.3 2416.7 L311.5 2419.5 L311.7 2423.0 L312.1 2426.8 L312.7 2430.8 L313.4 2435.2 L314.3 2440.0 L315.3 2445.0 L316.6 2450.2 L318.2 2455.3 L320.3 2460.7 L323.0 2466.4 L325.8 2471.8 L328.1 2476.5 L329.8 2479.8Z M317.4 2439.7 L316.4 2439.2 L315.1 2438.4 L313.5 2437.5 L311.9 2436.6 L310.4 2435.8 L308.8 2435.3 L307.2 2434.8 L305.6 2434.5 L304.3 2434.2 L303.4 2434.0 L303.1 2435.2 L304.0 2435.4 L305.3 2435.8 L306.8 2436.2 L308.3 2436.7 L309.7 2437.3 L311.1 2438.0 L312.6 2439.0 L314.1 2439.9 L315.4 2440.8 L316.3 2441.4Z M320.9 2456.0 L319.8 2454.5 L318.3 2452.2 L316.5 2449.7 L314.5 2447.4 L312.4 2445.9 L310.0 2445.5 L307.5 2445.9 L305.2 2446.7 L303.2 2447.5 L301.8 2448.0 L302.2 2449.2 L303.7 2448.7 L305.6 2448.0 L307.9 2447.3 L310.0 2447.0 L311.7 2447.3 L313.3 2448.6 L315.1 2450.7 L316.8 2453.2 L318.2 2455.6 L319.2 2457.2Z M338.3 2476.0 L339.9 2473.1 L342.3 2469.1 L345.0 2464.4 L347.7 2459.7 L349.9 2455.5 L351.4 2451.7 L352.5 2448.2 L353.4 2444.9 L354.3 2441.9 L355.3 2439.2 L356.7 2436.8 L358.4 2434.4 L360.1 2432.3 L361.6 2430.5 L362.7 2429.1 L361.5 2428.0 L360.3 2429.2 L358.6 2430.9 L356.6 2432.9 L354.6 2435.3 L352.8 2437.9 L351.4 2440.8 L350.3 2443.9 L349.1 2447.1 L347.9 2450.3 L346.3 2453.7 L344.0 2457.6 L341.2 2462.1 L338.3 2466.6 L335.7 2470.5 L333.9 2473.2Z M349.3 2455.5 L350.5 2454.9 L352.3 2454.2 L354.4 2453.2 L356.5 2452.3 L358.4 2451.3 L360.3 2450.3 L362.1 2449.1 L363.9 2448.0 L365.4 2447.0 L366.4 2446.3 L365.8 2445.3 L364.7 2445.9 L363.2 2446.8 L361.4 2447.9 L359.5 2448.9 L357.7 2449.9 L355.8 2450.7 L353.7 2451.6 L351.6 2452.5 L349.8 2453.2 L348.5 2453.7Z M354.8 2439.1 L354.5 2437.9 L353.9 2436.3 L353.3 2434.3 L352.8 2432.4 L352.8 2430.6 L353.2 2428.9 L354.0 2426.9 L355.0 2425.0 L356.0 2423.3 L356.6 2422.0 L355.6 2421.5 L354.9 2422.7 L353.9 2424.3 L352.8 2426.3 L351.9 2428.4 L351.4 2430.5 L351.4 2432.6 L351.8 2434.7 L352.4 2436.7 L353.0 2438.4 L353.3 2439.6Z M323.6 2478.2 L320.8 2478.9 L316.7 2479.8 L312.0 2480.8 L307.4 2481.8 L303.6 2482.8 L300.5 2483.9 L297.9 2485.1 L295.7 2486.2 L293.9 2487.0 L292.1 2487.3 L290.2 2486.9 L287.9 2486.0 L285.8 2484.7 L283.9 2483.5 L282.5 2482.7 L281.6 2484.1 L282.8 2485.0 L284.6 2486.4 L286.9 2487.9 L289.3 2489.2 L291.9 2489.9 L294.5 2489.8 L296.9 2489.1 L299.2 2488.2 L301.7 2487.2 L304.5 2486.4 L308.3 2485.7 L312.8 2484.9 L317.5 2484.1 L321.6 2483.4 L324.5 2483.0Z M299.2 2485.3 L298.4 2486.5 L297.3 2488.3 L295.9 2490.3 L294.6 2492.3 L293.4 2494.2 L292.2 2495.8 L291.1 2497.5 L289.9 2499.1 L289.0 2500.5 L288.3 2501.5 L289.3 2502.2 L290.0 2501.2 L291.0 2499.9 L292.2 2498.4 L293.5 2496.7 L294.7 2495.1 L296.0 2493.3 L297.4 2491.3 L298.8 2489.3 L300.0 2487.6 L300.9 2486.4Z M341.7 2481.0 L344.7 2481.4 L349.0 2482.0 L354.0 2482.7 L359.2 2483.4 L363.8 2484.0 L368.0 2484.4 L372.0 2484.8 L376.0 2485.2 L380.0 2485.4 L384.1 2485.4 L388.5 2485.2 L393.2 2484.8 L397.7 2484.4 L401.6 2483.9 L404.3 2483.6 L403.9 2480.0 L401.2 2480.2 L397.4 2480.6 L392.9 2481.0 L388.3 2481.3 L384.1 2481.4 L380.2 2481.3 L376.4 2481.0 L372.4 2480.6 L368.5 2480.1 L364.4 2479.6 L359.8 2479.0 L354.7 2478.2 L349.7 2477.4 L345.5 2476.7 L342.4 2476.2Z M356.9 2480.6 L358.5 2479.5 L360.7 2477.8 L363.2 2476.1 L365.9 2474.6 L368.3 2473.8 L370.7 2473.7 L373.4 2474.2 L376.3 2475.0 L379.3 2475.6 L382.2 2475.6 L385.2 2474.7 L388.1 2473.3 L390.7 2471.7 L393.0 2470.3 L394.5 2469.3 L393.7 2467.9 L392.1 2468.8 L389.8 2470.2 L387.2 2471.7 L384.5 2472.9 L382.0 2473.6 L379.5 2473.5 L376.8 2472.9 L373.9 2472.1 L370.9 2471.4 L367.9 2471.4 L364.9 2472.4 L361.9 2473.9 L359.2 2475.7 L356.9 2477.2 L355.3 2478.2Z M365.4 2484.4 L367.1 2485.5 L369.5 2487.2 L372.3 2489.1 L375.2 2490.7 L378.0 2491.5 L380.6 2491.3 L383.0 2490.3 L385.3 2489.1 L387.1 2487.9 L388.4 2487.1 L387.8 2486.1 L386.4 2486.8 L384.6 2487.8 L382.4 2488.9 L380.2 2489.6 L378.2 2489.7 L376.0 2488.9 L373.4 2487.3 L370.8 2485.4 L368.4 2483.6 L366.8 2482.4Z M326.5 2487.5 L325.5 2490.1 L324.0 2493.6 L322.2 2497.7 L320.3 2501.9 L318.3 2505.6 L316.2 2508.9 L313.8 2512.3 L311.3 2515.7 L308.9 2518.9 L306.9 2521.9 L305.3 2524.7 L303.9 2527.5 L302.8 2529.9 L301.9 2532.0 L301.3 2533.5 L302.8 2534.2 L303.6 2532.8 L304.7 2530.9 L305.9 2528.5 L307.5 2526.0 L309.2 2523.4 L311.3 2520.7 L313.9 2517.7 L316.6 2514.5 L319.3 2511.1 L321.8 2507.7 L324.0 2503.9 L326.2 2499.7 L328.3 2495.6 L330.0 2492.1 L331.2 2489.7Z M318.9 2507.0 L319.6 2508.7 L320.6 2511.0 L321.6 2513.7 L322.6 2516.4 L323.2 2518.8 L323.4 2520.9 L323.3 2523.2 L323.0 2525.4 L322.8 2527.2 L322.7 2528.6 L323.9 2528.7 L324.1 2527.4 L324.5 2525.6 L324.8 2523.3 L325.0 2520.9 L324.9 2518.5 L324.4 2515.9 L323.6 2513.1 L322.6 2510.3 L321.7 2507.9 L321.2 2506.2Z M312.0 2516.8 L310.6 2516.9 L308.7 2516.9 L306.3 2517.0 L303.9 2517.3 L301.8 2517.9 L299.8 2519.0 L297.9 2520.4 L296.1 2521.9 L294.7 2523.3 L293.6 2524.2 L294.4 2525.1 L295.5 2524.2 L297.0 2522.9 L298.8 2521.5 L300.6 2520.2 L302.3 2519.4 L304.2 2519.0 L306.4 2518.8 L308.7 2518.8 L310.7 2518.8 L312.1 2518.8Z M334.5 2491.0 L335.0 2493.8 L335.8 2497.8 L336.5 2502.4 L337.1 2506.8 L337.4 2510.6 L337.2 2513.7 L336.8 2516.5 L336.1 2519.2 L335.4 2521.8 L334.8 2524.3 L334.2 2526.6 L333.6 2528.7 L333.0 2530.7 L332.4 2532.4 L332.1 2533.6 L333.6 2534.1 L334.1 2533.0 L334.9 2531.4 L335.7 2529.5 L336.5 2527.3 L337.3 2525.0 L338.2 2522.7 L339.1 2520.1 L340.0 2517.3 L340.7 2514.1 L341.1 2510.7 L341.1 2506.5 L340.7 2501.8 L340.1 2497.1 L339.6 2493.1 L339.2 2490.3Z M338.1 2513.3 L339.4 2514.7 L341.2 2516.6 L343.2 2518.9 L345.2 2521.1 L346.6 2523.1 L347.5 2524.8 L348.2 2526.6 L348.8 2528.3 L349.2 2529.8 L349.5 2530.8 L350.7 2530.5 L350.4 2529.4 L350.1 2527.9 L349.6 2526.1 L348.9 2524.2 L348.0 2522.2 L346.5 2520.1 L344.6 2517.7 L342.6 2515.4 L340.8 2513.4 L339.6 2512.0Z M414.3 2471.2 L412.5 2468.7 L410.1 2465.1 L407.2 2461.0 L404.3 2456.9 L401.7 2453.4 L399.4 2450.6 L397.2 2448.0 L395.1 2445.7 L393.1 2443.6 L391.1 2441.6 L389.2 2439.7 L387.2 2437.9 L385.4 2436.3 L383.8 2434.9 L382.7 2434.0 L381.5 2435.1 L382.5 2436.3 L383.9 2437.8 L385.6 2439.5 L387.3 2441.5 L389.1 2443.5 L390.8 2445.6 L392.6 2447.9 L394.5 2450.3 L396.5 2452.9 L398.5 2455.8 L400.8 2459.3 L403.5 2463.5 L406.1 2467.7 L408.4 2471.4 L409.9 2474.0Z M401.1 2454.9 L401.5 2453.5 L402.1 2451.5 L402.8 2449.2 L403.5 2446.9 L404.1 2444.8 L404.5 2442.9 L404.9 2441.0 L405.1 2439.2 L405.4 2437.7 L405.5 2436.7 L404.3 2436.5 L404.1 2437.5 L403.8 2439.0 L403.4 2440.7 L403.0 2442.6 L402.5 2444.4 L401.9 2446.4 L401.2 2448.6 L400.4 2450.9 L399.7 2452.9 L399.2 2454.3Z M392.9 2444.8 L391.7 2444.8 L389.9 2444.9 L387.8 2445.0 L385.7 2445.3 L383.8 2445.9 L382.2 2447.0 L380.7 2448.4 L379.4 2449.9 L378.4 2451.3 L377.6 2452.2 L378.6 2453.0 L379.4 2452.1 L380.5 2450.8 L381.7 2449.4 L383.1 2448.1 L384.4 2447.3 L386.0 2446.9 L387.9 2446.7 L389.9 2446.7 L391.7 2446.8 L392.9 2446.8Z M424.3 2474.1 L425.9 2471.5 L428.3 2468.0 L431.1 2463.8 L433.7 2459.5 L435.9 2455.5 L437.6 2451.9 L439.0 2448.4 L440.2 2444.9 L441.0 2441.7 L441.5 2438.8 L441.5 2436.1 L441.0 2433.8 L440.2 2431.9 L439.4 2430.5 L438.9 2429.5 L437.4 2430.0 L437.7 2431.2 L438.2 2432.7 L438.7 2434.4 L439.0 2436.3 L438.8 2438.4 L438.1 2440.9 L437.1 2443.8 L435.7 2447.0 L434.2 2450.3 L432.4 2453.6 L430.1 2457.2 L427.3 2461.3 L424.4 2465.2 L421.8 2468.7 L420.0 2471.1Z M435.7 2453.5 L437.0 2453.0 L438.8 2452.2 L440.8 2451.3 L442.9 2450.3 L444.6 2449.2 L446.0 2447.9 L447.2 2446.5 L448.1 2445.0 L448.9 2443.8 L449.4 2442.9 L448.5 2442.2 L447.8 2443.1 L447.0 2444.3 L446.0 2445.6 L444.9 2446.9 L443.7 2447.9 L442.1 2448.8 L440.1 2449.7 L438.1 2450.5 L436.3 2451.2 L435.0 2451.7Z M427.4 2473.9 L430.0 2471.3 L433.6 2467.6 L437.8 2463.4 L441.9 2459.2 L445.3 2455.7 L447.9 2452.8 L450.0 2450.2 L451.8 2447.8 L453.5 2445.6 L455.2 2443.5 L457.0 2441.4 L458.9 2439.3 L460.6 2437.4 L462.0 2435.8 L463.0 2434.6 L461.3 2433.0 L460.2 2434.1 L458.7 2435.6 L456.9 2437.5 L455.0 2439.6 L453.1 2441.7 L451.3 2443.8 L449.5 2445.9 L447.6 2448.2 L445.5 2450.7 L443.0 2453.5 L439.6 2456.9 L435.5 2461.0 L431.2 2465.2 L427.5 2468.8 L424.9 2471.3Z M425.8 2486.4 L428.2 2488.4 L431.7 2491.2 L435.6 2494.4 L439.6 2497.5 L443.0 2500.1 L445.8 2502.1 L448.3 2504.0 L450.7 2505.6 L453.1 2506.9 L455.8 2507.9 L458.8 2508.4 L461.9 2508.3 L464.8 2508.0 L467.3 2507.7 L469.0 2507.4 L468.9 2505.8 L467.1 2505.9 L464.6 2506.0 L461.8 2506.1 L459.0 2505.9 L456.5 2505.4 L454.4 2504.4 L452.4 2503.0 L450.3 2501.3 L447.9 2499.4 L445.3 2497.2 L442.1 2494.4 L438.3 2491.2 L434.5 2487.8 L431.2 2484.9 L428.9 2482.8Z M450.2 2503.9 L450.9 2505.4 L451.8 2507.5 L452.8 2510.0 L453.7 2512.5 L454.5 2514.9 L455.0 2517.2 L455.5 2519.8 L455.8 2522.3 L456.1 2524.4 L456.4 2525.9 L457.6 2525.8 L457.4 2524.2 L457.3 2522.1 L457.0 2519.6 L456.7 2516.9 L456.2 2514.4 L455.6 2511.9 L454.7 2509.3 L453.8 2506.7 L453.0 2504.5 L452.5 2503.0Z M440.8 2496.6 L441.8 2495.8 L443.2 2494.6 L444.9 2493.2 L446.7 2492.1 L448.3 2491.4 L450.2 2491.2 L452.4 2491.3 L454.7 2491.5 L456.7 2491.8 L458.1 2492.0 L458.3 2490.8 L456.9 2490.6 L454.9 2490.2 L452.6 2489.8 L450.2 2489.6 L448.0 2489.8 L445.9 2490.6 L443.9 2491.8 L442.1 2493.1 L440.6 2494.3 L439.5 2495.0Z M407.8 2489.5 L406.5 2492.4 L404.8 2496.5 L402.7 2501.1 L400.5 2505.7 L398.4 2509.5 L396.3 2512.8 L393.8 2515.9 L391.4 2518.7 L389.0 2521.4 L387.1 2523.7 L385.5 2525.7 L384.1 2527.4 L383.0 2528.9 L382.1 2530.0 L381.5 2530.9 L382.7 2532.0 L383.5 2531.3 L384.6 2530.3 L385.9 2529.0 L387.4 2527.4 L389.2 2525.6 L391.3 2523.4 L393.8 2521.0 L396.5 2518.2 L399.2 2515.1 L401.8 2511.7 L404.3 2507.7 L406.8 2503.1 L409.1 2498.5 L411.0 2494.5 L412.5 2491.7Z M399.0 2511.0 L399.6 2512.7 L400.6 2515.1 L401.6 2517.8 L402.5 2520.5 L403.2 2522.8 L403.7 2524.9 L403.9 2526.9 L404.1 2528.7 L404.2 2530.3 L404.3 2531.5 L405.5 2531.4 L405.5 2530.3 L405.5 2528.7 L405.5 2526.8 L405.3 2524.6 L405.0 2522.4 L404.4 2520.0 L403.5 2517.2 L402.6 2514.4 L401.8 2511.9 L401.2 2510.2Z M393.2 2518.5 L391.9 2518.2 L390.1 2517.8 L388.0 2517.3 L385.9 2517.0 L384.0 2517.0 L382.3 2517.7 L380.8 2518.6 L379.5 2519.7 L378.5 2520.7 L377.7 2521.4 L378.5 2522.3 L379.3 2521.7 L380.4 2520.8 L381.6 2519.8 L383.0 2519.0 L384.2 2518.6 L385.8 2518.7 L387.7 2519.0 L389.7 2519.5 L391.4 2520.1 L392.7 2520.4Z M416.3 2492.5 L416.3 2495.5 L416.1 2499.8 L415.9 2504.8 L415.7 2509.9 L415.4 2514.5 L415.1 2518.8 L414.7 2523.3 L414.3 2527.5 L413.9 2531.2 L413.7 2533.7 L415.3 2534.0 L415.8 2531.4 L416.4 2527.8 L417.1 2523.6 L417.8 2519.1 L418.4 2514.8 L419.0 2510.2 L419.5 2505.1 L420.0 2500.1 L420.4 2495.8 L420.7 2492.8Z M416.1 2515.2 L417.2 2516.6 L418.8 2518.6 L420.6 2520.8 L422.2 2523.1 L423.4 2525.0 L424.2 2526.7 L424.7 2528.5 L425.1 2530.2 L425.3 2531.7 L425.5 2532.8 L426.7 2532.5 L426.6 2531.5 L426.4 2530.0 L426.1 2528.2 L425.6 2526.3 L424.8 2524.3 L423.6 2522.1 L422.0 2519.8 L420.3 2517.5 L418.8 2515.4 L417.7 2514.0Z" fill="#5ac653" stroke="#5ac653" stroke-width="0.5" stroke-linejoin="round"/>
<polygon points="345.7,2483.2 334.6,2491.9 321.0,2487.3 318.4,2474.0 329.5,2465.3 343.2,2469.9" fill="#5ac653" stroke="#5ac653" stroke-width="3" stroke-linejoin="round"/>
<ellipse cx="332.1" cy="2478.6" rx="6" ry="5" fill="#3aa83a"/>
<polygon points="429.8,2485.2 418.6,2493.9 405.0,2489.3 402.5,2476.0 413.6,2467.3 427.2,2471.9" fill="#5ac653" stroke="#5ac653" stroke-width="3" stroke-linejoin="round"/>
<ellipse cx="416.1" cy="2480.6" rx="6" ry="5" fill="#3aa83a"/>
<use href="#astS1" transform="translate(507.2 2483.0) scale(1.0)"/>
<use href="#astS2" transform="translate(382.8 2612.7) scale(1.3)"/>
<use href="#astS1" transform="translate(255.7 2544.2) scale(1.05)"/>
<g filter="url(#blur1)" transform="translate(3.8 1394.3)">
<path d="M193.9 1017.1 L243.4 1017.1 L259.2 1026 L259.2 1029.2 L243.4 1039.2 L193.9 1039.2Z" fill="#ededf0"/>
<rect x="193.9" y="1017.1" width="49.5" height="4.2" fill="#c0c0c4"/><rect x="193.9" y="1035" width="49.5" height="4.2" fill="#c0c0c4"/>
<path d="M243.4 1019 L258 1026.5 M243.4 1037.3 L258 1029" stroke="#c4c4c8" stroke-width="2.2" stroke-dasharray="5 2"/>
<rect x="205" y="1022.5" width="34" height="11" fill="#d6d6de"/>
<path d="M163.3 1027.6 L228 1027.6" stroke="#b4b4b4" stroke-width="1.4"/>
<path d="M163.3 1012.9 L137 1026.6 L163.3 1039.2" fill="none" stroke="#d0d0d0" stroke-width="1.8"/>
<path d="M483.4 1026.5 L510 1014.5 L549.8 1014.5 L549.8 1038 L510 1038Z" fill="#e4e4e6"/>
<path d="M486 1025 L510 1014.8 M486 1028 L510 1037.6" stroke="#c6c6c6" stroke-width="2" stroke-dasharray="5 2"/>
<rect x="510" y="1013.9" width="39.8" height="3.6" fill="#c4c4c6"/><rect x="510" y="1034.6" width="39.8" height="3.6" fill="#c4c4c6"/>
<rect x="541" y="1018" width="9" height="16" fill="#f2f2f2"/>
<rect x="516" y="1024.3" width="5" height="2.4" fill="#8a2a3a"/>
<path d="M580.4 1011.8 L606.7 1024.4 L580.4 1038.1Z" fill="#fff" stroke="#d4d4d4" stroke-width="1.6" stroke-linejoin="round" stroke-dasharray="6 1"/>
</g>
<clipPath id="clipd3_1394"><rect x="127.8" y="2231.9" width="500" height="452.4"/></clipPath>
<g clip-path="url(#clipd3_1394)"><use href="#nblue" transform="translate(277.8 2421.9) scale(1.19)"/><use href="#npurp" transform="translate(471.4 2420.9) scale(1.19)"/></g>
<rect x="271.8" y="2241.9" width="12" height="34" fill="url(#fadeT)"/>
<rect x="465.4" y="2240.9" width="12" height="34" fill="url(#fadeT)"/>
<path d="M103.8 2480.8 C109.4 2480.7 126.7 2481.5 137.6 2480.3 C148.5 2479.1 158.7 2475.5 169.2 2473.8 C179.7 2472.1 191.0 2470.3 200.8 2470.1 C210.7 2469.9 220.9 2471.5 228.3 2472.8 C235.7 2474.1 241.4 2476.7 245.1 2477.8 C248.9 2478.9 249.9 2479.1 250.8 2479.3" fill="none" stroke="#686868" stroke-width="9.2" stroke-linecap="round"/>
<path d="M246.5 2474.6 C250.8 2468.2 256.2 2466.5 262.2 2468.2 C268.6 2471.7 269.2 2480.9 266.5 2487.2 C263.8 2491.2 255.1 2491.2 250.8 2486.7 C247.6 2483.8 246.0 2480.9 246.5 2474.6Z" fill="#686868"/>
<rect x="99.8" y="2471.6" width="31.2" height="18.4" fill="url(#fadeL)"/>
<circle cx="269.2" cy="2476.1" r="25.6" fill="none" stroke="#e8151b" stroke-width="2.8" />
<line x1="186.4" y1="2499.4" x2="158.6" y2="2537.7" stroke="#6a6a6a" stroke-width="2.242" />
<g filter="url(#blur1)">
<line x1="158.6" y1="2537.7" x2="146.2" y2="2554.6" stroke="#8c8c8c" stroke-width="4.72" />
<line x1="146.2" y1="2554.6" x2="141.7" y2="2560.7" stroke="#7a7a7a" stroke-width="6.608" />
<line x1="141.7" y1="2560.7" x2="122.2" y2="2587.2" stroke="#e0e0e0" stroke-width="8.732" />
<line x1="122.2" y1="2587.2" x2="119.6" y2="2590.7" stroke="#5a5a5a" stroke-width="9.911999999999999" />
<line x1="119.6" y1="2590.7" x2="108.6" y2="2605.7" stroke="#e6e6e6" stroke-width="7.787999999999999" />
<line x1="108.6" y1="2605.7" x2="103.8" y2="2612.2" stroke="#858585" stroke-width="5.664" />
<line x1="103.8" y1="2612.2" x2="102.1" y2="2614.5" stroke="#555" stroke-width="4.012" />
<line x1="145.2" y1="2563.3" x2="125.7" y2="2589.8" stroke="#a4a4a4" stroke-width="0.9" />
<line x1="138.1" y1="2558.2" x2="118.6" y2="2584.6" stroke="#a4a4a4" stroke-width="0.9" />
<line x1="122.8" y1="2593.0" x2="111.7" y2="2608.0" stroke="#a4a4a4" stroke-width="0.9" />
<line x1="116.5" y1="2588.4" x2="105.5" y2="2603.4" stroke="#a4a4a4" stroke-width="0.9" />
</g>
<path d="M102.1 2614.5 C101.0 2615.9 97.3 2620.1 95.3 2622.8 C93.3 2625.5 91.7 2627.8 90.0 2630.7 C88.3 2633.6 86.1 2637.3 85.1 2640.3 C84.1 2643.3 83.7 2645.8 83.9 2648.8 C84.1 2651.8 85.4 2655.1 86.3 2658.3 C87.2 2661.5 88.5 2665.2 89.0 2668.0 C89.5 2670.8 89.4 2672.9 89.4 2675.3 C89.4 2677.7 89.1 2680.1 88.8 2682.3 C88.5 2684.6 88.0 2686.6 87.3 2688.8 C86.6 2691.0 85.3 2694.2 84.9 2695.3" fill="none" stroke="#262626" stroke-width="2.6" stroke-linecap="round"/>
<rect x="72.9" y="2675.2" width="24" height="23.6" fill="url(#fadeB)"/>
<text x="528.5" y="2354.6" font-size="42" textLength="62.6" lengthAdjust="spacingAndGlyphs" >ND</text>
<path d="M522.0 2391.3 L543.1 2391.3 L543.1 2366.0 L566.2 2366.0 L566.2 2391.3 L587.3 2391.3" fill="none" stroke="#e8151b" stroke-width="1.6" />
<text x="571.9" y="2387.8" font-size="24" textLength="35.3" lengthAdjust="spacingAndGlyphs" >5 s</text>
<text x="104.5" y="2449.3" font-size="30" textLength="59.9" lengthAdjust="spacingAndGlyphs" >Rec.</text>
<text x="107.1" y="2682.2" font-size="31" textLength="74.8" lengthAdjust="spacingAndGlyphs" >Stim.</text>
<clipPath id="ndclip"><rect x="900" y="2255" width="70.8" height="50"/></clipPath>
<line x1="805.3" y1="336.8" x2="1240.5" y2="336.8" stroke="#000" stroke-width="2.2" stroke-dasharray="36 14"/>
<line x1="805.3" y1="239.2" x2="805.3" y2="480.8" stroke="#000" stroke-width="4" />
<line x1="805.3" y1="478.8" x2="1242.5" y2="478.8" stroke="#000" stroke-width="4" />
<line x1="790.8" y1="241.2" x2="805.3" y2="241.2" stroke="#000" stroke-width="4" />
<text x="766.3" y="254.2" font-size="43" text-anchor="end" >120</text>
<line x1="790.8" y1="336.8" x2="805.3" y2="336.8" stroke="#000" stroke-width="4" />
<text x="766.3" y="349.8" font-size="43" text-anchor="end" >100</text>
<line x1="790.8" y1="432.0" x2="805.3" y2="432.0" stroke="#000" stroke-width="4" />
<text x="766.3" y="445.0" font-size="43" text-anchor="end" >80</text>
<line x1="804.6" y1="478.8" x2="804.6" y2="490.8" stroke="#000" stroke-width="4" />
<text x="803.1" y="549.5" font-size="43" text-anchor="middle" >-100</text>
<line x1="913.6" y1="478.8" x2="913.6" y2="490.8" stroke="#000" stroke-width="4" />
<text x="918.6" y="549.5" font-size="43" text-anchor="middle" >0</text>
<line x1="1022.6" y1="478.8" x2="1022.6" y2="490.8" stroke="#000" stroke-width="4" />
<text x="1027.6" y="549.5" font-size="43" text-anchor="middle" >100</text>
<line x1="1131.5" y1="478.8" x2="1131.5" y2="490.8" stroke="#000" stroke-width="4" />
<text x="1136.5" y="549.5" font-size="43" text-anchor="middle" >200</text>
<line x1="1240.5" y1="478.8" x2="1240.5" y2="490.8" stroke="#000" stroke-width="4" />
<text x="1245.5" y="549.5" font-size="43" text-anchor="middle" >300</text>
<text x="1089.7" y="620.5" font-size="50" textLength="186.1" lengthAdjust="spacingAndGlyphs" >Time (s)</text>
<text transform="translate(673.5 649.4) rotate(-90)" font-size="53.5" textLength="484.9" lengthAdjust="spacingAndGlyphs" >Synaptic efficacy (%)</text>
<text x="877.9" y="255.8" font-size="43" textLength="63.4" lengthAdjust="spacingAndGlyphs" >ND</text>
<path d="M903.3 271.5 L922.3 271.5 L922.3 289.8 L930.0 289.8 L913.0 309.6 L895.6 289.8 L903.3 289.8 Z" fill="#b5f7bd" stroke="#b5f7bd" stroke-width="5.5" stroke-linejoin="round" opacity="0.4"/>
<path d="M903.3 271.5 L922.3 271.5 L922.3 289.8 L930.0 289.8 L913.0 309.6 L895.6 289.8 L903.3 289.8 Z" fill="#12a54c" stroke="#86ec96" stroke-width="3" stroke-linejoin="miter"/>
<line x1="946.3" y1="392.4" x2="946.3" y2="417.2" stroke="#000" stroke-width="2.5" />
<line x1="979.0" y1="398.1" x2="979.0" y2="428.1" stroke="#000" stroke-width="2.5" />
<line x1="1011.7" y1="398.6" x2="1011.7" y2="425.6" stroke="#000" stroke-width="2.5" />
<line x1="1044.4" y1="378.5" x2="1044.4" y2="410.5" stroke="#000" stroke-width="2.5" />
<line x1="1077.0" y1="331.0" x2="1077.0" y2="371.0" stroke="#000" stroke-width="2.5" />
<line x1="1109.7" y1="341.8" x2="1109.7" y2="378.8" stroke="#000" stroke-width="2.5" />
<line x1="1142.4" y1="338.0" x2="1142.4" y2="364.0" stroke="#000" stroke-width="2.5" />
<line x1="1175.1" y1="366.6" x2="1175.1" y2="390.6" stroke="#000" stroke-width="2.5" />
<line x1="1207.8" y1="348.2" x2="1207.8" y2="377.4" stroke="#000" stroke-width="2.5" />
<line x1="1240.5" y1="341.9" x2="1240.5" y2="367.1" stroke="#000" stroke-width="2.5" />
<circle cx="815.5" cy="330.3" r="11.9" fill="#000" stroke="none" stroke-width="1" />
<circle cx="848.2" cy="324.1" r="11.9" fill="#000" stroke="none" stroke-width="1" />
<circle cx="880.9" cy="342.8" r="11.9" fill="#000" stroke="none" stroke-width="1" />
<circle cx="946.3" cy="404.8" r="11.9" fill="#000" stroke="none" stroke-width="1" />
<circle cx="979.0" cy="413.1" r="11.9" fill="#000" stroke="none" stroke-width="1" />
<circle cx="1011.7" cy="412.1" r="11.9" fill="#000" stroke="none" stroke-width="1" />
<circle cx="1044.4" cy="394.5" r="11.9" fill="#000" stroke="none" stroke-width="1" />
<circle cx="1077.0" cy="351.0" r="11.9" fill="#000" stroke="none" stroke-width="1" />
<circle cx="1109.7" cy="360.3" r="11.9" fill="#000" stroke="none" stroke-width="1" />
<circle cx="1142.4" cy="351.0" r="11.9" fill="#000" stroke="none" stroke-width="1" />
<circle cx="1175.1" cy="378.6" r="11.9" fill="#000" stroke="none" stroke-width="1" />
<circle cx="1207.8" cy="362.8" r="11.9" fill="#000" stroke="none" stroke-width="1" />
<circle cx="1240.5" cy="354.5" r="11.9" fill="#000" stroke="none" stroke-width="1" />
<path d="M780.0 115.4 L781.5 116.1 L783.0 115.9 L784.5 115.2 L786.0 115.4 L787.5 115.2 L789.0 115.3 L790.5 115.4 L792.0 114.5 L793.5 114.3 L794.6 114.8 L796.4 96.0 L797.6 93.0 L799.1 97.0 L800.4 114.4 L801.6 129.1 L802.9 143.5 L804.1 156.8 L805.4 170.3 L806.6 183.6 L807.9 196.2 L809.1 209.0 L810.2 214.8 L811.0 217.4 L812.0 217.4 L812.9 214.5 L814.0 204.0 L815.6 195.8 L817.2 187.6 L818.8 180.7 L820.4 174.9 L822.0 169.4 L823.6 163.7 L825.2 158.7 L826.8 154.5 L828.4 150.1 L830.0 146.3 L831.6 143.3 L833.2 140.3 L834.8 137.0 L836.4 134.4 L838.0 132.0 L839.6 130.2 L841.2 127.9 L842.8 125.7 L844.4 125.3 L846.0 123.3 L847.6 122.0 L849.2 120.0 L850.8 120.1 L852.4 118.8 L854.0 116.6 L855.6 116.1 L857.2 115.9 L858.8 115.1 L860.4 114.8 L862.0 113.3 L863.6 113.4 L865.2 112.6 L866.8 111.5 L868.4 111.5 L870.0 111.6 L871.6 111.1 L873.2 110.2 L874.8 110.1 L876.4 108.9 L878.0 109.0 L879.6 109.6 L881.2 108.8 L882.8 108.2 L884.4 108.6 L886.0 108.7 L887.6 108.5 L889.2 107.8 L890.8 107.8 L892.4 107.8 L894.0 108.1 L895.6 107.6 L897.2 107.3 L898.8 107.4 L900.4 106.6 L902.0 106.5 L903.6 107.5 L905.2 107.9 L906.0 106.5" fill="none" stroke="#2a2a2a" stroke-width="1.1" stroke-linejoin="round" stroke-linecap="round"/>
<line x1="794.3" y1="91.5" x2="794.3" y2="221.0" stroke="#2a2a2a" stroke-width="1.1" />
<path d="M971.0 117.0 L972.5 116.9 L974.0 115.8 L975.5 115.7 L977.0 116.5 L978.5 116.3 L980.0 116.1 L981.5 115.6 L983.0 115.8 L984.5 115.7 L986.3 115.5 L988.3 101.0 L989.5 98.0 L991.0 102.0 L992.4 115.6 L993.8 127.1 L995.1 138.4 L996.5 149.1 L997.9 159.8 L999.2 170.2 L1000.6 180.3 L1002.0 190.0 L1003.1 195.8 L1003.9 198.4 L1004.9 198.4 L1005.8 195.5 L1006.9 187.8 L1008.5 181.3 L1010.1 175.2 L1011.7 169.7 L1013.3 164.7 L1014.9 160.6 L1016.5 156.4 L1018.1 152.6 L1019.7 149.6 L1021.3 146.2 L1022.9 143.4 L1024.5 140.2 L1026.1 137.5 L1027.7 135.8 L1029.3 133.4 L1030.9 132.2 L1032.5 131.3 L1034.1 129.2 L1035.7 127.0 L1037.3 126.9 L1038.9 125.6 L1040.5 124.4 L1042.1 123.7 L1043.7 122.6 L1045.3 121.8 L1046.9 120.3 L1048.5 120.6 L1050.1 120.0 L1051.7 118.1 L1053.3 118.5 L1054.9 118.0 L1056.5 117.2 L1058.1 116.9 L1059.7 116.4 L1061.3 116.8 L1062.9 115.8 L1064.5 116.0 L1066.1 115.0 L1067.7 115.6 L1069.3 115.4 L1070.9 114.5 L1072.5 114.5 L1074.1 114.9 L1075.7 114.5 L1077.3 114.0 L1078.9 113.4 L1080.5 113.5 L1082.1 113.9 L1083.7 113.0 L1085.3 114.1 L1086.9 113.0 L1088.5 113.9 L1090.1 112.9 L1091.7 113.9 L1093.3 113.4 L1094.9 113.1 L1096.5 113.0 L1097.5 112.5" fill="none" stroke="#2a2a2a" stroke-width="1.1" stroke-linejoin="round" stroke-linecap="round"/>
<line x1="986.0" y1="93.0" x2="986.0" y2="142.4" stroke="#2a2a2a" stroke-width="1.1" />
<path d="M1149.0 110.2 L1150.5 110.4 L1152.0 110.1 L1153.5 110.3 L1155.0 110.2 L1156.5 109.5 L1158.0 109.3 L1159.5 110.1 L1161.0 109.3 L1162.7 109.5 L1165.2 96.2 L1166.4 93.2 L1167.9 97.2 L1169.1 114.4 L1170.2 129.7 L1171.4 143.7 L1172.6 157.6 L1173.8 170.8 L1175.0 184.0 L1176.1 196.7 L1177.3 209.6 L1178.4 215.4 L1179.2 218.0 L1180.2 218.0 L1181.1 215.1 L1182.2 205.0 L1183.8 197.3 L1185.4 189.9 L1187.0 183.4 L1188.6 177.3 L1190.2 171.3 L1191.8 166.8 L1193.4 162.0 L1195.0 157.5 L1196.6 153.3 L1198.2 150.7 L1199.8 146.8 L1201.4 144.1 L1203.0 141.6 L1204.6 138.8 L1206.2 136.8 L1207.8 133.9 L1209.4 132.5 L1211.0 130.2 L1212.6 129.3 L1214.2 127.7 L1215.8 125.1 L1217.4 123.9 L1219.0 122.9 L1220.6 123.0 L1222.2 121.2 L1223.8 120.6 L1225.4 119.2 L1227.0 118.8 L1228.6 117.9 L1230.2 117.2 L1231.8 117.0 L1233.4 116.5 L1235.0 116.5 L1236.6 115.7 L1238.2 115.7 L1239.8 115.2 L1241.4 115.1 L1243.0 114.3 L1244.6 113.2 L1246.2 114.0 L1247.8 113.9 L1249.4 113.6 L1251.0 112.9 L1252.6 112.9 L1254.2 111.9 L1255.8 112.8 L1257.4 112.2 L1259.0 111.6 L1260.6 111.1 L1262.2 112.3 L1263.8 112.4 L1265.4 110.9 L1267.0 111.9 L1268.6 111.2 L1270.2 110.7 L1271.8 110.9 L1273.4 111.6 L1275.0 111.7 L1275.5 110.5" fill="none" stroke="#2a2a2a" stroke-width="1.1" stroke-linejoin="round" stroke-linecap="round"/>
<line x1="1162.4" y1="90.0" x2="1162.4" y2="150.4" stroke="#2a2a2a" stroke-width="1.1" />
<line x1="811.0" y1="218.0" x2="1180.0" y2="218.0" stroke="#000" stroke-width="1.6" stroke-dasharray="4 2.2"/>
<path d="M1232.2 180.3 L1232.2 205.6 L1270.5 205.6" fill="none" stroke="#111" stroke-width="1.6" />
<text x="801.0" y="80.0" font-size="31" textLength="77.4" lengthAdjust="spacingAndGlyphs" >Basal</text>
<text x="997.4" y="80.0" font-size="31" textLength="46.6" lengthAdjust="spacingAndGlyphs" >ND</text>
<text x="1154.7" y="82.6" font-size="31" textLength="132.7" lengthAdjust="spacingAndGlyphs" >Recovery</text>
<line x1="833.2" y1="1044.6" x2="1268.5" y2="1044.6" stroke="#000" stroke-width="2.2" stroke-dasharray="36 14"/>
<line x1="833.2" y1="947.3" x2="833.2" y2="1189.3" stroke="#000" stroke-width="4" />
<line x1="833.2" y1="1187.3" x2="1270.5" y2="1187.3" stroke="#000" stroke-width="4" />
<line x1="818.7" y1="949.3" x2="833.2" y2="949.3" stroke="#000" stroke-width="4" />
<text x="794.2" y="962.3" font-size="43" text-anchor="end" >120</text>
<line x1="818.7" y1="1044.6" x2="833.2" y2="1044.6" stroke="#000" stroke-width="4" />
<text x="794.2" y="1057.6" font-size="43" text-anchor="end" >100</text>
<line x1="818.7" y1="1140.4" x2="833.2" y2="1140.4" stroke="#000" stroke-width="4" />
<text x="794.2" y="1153.4" font-size="43" text-anchor="end" >80</text>
<line x1="833.1" y1="1187.3" x2="833.1" y2="1199.3" stroke="#000" stroke-width="4" />
<text x="831.6" y="1258.5" font-size="43" text-anchor="middle" >-100</text>
<line x1="942.0" y1="1187.3" x2="942.0" y2="1199.3" stroke="#000" stroke-width="4" />
<text x="947.0" y="1258.5" font-size="43" text-anchor="middle" >0</text>
<line x1="1050.8" y1="1187.3" x2="1050.8" y2="1199.3" stroke="#000" stroke-width="4" />
<text x="1055.8" y="1258.5" font-size="43" text-anchor="middle" >100</text>
<line x1="1159.7" y1="1187.3" x2="1159.7" y2="1199.3" stroke="#000" stroke-width="4" />
<text x="1164.7" y="1258.5" font-size="43" text-anchor="middle" >200</text>
<line x1="1268.5" y1="1187.3" x2="1268.5" y2="1199.3" stroke="#000" stroke-width="4" />
<text x="1273.5" y="1258.5" font-size="43" text-anchor="middle" >300</text>
<text x="1118.3" y="1327.3" font-size="50" textLength="187.7" lengthAdjust="spacingAndGlyphs" >Time (s)</text>
<text transform="translate(701.2 1349.5) rotate(-90)" font-size="53.5" textLength="476.9" lengthAdjust="spacingAndGlyphs" >Synaptic efficacy (%)</text>
<text x="904.2" y="971.3" font-size="43" textLength="64.2" lengthAdjust="spacingAndGlyphs" >ND</text>
<path d="M928.6 984.8 L948.0 984.8 L948.0 1003.0 L956.7 1003.0 L938.4 1022.6 L920.7 1003.0 L928.6 1003.0 Z" fill="#650058" stroke="#f056d8" stroke-width="3" stroke-linejoin="miter"/>
<line x1="974.6" y1="1121.8" x2="974.6" y2="1155.7" stroke="#000" stroke-width="2.5" />
<line x1="1007.5" y1="1096.0" x2="1007.5" y2="1142.5" stroke="#000" stroke-width="2.5" />
<line x1="1040.4" y1="1117.5" x2="1040.4" y2="1165.0" stroke="#000" stroke-width="2.5" />
<line x1="1072.9" y1="1058.2" x2="1072.9" y2="1142.1" stroke="#000" stroke-width="2.5" />
<line x1="1105.4" y1="1058.2" x2="1105.4" y2="1135.4" stroke="#000" stroke-width="2.5" />
<line x1="1138.2" y1="1077.0" x2="1138.2" y2="1126.4" stroke="#000" stroke-width="2.5" />
<line x1="1171.0" y1="1004.0" x2="1171.0" y2="1097.5" stroke="#000" stroke-width="2.5" />
<line x1="1203.6" y1="1037.9" x2="1203.6" y2="1121.8" stroke="#000" stroke-width="2.5" />
<line x1="1236.0" y1="1017.0" x2="1236.0" y2="1114.0" stroke="#000" stroke-width="2.5" />
<line x1="1269.0" y1="1030.7" x2="1269.0" y2="1110.0" stroke="#000" stroke-width="2.5" />
<circle cx="843.6" cy="1042.5" r="11.9" fill="#000" stroke="none" stroke-width="1" />
<circle cx="876.4" cy="1043.9" r="11.9" fill="#000" stroke="none" stroke-width="1" />
<circle cx="909.3" cy="1041.4" r="11.9" fill="#000" stroke="none" stroke-width="1" />
<circle cx="974.6" cy="1138.2" r="11.9" fill="#000" stroke="none" stroke-width="1" />
<circle cx="1007.5" cy="1118.9" r="11.9" fill="#000" stroke="none" stroke-width="1" />
<circle cx="1040.4" cy="1140.7" r="11.9" fill="#000" stroke="none" stroke-width="1" />
<circle cx="1072.9" cy="1099.3" r="11.9" fill="#000" stroke="none" stroke-width="1" />
<circle cx="1105.4" cy="1096.0" r="11.9" fill="#000" stroke="none" stroke-width="1" />
<circle cx="1138.2" cy="1101.4" r="11.9" fill="#000" stroke="none" stroke-width="1" />
<circle cx="1171.0" cy="1050.4" r="11.9" fill="#000" stroke="none" stroke-width="1" />
<circle cx="1203.6" cy="1079.0" r="11.9" fill="#000" stroke="none" stroke-width="1" />
<circle cx="1236.0" cy="1065.4" r="11.9" fill="#000" stroke="none" stroke-width="1" />
<circle cx="1269.0" cy="1070.4" r="11.9" fill="#000" stroke="none" stroke-width="1" />
<path d="M796.0 815.3 L797.5 814.9 L799.0 815.3 L800.5 814.7 L802.0 814.4 L803.5 814.9 L805.0 815.7 L806.9 814.8 L808.8 798.9 L810.0 795.9 L811.5 799.9 L812.9 815.4 L814.2 828.6 L815.6 840.7 L817.0 853.0 L818.4 864.6 L819.8 876.1 L821.1 887.5 L822.5 899.0 L823.6 904.8 L824.4 907.4 L825.4 907.4 L826.3 904.5 L827.4 894.8 L829.0 888.4 L830.6 881.5 L832.2 875.4 L833.8 869.8 L835.4 863.9 L837.0 859.4 L838.6 855.6 L840.2 851.8 L841.8 848.4 L843.4 845.7 L845.0 840.7 L846.6 839.3 L848.2 837.0 L849.8 834.3 L851.4 831.4 L853.0 830.3 L854.6 827.6 L856.2 828.2 L857.8 826.6 L859.4 824.5 L861.0 822.6 L862.6 823.1 L864.2 821.2 L865.8 821.1 L867.4 820.2 L869.0 818.6 L870.6 817.6 L872.2 817.5 L873.8 816.4 L875.4 815.2 L877.0 815.1 L878.6 816.0 L880.2 813.6 L881.8 813.2 L883.4 814.4 L885.0 813.2 L886.6 813.6 L888.2 813.1 L889.8 812.6 L891.4 814.1 L893.0 811.8 L894.6 812.2 L896.2 811.4 L897.8 812.4 L899.4 811.4 L901.0 811.4 L902.6 812.3 L904.2 811.1 L905.8 811.7 L907.4 812.5 L909.0 810.3 L910.6 810.1 L912.2 810.5 L913.8 811.8 L915.4 811.4 L917.0 810.3 L918.6 810.5 L920.2 810.1 L920.3 810.5" fill="none" stroke="#2a2a2a" stroke-width="1.5" stroke-linejoin="round" stroke-linecap="round"/>
<line x1="806.6" y1="780.6" x2="806.6" y2="922.9" stroke="#2a2a2a" stroke-width="1.7" />
<path d="M987.9 821.0 L989.4 821.1 L990.9 821.1 L992.4 821.3 L993.9 820.8 L995.4 821.0 L996.9 819.3 L998.4 820.0 L999.9 820.7 L1002.1 819.8 L1002.3 807.2 L1003.5 804.2 L1005.0 808.2 L1006.6 819.5 L1008.2 829.3 L1009.8 837.9 L1011.4 847.0 L1012.9 855.5 L1014.5 864.2 L1016.1 872.5 L1017.7 880.7 L1018.8 886.5 L1019.6 889.1 L1020.6 889.1 L1021.5 886.2 L1022.6 879.4 L1024.2 874.1 L1025.8 869.1 L1027.4 865.3 L1029.0 860.9 L1030.6 856.2 L1032.2 853.5 L1033.8 849.5 L1035.4 847.1 L1037.0 843.8 L1038.6 840.6 L1040.2 840.6 L1041.8 836.8 L1043.4 834.9 L1045.0 835.2 L1046.6 833.4 L1048.2 830.4 L1049.8 830.9 L1051.4 828.6 L1053.0 827.8 L1054.6 825.6 L1056.2 826.6 L1057.8 825.1 L1059.4 825.1 L1061.0 824.2 L1062.6 822.0 L1064.2 821.6 L1065.8 820.6 L1067.4 820.0 L1069.0 819.4 L1070.6 819.6 L1072.2 820.0 L1073.8 818.1 L1075.4 819.5 L1077.0 818.4 L1078.6 818.0 L1080.2 819.1 L1081.8 818.0 L1083.4 817.4 L1085.0 817.7 L1086.6 818.1 L1088.2 816.2 L1089.8 818.5 L1091.4 815.9 L1093.0 817.7 L1094.6 817.8 L1096.2 815.6 L1097.8 817.5 L1099.4 816.3 L1101.0 816.8 L1102.6 815.2 L1104.2 815.3 L1105.8 815.6 L1107.4 817.5 L1109.0 815.5 L1110.6 816.9 L1112.2 817.3 L1113.8 817.3 L1115.4 815.7 L1115.9 815.8" fill="none" stroke="#2a2a2a" stroke-width="1.5" stroke-linejoin="round" stroke-linecap="round"/>
<line x1="1001.8" y1="783.9" x2="1001.8" y2="843.8" stroke="#2a2a2a" stroke-width="1.7" />
<path d="M1165.8 831.0 L1167.3 830.9 L1168.8 830.2 L1170.3 829.6 L1171.8 829.0 L1173.3 830.1 L1174.8 829.6 L1176.7 829.5 L1177.8 806.2 L1179.0 803.2 L1180.5 807.2 L1182.0 821.7 L1183.5 833.8 L1184.9 845.8 L1186.4 856.8 L1187.9 868.2 L1189.3 879.0 L1190.8 889.4 L1192.3 900.0 L1193.4 905.8 L1194.2 908.4 L1195.2 908.4 L1196.1 905.5 L1197.2 895.9 L1198.8 888.7 L1200.4 881.3 L1202.0 875.6 L1203.6 870.3 L1205.2 864.5 L1206.8 860.5 L1208.4 856.1 L1210.0 852.4 L1211.6 848.3 L1213.2 844.2 L1214.8 843.1 L1216.4 840.5 L1218.0 837.1 L1219.6 834.0 L1221.2 832.3 L1222.8 831.6 L1224.4 829.0 L1226.0 829.2 L1227.6 826.9 L1229.2 824.6 L1230.8 824.6 L1232.4 822.8 L1234.0 823.4 L1235.6 822.4 L1237.2 820.6 L1238.8 820.2 L1240.4 819.7 L1242.0 819.4 L1243.6 819.3 L1245.2 816.3 L1246.8 816.7 L1248.4 817.0 L1250.0 815.8 L1251.6 816.2 L1253.2 814.6 L1254.8 816.4 L1256.4 815.2 L1258.0 813.9 L1259.6 815.1 L1261.2 814.0 L1262.8 813.5 L1264.4 814.1 L1266.0 813.1 L1267.6 813.1 L1269.2 814.7 L1270.8 814.2 L1272.4 812.3 L1274.0 814.2 L1275.6 812.1 L1277.2 812.8 L1278.8 814.3 L1280.4 813.5 L1282.0 812.6 L1283.6 812.7 L1285.2 812.7 L1286.8 812.0 L1287.2 812.5" fill="none" stroke="#2a2a2a" stroke-width="1.5" stroke-linejoin="round" stroke-linecap="round"/>
<line x1="1176.4" y1="789.2" x2="1176.4" y2="848.1" stroke="#2a2a2a" stroke-width="1.7" />
<line x1="825.0" y1="909.6" x2="1194.7" y2="909.6" stroke="#000" stroke-width="1.6" stroke-dasharray="4 2.2"/>
<path d="M1232.3 858.0 L1232.3 904.6 L1262.9 904.6" fill="none" stroke="#111" stroke-width="2.6" />
<text x="817.2" y="782.6" font-size="31" textLength="76.8" lengthAdjust="spacingAndGlyphs" >Basal</text>
<text x="1018.0" y="782.6" font-size="31" textLength="47.3" lengthAdjust="spacingAndGlyphs" >ND</text>
<text x="1165.4" y="782.6" font-size="31" textLength="134.7" lengthAdjust="spacingAndGlyphs" >Recovery</text>
<line x1="838.6" y1="1707.2" x2="1274.5" y2="1707.2" stroke="#000" stroke-width="2.2" stroke-dasharray="36 14"/>
<line x1="838.6" y1="1610.1" x2="838.6" y2="1851.3" stroke="#000" stroke-width="4" />
<line x1="838.6" y1="1849.3" x2="1276.5" y2="1849.3" stroke="#000" stroke-width="4" />
<line x1="824.1" y1="1612.1" x2="838.6" y2="1612.1" stroke="#000" stroke-width="4" />
<text x="799.6" y="1625.1" font-size="43" text-anchor="end" >120</text>
<line x1="824.1" y1="1707.2" x2="838.6" y2="1707.2" stroke="#000" stroke-width="4" />
<text x="799.6" y="1720.2" font-size="43" text-anchor="end" >100</text>
<line x1="824.1" y1="1803.1" x2="838.6" y2="1803.1" stroke="#000" stroke-width="4" />
<text x="799.6" y="1816.1" font-size="43" text-anchor="end" >80</text>
<line x1="838.5" y1="1849.3" x2="838.5" y2="1861.3" stroke="#000" stroke-width="4" />
<text x="837.0" y="1920.0" font-size="43" text-anchor="middle" >-100</text>
<line x1="947.5" y1="1849.3" x2="947.5" y2="1861.3" stroke="#000" stroke-width="4" />
<text x="952.5" y="1920.0" font-size="43" text-anchor="middle" >0</text>
<line x1="1056.5" y1="1849.3" x2="1056.5" y2="1861.3" stroke="#000" stroke-width="4" />
<text x="1061.5" y="1920.0" font-size="43" text-anchor="middle" >100</text>
<line x1="1165.5" y1="1849.3" x2="1165.5" y2="1861.3" stroke="#000" stroke-width="4" />
<text x="1170.5" y="1920.0" font-size="43" text-anchor="middle" >200</text>
<line x1="1274.5" y1="1849.3" x2="1274.5" y2="1861.3" stroke="#000" stroke-width="4" />
<text x="1279.5" y="1920.0" font-size="43" text-anchor="middle" >300</text>
<text x="1126.0" y="1991.5" font-size="50" textLength="186.0" lengthAdjust="spacingAndGlyphs" >Time (s)</text>
<text transform="translate(707.5 2011.8) rotate(-90)" font-size="53.5" textLength="474.5" lengthAdjust="spacingAndGlyphs" >Synaptic efficacy (%)</text>
<text x="922.4" y="1609.3" font-size="43" textLength="62.5" lengthAdjust="spacingAndGlyphs" >ND</text>
<path d="M946.9 1624.8 L966.6 1624.8 L966.6 1643.5 L974.7 1643.5 L956.9 1662.6 L939.1 1643.5 L946.9 1643.5 Z" fill="#0a4ee8" stroke="#4a98f0" stroke-width="3" stroke-linejoin="miter"/>
<line x1="980.7" y1="1771.1" x2="980.7" y2="1795.1" stroke="#000" stroke-width="2.5" />
<line x1="1013.4" y1="1783.6" x2="1013.4" y2="1809.6" stroke="#000" stroke-width="2.5" />
<line x1="1045.5" y1="1760.6" x2="1045.5" y2="1794.6" stroke="#000" stroke-width="2.5" />
<line x1="1078.3" y1="1738.1" x2="1078.3" y2="1779.1" stroke="#000" stroke-width="2.5" />
<line x1="1111.0" y1="1763.6" x2="1111.0" y2="1802.6" stroke="#000" stroke-width="2.5" />
<line x1="1143.8" y1="1716.7" x2="1143.8" y2="1766.1" stroke="#000" stroke-width="2.5" />
<line x1="1176.6" y1="1706.3" x2="1176.6" y2="1754.3" stroke="#000" stroke-width="2.5" />
<line x1="1209.0" y1="1732.1" x2="1209.0" y2="1776.9" stroke="#000" stroke-width="2.5" />
<line x1="1242.0" y1="1690.0" x2="1242.0" y2="1750.0" stroke="#000" stroke-width="2.5" />
<line x1="1275.2" y1="1672.6" x2="1275.2" y2="1720.6" stroke="#000" stroke-width="2.5" />
<circle cx="849.7" cy="1698.3" r="11.9" fill="#000" stroke="none" stroke-width="1" />
<circle cx="881.7" cy="1715.5" r="11.9" fill="#000" stroke="none" stroke-width="1" />
<circle cx="914.8" cy="1694.8" r="11.9" fill="#000" stroke="none" stroke-width="1" />
<circle cx="980.7" cy="1783.1" r="11.9" fill="#000" stroke="none" stroke-width="1" />
<circle cx="1013.4" cy="1796.6" r="11.9" fill="#000" stroke="none" stroke-width="1" />
<circle cx="1045.5" cy="1777.6" r="11.9" fill="#000" stroke="none" stroke-width="1" />
<circle cx="1078.3" cy="1758.6" r="11.9" fill="#000" stroke="none" stroke-width="1" />
<circle cx="1111.0" cy="1783.1" r="11.9" fill="#000" stroke="none" stroke-width="1" />
<circle cx="1143.8" cy="1741.4" r="11.9" fill="#000" stroke="none" stroke-width="1" />
<circle cx="1176.6" cy="1730.3" r="11.9" fill="#000" stroke="none" stroke-width="1" />
<circle cx="1209.0" cy="1754.5" r="11.9" fill="#000" stroke="none" stroke-width="1" />
<circle cx="1242.0" cy="1720.0" r="11.9" fill="#000" stroke="none" stroke-width="1" />
<circle cx="1275.2" cy="1696.6" r="11.9" fill="#000" stroke="none" stroke-width="1" />
<path d="M811.6 1474.6 L813.1 1474.2 L814.6 1474.8 L816.1 1473.8 L817.6 1474.3 L819.1 1474.0 L820.6 1473.4 L822.1 1473.9 L823.5 1473.8 L823.3 1473.0 L824.5 1470.0 L826.0 1474.0 L826.9 1485.6 L827.9 1496.2 L828.8 1505.7 L829.8 1515.2 L830.7 1524.6 L831.6 1533.9 L832.6 1542.3 L833.5 1551.3 L834.6 1557.1 L835.4 1559.7 L836.4 1559.7 L837.3 1556.8 L838.4 1543.1 L840.0 1534.6 L841.6 1527.1 L843.2 1519.9 L844.8 1513.9 L846.4 1509.4 L848.0 1503.6 L849.6 1501.4 L851.2 1497.0 L852.8 1493.8 L854.4 1491.3 L856.0 1489.5 L857.6 1488.6 L859.2 1485.7 L860.8 1485.1 L862.4 1484.0 L864.0 1482.4 L865.6 1481.9 L867.2 1480.1 L868.8 1479.4 L870.4 1479.1 L872.0 1479.5 L873.6 1478.6 L875.2 1478.0 L876.8 1478.2 L878.4 1477.6 L880.0 1477.1 L881.6 1477.8 L883.2 1477.4 L884.8 1476.4 L886.4 1476.9 L888.0 1476.7 L889.6 1477.3 L891.2 1476.9 L892.8 1475.9 L894.4 1477.2 L896.0 1475.4 L897.6 1476.0 L898.7 1475.8" fill="none" stroke="#2a2a2a" stroke-width="2.5" stroke-linejoin="round" stroke-linecap="round"/>
<line x1="823.2" y1="1463.2" x2="823.2" y2="1476.0" stroke="#2a2a2a" stroke-width="2.5" />
<path d="M992.8 1474.4 L994.3 1475.3 L995.8 1474.0 L997.3 1474.7 L998.8 1473.7 L1000.3 1473.9 L1001.8 1474.8 L1003.3 1473.6 L1004.8 1474.1 L1005.8 1473.8 L1005.6 1473.0 L1006.8 1470.0 L1008.3 1474.0 L1009.1 1483.7 L1009.8 1492.2 L1010.6 1500.2 L1011.3 1507.7 L1012.1 1515.7 L1012.9 1522.6 L1013.6 1530.0 L1014.4 1537.3 L1015.5 1543.1 L1016.3 1545.7 L1017.3 1545.7 L1018.2 1542.8 L1019.3 1531.6 L1020.9 1524.4 L1022.5 1518.1 L1024.1 1513.0 L1025.7 1507.8 L1027.3 1503.4 L1028.9 1499.8 L1030.5 1498.3 L1032.1 1493.8 L1033.7 1492.7 L1035.3 1490.3 L1036.9 1489.2 L1038.5 1487.1 L1040.1 1486.6 L1041.7 1485.2 L1043.3 1484.6 L1044.9 1484.3 L1046.5 1483.0 L1048.1 1481.6 L1049.7 1480.9 L1051.3 1482.3 L1052.9 1481.0 L1054.5 1480.1 L1056.1 1481.3 L1057.7 1480.4 L1059.3 1480.5 L1060.9 1480.6 L1062.5 1479.3 L1064.1 1479.3 L1065.7 1480.2 L1067.3 1478.6 L1068.9 1479.8 L1070.5 1478.4 L1072.1 1479.5 L1073.7 1479.5 L1075.3 1480.0 L1076.0 1478.8" fill="none" stroke="#2a2a2a" stroke-width="2.5" stroke-linejoin="round" stroke-linecap="round"/>
<line x1="1005.5" y1="1461.5" x2="1005.5" y2="1476.0" stroke="#2a2a2a" stroke-width="2.5" />
<path d="M1165.8 1474.7 L1167.3 1474.5 L1168.8 1474.1 L1170.3 1475.0 L1171.8 1473.7 L1173.3 1474.2 L1174.8 1474.7 L1176.3 1473.4 L1177.8 1474.0 L1179.3 1473.8 L1179.1 1473.0 L1180.3 1470.0 L1181.8 1474.0 L1182.8 1486.5 L1183.8 1496.9 L1184.9 1507.3 L1185.9 1517.3 L1186.9 1526.8 L1188.0 1536.3 L1189.0 1545.3 L1190.0 1554.6 L1191.1 1560.4 L1191.9 1563.0 L1192.9 1563.0 L1193.8 1560.1 L1194.9 1545.7 L1196.5 1536.2 L1198.1 1528.6 L1199.7 1522.1 L1201.3 1515.8 L1202.9 1510.8 L1204.5 1505.8 L1206.1 1502.7 L1207.7 1498.1 L1209.3 1495.7 L1210.9 1494.0 L1212.5 1491.9 L1214.1 1489.5 L1215.7 1487.3 L1217.3 1486.3 L1218.9 1485.0 L1220.5 1484.1 L1222.1 1484.3 L1223.7 1482.3 L1225.3 1483.0 L1226.9 1482.5 L1228.5 1480.3 L1230.1 1480.6 L1231.7 1480.4 L1233.3 1479.2 L1234.9 1479.7 L1236.5 1480.5 L1238.1 1478.7 L1239.7 1479.5 L1241.3 1478.4 L1242.9 1479.2 L1244.5 1479.7 L1246.1 1478.2 L1247.7 1477.7 L1249.3 1477.8 L1250.9 1478.7 L1252.5 1477.6 L1252.9 1478.2" fill="none" stroke="#2a2a2a" stroke-width="2.5" stroke-linejoin="round" stroke-linecap="round"/>
<line x1="1179.0" y1="1463.0" x2="1179.0" y2="1476.0" stroke="#2a2a2a" stroke-width="2.5" />
<line x1="829.2" y1="1565.3" x2="1192.4" y2="1565.3" stroke="#000" stroke-width="1.3" stroke-dasharray="4 2.2"/>
<path d="M1216.3 1531.4 L1216.3 1573.0 L1254.9 1573.0" fill="none" stroke="#111" stroke-width="1.4" />
<text x="824.6" y="1455.9" font-size="31" textLength="76.1" lengthAdjust="spacingAndGlyphs" >Basal</text>
<text x="1003.1" y="1455.9" font-size="31" textLength="45.6" lengthAdjust="spacingAndGlyphs" >ND</text>
<text x="1167.1" y="1455.9" font-size="31" textLength="133.7" lengthAdjust="spacingAndGlyphs" >Recovery</text>
<line x1="838.6" y1="2436.6" x2="1274.5" y2="2436.6" stroke="#000" stroke-width="2.2" stroke-dasharray="36 14"/>
<line x1="838.6" y1="2315.6" x2="838.6" y2="2557.5" stroke="#000" stroke-width="4" />
<line x1="825.6" y1="2555.5" x2="1276.5" y2="2555.5" stroke="#000" stroke-width="4" />
<line x1="824.1" y1="2317.6" x2="838.6" y2="2317.6" stroke="#000" stroke-width="4" />
<text x="799.6" y="2330.6" font-size="43" text-anchor="end" >150</text>
<line x1="824.1" y1="2436.6" x2="838.6" y2="2436.6" stroke="#000" stroke-width="4" />
<text x="799.6" y="2449.6" font-size="43" text-anchor="end" >100</text>
<text x="799.6" y="2568.5" font-size="43" text-anchor="end" >50</text>
<line x1="838.5" y1="2555.5" x2="838.5" y2="2567.5" stroke="#000" stroke-width="4" />
<text x="837.0" y="2622.8" font-size="43" text-anchor="middle" >-100</text>
<line x1="947.5" y1="2555.5" x2="947.5" y2="2567.5" stroke="#000" stroke-width="4" />
<text x="952.5" y="2622.8" font-size="43" text-anchor="middle" >0</text>
<line x1="1056.5" y1="2555.5" x2="1056.5" y2="2567.5" stroke="#000" stroke-width="4" />
<text x="1061.5" y="2622.8" font-size="43" text-anchor="middle" >100</text>
<line x1="1165.5" y1="2555.5" x2="1165.5" y2="2567.5" stroke="#000" stroke-width="4" />
<text x="1170.5" y="2622.8" font-size="43" text-anchor="middle" >200</text>
<line x1="1274.5" y1="2555.5" x2="1274.5" y2="2567.5" stroke="#000" stroke-width="4" />
<text x="1279.5" y="2622.8" font-size="43" text-anchor="middle" >300</text>
<text x="1125.5" y="2694.3" font-size="50" textLength="186.5" lengthAdjust="spacingAndGlyphs" >Time (s)</text>
<text transform="translate(707.5 2718.5) rotate(-90)" font-size="53.5" textLength="474.5" lengthAdjust="spacingAndGlyphs" >Synaptic efficacy (%)</text>
<text x="908.2" y="2299.4" font-size="43" textLength="66.8" lengthAdjust="spacingAndGlyphs" clip-path="url(#ndclip)">ND</text>
<path d="M936.1 2315.0 L955.0 2315.0 L955.0 2334.2 L963.9 2334.2 L945.2 2353.2 L926.8 2334.2 L936.1 2334.2 Z" fill="#f54545" stroke="#c41818" stroke-width="1.8" stroke-linejoin="miter"/>
<line x1="980.7" y1="2343.0" x2="980.7" y2="2379.8" stroke="#000" stroke-width="2.5" />
<line x1="1013.4" y1="2338.9" x2="1013.4" y2="2376.9" stroke="#000" stroke-width="2.5" />
<line x1="1045.9" y1="2349.6" x2="1045.9" y2="2383.6" stroke="#000" stroke-width="2.5" />
<line x1="1079.0" y1="2350.0" x2="1079.0" y2="2392.0" stroke="#000" stroke-width="2.5" />
<line x1="1111.7" y1="2352.8" x2="1111.7" y2="2399.6" stroke="#000" stroke-width="2.5" />
<line x1="1144.1" y1="2355.7" x2="1144.1" y2="2402.3" stroke="#000" stroke-width="2.5" />
<line x1="1177.2" y1="2364.6" x2="1177.2" y2="2414.0" stroke="#000" stroke-width="2.5" />
<line x1="1209.7" y1="2384.1" x2="1209.7" y2="2420.1" stroke="#000" stroke-width="2.5" />
<line x1="1242.1" y1="2388.2" x2="1242.1" y2="2426.2" stroke="#000" stroke-width="2.5" />
<line x1="1275.2" y1="2420.6" x2="1275.2" y2="2445.6" stroke="#000" stroke-width="2.5" />
<circle cx="849.7" cy="2442.4" r="11.9" fill="#000" stroke="none" stroke-width="1" />
<circle cx="882.4" cy="2433.1" r="11.9" fill="#000" stroke="none" stroke-width="1" />
<circle cx="914.8" cy="2433.8" r="11.9" fill="#000" stroke="none" stroke-width="1" />
<circle cx="980.7" cy="2361.4" r="11.9" fill="#000" stroke="none" stroke-width="1" />
<circle cx="1013.4" cy="2357.9" r="11.9" fill="#000" stroke="none" stroke-width="1" />
<circle cx="1045.9" cy="2366.6" r="11.9" fill="#000" stroke="none" stroke-width="1" />
<circle cx="1079.0" cy="2371.0" r="11.9" fill="#000" stroke="none" stroke-width="1" />
<circle cx="1111.7" cy="2376.2" r="11.9" fill="#000" stroke="none" stroke-width="1" />
<circle cx="1144.1" cy="2379.0" r="11.9" fill="#000" stroke="none" stroke-width="1" />
<circle cx="1177.2" cy="2389.3" r="11.9" fill="#000" stroke="none" stroke-width="1" />
<circle cx="1209.7" cy="2402.1" r="11.9" fill="#000" stroke="none" stroke-width="1" />
<circle cx="1242.1" cy="2407.2" r="11.9" fill="#000" stroke="none" stroke-width="1" />
<circle cx="1275.2" cy="2433.1" r="11.9" fill="#000" stroke="none" stroke-width="1" />
<path d="M797.3 2139.3 L798.8 2139.0 L800.3 2139.2 L801.8 2138.6 L803.3 2139.3 L804.8 2139.3 L806.3 2139.0 L807.8 2138.2 L809.3 2138.6 L810.8 2138.3 L812.3 2138.1 L813.8 2139.0 L815.3 2139.0 L817.5 2138.2 L817.3 2135.0 L818.5 2132.0 L820.0 2136.0 L820.9 2152.3 L821.9 2167.2 L822.8 2180.7 L823.8 2193.8 L824.7 2206.6 L825.6 2219.4 L826.6 2231.7 L827.5 2243.9 L828.6 2249.7 L829.4 2252.3 L830.4 2252.3 L831.3 2249.4 L832.4 2231.5 L834.0 2220.0 L835.6 2209.3 L837.2 2201.2 L838.8 2193.7 L840.4 2187.0 L842.0 2180.9 L843.6 2174.6 L845.2 2170.1 L846.8 2166.4 L848.4 2164.7 L850.0 2160.4 L851.6 2158.0 L853.2 2156.8 L854.8 2153.6 L856.4 2152.4 L858.0 2150.7 L859.6 2148.6 L861.2 2148.5 L862.8 2148.0 L864.4 2145.8 L866.0 2145.2 L867.6 2144.9 L869.2 2143.5 L870.8 2144.0 L872.4 2144.2 L874.0 2143.5 L875.6 2142.9 L877.2 2143.2 L878.8 2141.6 L880.4 2142.2 L882.0 2141.6 L883.6 2141.9 L885.2 2140.7 L886.8 2141.9 L888.4 2140.5 L890.0 2140.5 L891.6 2141.7 L893.2 2141.9 L894.8 2140.8 L895.7 2140.5" fill="none" stroke="#2a2a2a" stroke-width="2.1" stroke-linejoin="round" stroke-linecap="round"/>
<line x1="817.2" y1="2114.9" x2="817.2" y2="2140.0" stroke="#2a2a2a" stroke-width="2.1" />
<path d="M973.5 2139.7 L975.0 2139.8 L976.5 2140.3 L978.0 2139.6 L979.5 2139.5 L981.0 2139.6 L982.5 2139.0 L984.0 2139.4 L985.5 2139.5 L987.0 2139.6 L988.5 2138.6 L990.0 2138.8 L991.5 2138.4 L993.0 2139.4 L994.5 2139.1 L996.5 2138.8 L996.3 2135.0 L997.5 2132.0 L999.0 2136.0 L1000.0 2156.5 L1001.0 2175.1 L1002.0 2192.2 L1003.0 2208.5 L1004.1 2224.6 L1005.1 2240.2 L1006.1 2255.6 L1007.1 2271.2 L1008.2 2277.0 L1009.0 2279.6 L1010.0 2279.6 L1010.9 2276.7 L1012.0 2252.8 L1013.6 2237.6 L1015.2 2224.9 L1016.8 2213.8 L1018.4 2203.9 L1020.0 2195.8 L1021.6 2188.4 L1023.2 2182.8 L1024.8 2176.5 L1026.4 2171.9 L1028.0 2167.4 L1029.6 2164.0 L1031.2 2160.4 L1032.8 2157.2 L1034.4 2156.2 L1036.0 2154.1 L1037.6 2151.9 L1039.2 2150.1 L1040.8 2147.9 L1042.4 2146.5 L1044.0 2145.5 L1045.6 2144.2 L1047.2 2144.8 L1048.8 2143.3 L1050.4 2143.6 L1052.0 2142.2 L1053.6 2142.8 L1055.2 2142.2 L1056.8 2140.2 L1058.4 2140.3 L1060.0 2141.4 L1061.6 2140.3 L1063.2 2141.1 L1064.8 2139.8 L1066.4 2139.0 L1068.0 2140.0 L1069.6 2140.1 L1071.2 2139.0 L1072.8 2138.6 L1074.3 2138.8" fill="none" stroke="#2a2a2a" stroke-width="2.1" stroke-linejoin="round" stroke-linecap="round"/>
<line x1="996.2" y1="2118.2" x2="996.2" y2="2140.0" stroke="#2a2a2a" stroke-width="2.1" />
<path d="M1165.8 2139.8 L1167.3 2139.9 L1168.8 2139.9 L1170.3 2139.1 L1171.8 2138.8 L1173.3 2139.3 L1174.8 2139.0 L1176.3 2139.7 L1177.8 2139.5 L1179.3 2139.3 L1180.8 2139.2 L1182.3 2139.2 L1183.8 2138.4 L1185.3 2138.8 L1186.7 2138.8 L1186.5 2135.0 L1187.7 2132.0 L1189.2 2136.0 L1190.1 2152.0 L1191.0 2166.5 L1192.0 2179.3 L1192.9 2192.6 L1193.8 2204.7 L1194.8 2217.4 L1195.7 2229.3 L1196.6 2241.3 L1197.7 2247.1 L1198.5 2249.7 L1199.5 2249.7 L1200.4 2246.8 L1201.5 2230.4 L1203.1 2220.2 L1204.7 2210.0 L1206.3 2201.8 L1207.9 2195.5 L1209.5 2188.8 L1211.1 2182.8 L1212.7 2179.4 L1214.3 2175.0 L1215.9 2169.6 L1217.5 2167.0 L1219.1 2163.5 L1220.7 2161.4 L1222.3 2159.8 L1223.9 2156.9 L1225.5 2156.3 L1227.1 2153.5 L1228.7 2152.4 L1230.3 2152.6 L1231.9 2150.7 L1233.5 2149.9 L1235.1 2149.5 L1236.7 2148.6 L1238.3 2147.8 L1239.9 2146.6 L1241.5 2147.5 L1243.1 2147.6 L1244.7 2147.3 L1246.3 2146.3 L1247.9 2145.4 L1249.5 2145.2 L1251.1 2145.7 L1252.7 2145.4 L1254.3 2144.2 L1255.9 2144.3 L1257.5 2144.4 L1259.1 2144.6 L1260.7 2145.1 L1262.3 2144.4 L1263.9 2143.4 L1265.5 2144.9 L1267.1 2144.1 L1267.2 2143.8" fill="none" stroke="#2a2a2a" stroke-width="2.1" stroke-linejoin="round" stroke-linecap="round"/>
<line x1="1186.4" y1="2115.9" x2="1186.4" y2="2140.0" stroke="#2a2a2a" stroke-width="2.1" />
<line x1="829.9" y1="2252.2" x2="1199.0" y2="2252.2" stroke="#000" stroke-width="1.3" stroke-dasharray="4 2.2"/>
<path d="M1230.6 2206.3 L1230.6 2249.6 L1268.9 2249.6" fill="none" stroke="#111" stroke-width="2.4" />
<text x="827.9" y="2112.2" font-size="31" textLength="76.1" lengthAdjust="spacingAndGlyphs" >Basal</text>
<text x="1006.8" y="2112.2" font-size="31" textLength="45.6" lengthAdjust="spacingAndGlyphs" >ND</text>
<text x="1170.4" y="2112.2" font-size="31" textLength="134.4" lengthAdjust="spacingAndGlyphs" >Recovery</text>
<rect x="1518.5" y="346.6" width="58.2" height="179.4" fill="#045204" stroke="#22e322" stroke-width="2.2" />
<rect x="1583.9" y="395.3" width="57.6" height="130.7" fill="#a1fba1" stroke="#22e322" stroke-width="2.2" />
<rect x="1668.3" y="346.6" width="58.3" height="179.4" fill="#045204" stroke="#22e322" stroke-width="2.2" />
<rect x="1732.3" y="345.2" width="57.6" height="180.8" fill="#a1fba1" stroke="#22e322" stroke-width="2.2" />
<rect x="1817.1" y="351.0" width="57.6" height="175.0" fill="#045204" stroke="#22e322" stroke-width="2.2" />
<rect x="1881.1" y="407.9" width="57.6" height="118.1" fill="#a1fba1" stroke="#22e322" stroke-width="2.2" />
<line x1="1548.8" y1="340.8" x2="1548.8" y2="350.0" stroke="#1fdc1f" stroke-width="4" />
<line x1="1534.8" y1="340.8" x2="1562.8" y2="340.8" stroke="#1fdc1f" stroke-width="4.2" />
<line x1="1534.8" y1="350.0" x2="1562.8" y2="350.0" stroke="#1fdc1f" stroke-width="4.2" />
<line x1="1612.8" y1="386.8" x2="1612.8" y2="401.8" stroke="#1fdc1f" stroke-width="4" />
<line x1="1598.8" y1="386.8" x2="1626.8" y2="386.8" stroke="#1fdc1f" stroke-width="4.2" />
<line x1="1598.8" y1="401.8" x2="1626.8" y2="401.8" stroke="#1fdc1f" stroke-width="4.2" />
<line x1="1697.3" y1="340.8" x2="1697.3" y2="350.0" stroke="#1fdc1f" stroke-width="4" />
<line x1="1683.3" y1="340.8" x2="1711.3" y2="340.8" stroke="#1fdc1f" stroke-width="4.2" />
<line x1="1683.3" y1="350.0" x2="1711.3" y2="350.0" stroke="#1fdc1f" stroke-width="4.2" />
<line x1="1761.0" y1="337.4" x2="1761.0" y2="348.3" stroke="#1fdc1f" stroke-width="4" />
<line x1="1747.0" y1="337.4" x2="1775.0" y2="337.4" stroke="#1fdc1f" stroke-width="4.2" />
<line x1="1747.0" y1="348.3" x2="1775.0" y2="348.3" stroke="#1fdc1f" stroke-width="4.2" />
<line x1="1845.7" y1="339.1" x2="1845.7" y2="359.2" stroke="#1fdc1f" stroke-width="4" />
<line x1="1831.7" y1="339.1" x2="1859.7" y2="339.1" stroke="#1fdc1f" stroke-width="4.2" />
<line x1="1831.7" y1="359.2" x2="1859.7" y2="359.2" stroke="#1fdc1f" stroke-width="4.2" />
<line x1="1910.1" y1="390.9" x2="1910.1" y2="420.5" stroke="#1fdc1f" stroke-width="4" />
<line x1="1896.1" y1="390.9" x2="1924.1" y2="390.9" stroke="#1fdc1f" stroke-width="4.2" />
<line x1="1896.1" y1="420.5" x2="1924.1" y2="420.5" stroke="#1fdc1f" stroke-width="4.2" />
<line x1="1511.7" y1="284.5" x2="1511.7" y2="528.5" stroke="#000" stroke-width="5" />
<line x1="1496.2" y1="526.0" x2="1953.0" y2="526.0" stroke="#000" stroke-width="5" />
<line x1="1496.2" y1="287.0" x2="1511.7" y2="287.0" stroke="#000" stroke-width="5" />
<text x="1489.5" y="302.0" font-size="43" text-anchor="end" textLength="73.8" lengthAdjust="spacingAndGlyphs" >120</text>
<line x1="1496.2" y1="347.6" x2="1511.7" y2="347.6" stroke="#000" stroke-width="5" />
<text x="1489.5" y="362.6" font-size="43" text-anchor="end" textLength="73.8" lengthAdjust="spacingAndGlyphs" >100</text>
<line x1="1496.2" y1="407.9" x2="1511.7" y2="407.9" stroke="#000" stroke-width="5" />
<text x="1489.5" y="422.9" font-size="43" text-anchor="end" textLength="49.2" lengthAdjust="spacingAndGlyphs" >80</text>
<line x1="1496.2" y1="467.5" x2="1511.7" y2="467.5" stroke="#000" stroke-width="5" />
<text x="1489.5" y="482.5" font-size="43" text-anchor="end" textLength="49.2" lengthAdjust="spacingAndGlyphs" >60</text>
<text x="1489.5" y="541.0" font-size="43" text-anchor="end" textLength="49.2" lengthAdjust="spacingAndGlyphs" >40</text>
<circle cx="1548.8" cy="304.0" r="6.5" fill="none" stroke="#ee8a22" stroke-width="2.5" />
<circle cx="1548.8" cy="324.5" r="6.5" fill="none" stroke="#ee8a22" stroke-width="2.5" />
<circle cx="1548.8" cy="333.0" r="6.5" fill="none" stroke="#ee8a22" stroke-width="2.5" />
<circle cx="1548.8" cy="343.0" r="6.5" fill="none" stroke="#ee8a22" stroke-width="2.5" />
<circle cx="1548.8" cy="346.5" r="6.5" fill="none" stroke="#ee8a22" stroke-width="2.5" />
<circle cx="1548.8" cy="350.0" r="6.5" fill="none" stroke="#ee8a22" stroke-width="2.5" />
<circle cx="1548.8" cy="353.5" r="6.5" fill="none" stroke="#ee8a22" stroke-width="2.5" />
<circle cx="1548.8" cy="357.0" r="6.5" fill="none" stroke="#ee8a22" stroke-width="2.5" />
<circle cx="1548.8" cy="360.0" r="6.5" fill="none" stroke="#ee8a22" stroke-width="2.5" />
<circle cx="1548.8" cy="367.0" r="6.5" fill="none" stroke="#ee8a22" stroke-width="2.5" />
<circle cx="1612.8" cy="350.0" r="6.5" fill="none" stroke="#ee8a22" stroke-width="2.5" />
<circle cx="1612.8" cy="360.2" r="6.5" fill="none" stroke="#ee8a22" stroke-width="2.5" />
<circle cx="1612.8" cy="368.7" r="6.5" fill="none" stroke="#ee8a22" stroke-width="2.5" />
<circle cx="1612.8" cy="374.0" r="6.5" fill="none" stroke="#ee8a22" stroke-width="2.5" />
<circle cx="1612.8" cy="382.4" r="6.5" fill="none" stroke="#ee8a22" stroke-width="2.5" />
<circle cx="1612.8" cy="392.6" r="6.5" fill="none" stroke="#ee8a22" stroke-width="2.5" />
<circle cx="1612.8" cy="401.0" r="6.5" fill="none" stroke="#ee8a22" stroke-width="2.5" />
<circle cx="1612.8" cy="407.9" r="6.5" fill="none" stroke="#ee8a22" stroke-width="2.5" />
<circle cx="1612.8" cy="418.0" r="6.5" fill="none" stroke="#ee8a22" stroke-width="2.5" />
<circle cx="1612.8" cy="436.9" r="6.5" fill="none" stroke="#ee8a22" stroke-width="2.5" />
<circle cx="1612.8" cy="452.2" r="6.5" fill="none" stroke="#ee8a22" stroke-width="2.5" />
<circle cx="1697.3" cy="334.0" r="6.5" fill="none" stroke="#ee8a22" stroke-width="2.5" />
<circle cx="1697.3" cy="339.8" r="6.5" fill="none" stroke="#ee8a22" stroke-width="2.5" />
<circle cx="1697.3" cy="344.9" r="6.5" fill="none" stroke="#ee8a22" stroke-width="2.5" />
<circle cx="1697.3" cy="350.0" r="6.5" fill="none" stroke="#ee8a22" stroke-width="2.5" />
<circle cx="1697.3" cy="359.2" r="6.5" fill="none" stroke="#ee8a22" stroke-width="2.5" />
<circle cx="1761.0" cy="322.8" r="6.5" fill="none" stroke="#ee8a22" stroke-width="2.5" />
<circle cx="1761.0" cy="341.5" r="6.5" fill="none" stroke="#ee8a22" stroke-width="2.5" />
<circle cx="1761.0" cy="346.6" r="6.5" fill="none" stroke="#ee8a22" stroke-width="2.5" />
<circle cx="1761.0" cy="351.7" r="6.5" fill="none" stroke="#ee8a22" stroke-width="2.5" />
<circle cx="1761.0" cy="356.8" r="6.5" fill="none" stroke="#ee8a22" stroke-width="2.5" />
<circle cx="1845.7" cy="321.8" r="6.5" fill="none" stroke="#ee8a22" stroke-width="2.5" />
<circle cx="1845.7" cy="334.7" r="6.5" fill="none" stroke="#ee8a22" stroke-width="2.5" />
<circle cx="1845.7" cy="351.7" r="6.5" fill="none" stroke="#ee8a22" stroke-width="2.5" />
<circle cx="1845.7" cy="382.4" r="6.5" fill="none" stroke="#ee8a22" stroke-width="2.5" />
<circle cx="1910.1" cy="351.7" r="6.5" fill="none" stroke="#ee8a22" stroke-width="2.5" />
<circle cx="1910.1" cy="402.8" r="6.5" fill="none" stroke="#ee8a22" stroke-width="2.5" />
<circle cx="1910.1" cy="409.6" r="6.5" fill="none" stroke="#ee8a22" stroke-width="2.5" />
<circle cx="1910.1" cy="430.0" r="6.5" fill="none" stroke="#ee8a22" stroke-width="2.5" />
<circle cx="1910.1" cy="433.4" r="6.5" fill="none" stroke="#ee8a22" stroke-width="2.5" />
<text transform="translate(1393.5 639.7) rotate(-90)" font-size="53.5" textLength="465.7" lengthAdjust="spacingAndGlyphs" >Synaptic efficacy (%)</text>
<rect x="1377.2" y="101.9" width="54.8" height="12.8" fill="#0b560b" stroke="none" stroke-width="1" />
<rect x="1377.2" y="140.2" width="54.8" height="13.6" fill="#a3f7a3" stroke="none" stroke-width="1" />
<text x="1443.3" y="117.6" font-size="34.5" textLength="90.2" lengthAdjust="spacingAndGlyphs" >Basal</text>
<text x="1444.2" y="157.4" font-size="34.5" textLength="53.1" lengthAdjust="spacingAndGlyphs" >ND</text>
<path d="M1613.0 160.3 L1904.4 160.3 L1904.4 200.5 M1759.8 160.3 L1759.8 200.5" fill="none" stroke="#4a7ebb" stroke-width="1.6" />
<text x="1734.5" y="151.5" font-size="33" textLength="51.4" lengthAdjust="spacingAndGlyphs" >###</text>
<text x="1883.2" y="149.4" font-size="31" textLength="48.4" lengthAdjust="spacingAndGlyphs" >n.s.</text>
<text x="1554.2" y="243.1" font-size="32" text-anchor="middle" font-weight="bold" style="font-family:DejaVu Sans,sans-serif">*</text>
<text x="1573.6" y="243.1" font-size="32" text-anchor="middle" font-weight="bold" style="font-family:DejaVu Sans,sans-serif">*</text>
<text x="1593.0" y="243.1" font-size="32" text-anchor="middle" font-weight="bold" style="font-family:DejaVu Sans,sans-serif">*</text>
<text x="1864.7" y="243.1" font-size="32" text-anchor="middle" font-weight="bold" style="font-family:DejaVu Sans,sans-serif">*</text>
<text x="1883.7" y="243.1" font-size="32" text-anchor="middle" font-weight="bold" style="font-family:DejaVu Sans,sans-serif">*</text>
<path d="M1541.8 282.7 L1541.8 246.1 L1603.9 246.1 L1603.9 282.7" fill="none" stroke="#111" stroke-width="1.6" />
<path d="M1842.0 282.7 L1842.0 246.1 L1904.8 246.1 L1904.8 282.7" fill="none" stroke="#111" stroke-width="1.6" />
<text transform="translate(1624.5 549.0) rotate(-45)" font-size="39.5" text-anchor="end" >Control</text>
<text transform="translate(1758.0 556.0) rotate(-45)" font-size="39.5" text-anchor="end" >THL</text>
<text transform="translate(1932.0 545.0) rotate(-45)" font-size="39.5" text-anchor="end" >LEI-401</text>
<rect x="1517.5" y="1038.9" width="57.5" height="177.7" fill="#5c0050" stroke="#b35fd0" stroke-width="2.2" />
<rect x="1581.5" y="1095.0" width="58.2" height="121.6" fill="#f54cd5" stroke="#b35fd0" stroke-width="2.2" />
<rect x="1666.6" y="1035.4" width="57.6" height="181.2" fill="#5c0050" stroke="#b35fd0" stroke-width="2.2" />
<rect x="1730.6" y="1094.0" width="57.6" height="122.6" fill="#f54cd5" stroke="#b35fd0" stroke-width="2.2" />
<rect x="1814.7" y="1033.4" width="58.3" height="183.2" fill="#5c0050" stroke="#b35fd0" stroke-width="2.2" />
<rect x="1879.4" y="1042.9" width="57.6" height="173.7" fill="#f54cd5" stroke="#b35fd0" stroke-width="2.2" />
<line x1="1546.4" y1="1032.7" x2="1546.4" y2="1038.0" stroke="#b560d0" stroke-width="4" />
<line x1="1532.4" y1="1032.7" x2="1560.4" y2="1032.7" stroke="#b560d0" stroke-width="4.2" />
<line x1="1610.4" y1="1084.8" x2="1610.4" y2="1094.0" stroke="#b560d0" stroke-width="4" />
<line x1="1596.4" y1="1084.8" x2="1624.4" y2="1084.8" stroke="#b560d0" stroke-width="4.2" />
<line x1="1695.2" y1="1031.0" x2="1695.2" y2="1035.0" stroke="#b560d0" stroke-width="4" />
<line x1="1681.2" y1="1031.0" x2="1709.2" y2="1031.0" stroke="#b560d0" stroke-width="4.2" />
<line x1="1759.2" y1="1071.6" x2="1759.2" y2="1114.1" stroke="#b560d0" stroke-width="4" />
<line x1="1745.2" y1="1071.6" x2="1773.2" y2="1071.6" stroke="#b560d0" stroke-width="4.2" />
<line x1="1745.2" y1="1114.1" x2="1773.2" y2="1114.1" stroke="#b560d0" stroke-width="4.2" />
<line x1="1843.7" y1="1023.2" x2="1843.7" y2="1039.2" stroke="#b560d0" stroke-width="4" />
<line x1="1829.7" y1="1023.2" x2="1857.7" y2="1023.2" stroke="#b560d0" stroke-width="4.2" />
<line x1="1829.7" y1="1039.2" x2="1857.7" y2="1039.2" stroke="#b560d0" stroke-width="4.2" />
<line x1="1908.0" y1="1030.4" x2="1908.0" y2="1052.2" stroke="#b560d0" stroke-width="4" />
<line x1="1894.0" y1="1030.4" x2="1922.0" y2="1030.4" stroke="#b560d0" stroke-width="4.2" />
<line x1="1894.0" y1="1052.2" x2="1922.0" y2="1052.2" stroke="#b560d0" stroke-width="4.2" />
<line x1="1510.7" y1="975.4" x2="1510.7" y2="1219.1" stroke="#000" stroke-width="5" />
<line x1="1495.2" y1="1216.6" x2="1953.0" y2="1216.6" stroke="#000" stroke-width="5" />
<line x1="1495.2" y1="977.9" x2="1510.7" y2="977.9" stroke="#000" stroke-width="5" />
<text x="1488.5" y="992.9" font-size="43" text-anchor="end" textLength="73.8" lengthAdjust="spacingAndGlyphs" >120</text>
<line x1="1495.2" y1="1038.5" x2="1510.7" y2="1038.5" stroke="#000" stroke-width="5" />
<text x="1488.5" y="1053.5" font-size="43" text-anchor="end" textLength="73.8" lengthAdjust="spacingAndGlyphs" >100</text>
<line x1="1495.2" y1="1098.1" x2="1510.7" y2="1098.1" stroke="#000" stroke-width="5" />
<text x="1488.5" y="1113.1" font-size="43" text-anchor="end" textLength="49.2" lengthAdjust="spacingAndGlyphs" >80</text>
<line x1="1495.2" y1="1157.7" x2="1510.7" y2="1157.7" stroke="#000" stroke-width="5" />
<text x="1488.5" y="1172.7" font-size="43" text-anchor="end" textLength="49.2" lengthAdjust="spacingAndGlyphs" >60</text>
<text x="1488.5" y="1231.6" font-size="43" text-anchor="end" textLength="49.2" lengthAdjust="spacingAndGlyphs" >40</text>
<circle cx="1546.4" cy="997.7" r="6.5" fill="none" stroke="#f4a8e4" stroke-width="2.5" />
<circle cx="1546.4" cy="1014.7" r="6.5" fill="none" stroke="#f4a8e4" stroke-width="2.5" />
<circle cx="1546.4" cy="1022.0" r="6.5" fill="none" stroke="#f4a8e4" stroke-width="2.5" />
<circle cx="1546.4" cy="1026.5" r="6.5" fill="none" stroke="#f4a8e4" stroke-width="2.5" />
<circle cx="1546.4" cy="1030.0" r="6.5" fill="none" stroke="#f4a8e4" stroke-width="2.5" />
<circle cx="1610.4" cy="1050.5" r="6.5" fill="none" stroke="#f4a8e4" stroke-width="2.5" />
<circle cx="1610.4" cy="1056.3" r="6.5" fill="none" stroke="#f4a8e4" stroke-width="2.5" />
<circle cx="1610.4" cy="1060.7" r="6.5" fill="none" stroke="#f4a8e4" stroke-width="2.5" />
<circle cx="1610.4" cy="1065.8" r="6.5" fill="none" stroke="#f4a8e4" stroke-width="2.5" />
<circle cx="1610.4" cy="1070.9" r="6.5" fill="none" stroke="#f4a8e4" stroke-width="2.5" />
<circle cx="1610.4" cy="1077.7" r="6.5" fill="none" stroke="#f4a8e4" stroke-width="2.5" />
<circle cx="1610.4" cy="1084.5" r="6.5" fill="none" stroke="#f4a8e4" stroke-width="2.5" />
<circle cx="1610.4" cy="1089.6" r="6.5" fill="none" stroke="#f4a8e4" stroke-width="2.5" />
<circle cx="1695.2" cy="1024.2" r="6.5" fill="none" stroke="#f4a8e4" stroke-width="2.5" />
<circle cx="1695.2" cy="1029.0" r="6.5" fill="none" stroke="#f4a8e4" stroke-width="2.5" />
<circle cx="1759.2" cy="1056.2" r="6.5" fill="none" stroke="#f4a8e4" stroke-width="2.5" />
<circle cx="1759.2" cy="1059.6" r="6.5" fill="none" stroke="#f4a8e4" stroke-width="2.5" />
<circle cx="1759.2" cy="1079.4" r="6.5" fill="none" stroke="#f4a8e4" stroke-width="2.5" />
<circle cx="1759.2" cy="1084.5" r="6.5" fill="none" stroke="#f4a8e4" stroke-width="2.5" />
<circle cx="1759.2" cy="1088.9" r="6.5" fill="none" stroke="#f4a8e4" stroke-width="2.5" />
<circle cx="1843.7" cy="1003.8" r="6.5" fill="none" stroke="#f4a8e4" stroke-width="2.5" />
<circle cx="1843.7" cy="1019.8" r="6.5" fill="none" stroke="#f4a8e4" stroke-width="2.5" />
<circle cx="1843.7" cy="1041.3" r="6.5" fill="none" stroke="#f4a8e4" stroke-width="2.5" />
<circle cx="1843.7" cy="1045.3" r="6.5" fill="none" stroke="#f4a8e4" stroke-width="2.5" />
<circle cx="1908.0" cy="989.2" r="6.5" fill="none" stroke="#f4a8e4" stroke-width="2.5" />
<circle cx="1908.0" cy="1012.0" r="6.5" fill="none" stroke="#f4a8e4" stroke-width="2.5" />
<circle cx="1908.0" cy="1058.3" r="6.5" fill="none" stroke="#f4a8e4" stroke-width="2.5" />
<circle cx="1908.0" cy="1062.4" r="6.5" fill="none" stroke="#f4a8e4" stroke-width="2.5" />
<text transform="translate(1393.5 1330.3) rotate(-90)" font-size="53.5" textLength="465.7" lengthAdjust="spacingAndGlyphs" >Synaptic efficacy (%)</text>
<rect x="1377.2" y="790.8" width="54.8" height="12.8" fill="#5a0a50" stroke="none" stroke-width="1" />
<rect x="1377.2" y="826.6" width="54.8" height="12.8" fill="#f55fd8" stroke="none" stroke-width="1" />
<text x="1447.7" y="804.7" font-size="34.5" textLength="91.2" lengthAdjust="spacingAndGlyphs" >Basal</text>
<text x="1448.6" y="840.5" font-size="34.5" textLength="52.5" lengthAdjust="spacingAndGlyphs" >ND</text>
<path d="M1615.6 852.2 L1907.7 852.2 L1907.7 891.6 M1762.4 852.2 L1762.4 891.6" fill="none" stroke="#4a7ebb" stroke-width="1.6" />
<text x="1738.3" y="840.5" font-size="31" textLength="49.1" lengthAdjust="spacingAndGlyphs" >n.s.</text>
<text x="1881.7" y="842.7" font-size="33" textLength="50.3" lengthAdjust="spacingAndGlyphs" >###</text>
<text x="1556.0" y="934.2" font-size="32" text-anchor="middle" font-weight="bold" style="font-family:DejaVu Sans,sans-serif">*</text>
<text x="1575.0" y="934.2" font-size="32" text-anchor="middle" font-weight="bold" style="font-family:DejaVu Sans,sans-serif">*</text>
<text x="1594.0" y="934.2" font-size="32" text-anchor="middle" font-weight="bold" style="font-family:DejaVu Sans,sans-serif">*</text>
<text x="1731.0" y="934.2" font-size="32" text-anchor="middle" font-weight="bold" style="font-family:DejaVu Sans,sans-serif">*</text>
<path d="M1544.4 973.8 L1544.4 937.2 L1605.7 937.2 L1605.7 973.8" fill="none" stroke="#111" stroke-width="1.6" />
<path d="M1695.2 973.8 L1695.2 937.2 L1757.3 937.2 L1757.3 973.8" fill="none" stroke="#111" stroke-width="1.6" />
<text transform="translate(1616.0 1247.4) rotate(-45)" font-size="39.5" text-anchor="end" >Control</text>
<text transform="translate(1749.5 1254.4) rotate(-45)" font-size="39.5" text-anchor="end" >THL</text>
<text transform="translate(1923.5 1243.4) rotate(-45)" font-size="39.5" text-anchor="end" >LEI-401</text>
<rect x="1517.5" y="1711.9" width="57.5" height="174.7" fill="#0000e6" stroke="#a8e6e6" stroke-width="2.2" />
<rect x="1582.5" y="1761.3" width="58.3" height="125.3" fill="#5599f5" stroke="#a8e6e6" stroke-width="2.2" />
<rect x="1666.6" y="1711.2" width="58.3" height="175.4" fill="#0000e6" stroke="#a8e6e6" stroke-width="2.2" />
<rect x="1731.3" y="1685.7" width="57.6" height="200.9" fill="#5599f5" stroke="#a8e6e6" stroke-width="2.2" />
<rect x="1815.4" y="1712.9" width="57.9" height="173.7" fill="#0000e6" stroke="#a8e6e6" stroke-width="2.2" />
<rect x="1880.1" y="1797.0" width="57.6" height="89.6" fill="#5599f5" stroke="#a8e6e6" stroke-width="2.2" />
<line x1="1532.4" y1="1707.9" x2="1560.4" y2="1707.9" stroke="#101080" stroke-width="4.2" />
<line x1="1611.1" y1="1752.8" x2="1611.1" y2="1766.4" stroke="#101080" stroke-width="4" />
<line x1="1597.1" y1="1752.8" x2="1625.1" y2="1752.8" stroke="#101080" stroke-width="4.2" />
<line x1="1597.1" y1="1766.4" x2="1625.1" y2="1766.4" stroke="#101080" stroke-width="4.2" />
<line x1="1695.6" y1="1701.7" x2="1695.6" y2="1717.0" stroke="#101080" stroke-width="4" />
<line x1="1681.6" y1="1701.7" x2="1709.6" y2="1701.7" stroke="#101080" stroke-width="4.2" />
<line x1="1681.6" y1="1717.0" x2="1709.6" y2="1717.0" stroke="#101080" stroke-width="4.2" />
<line x1="1760.0" y1="1667.0" x2="1760.0" y2="1700.7" stroke="#101080" stroke-width="4" />
<line x1="1746.0" y1="1667.0" x2="1774.0" y2="1667.0" stroke="#101080" stroke-width="4.2" />
<line x1="1746.0" y1="1700.7" x2="1774.0" y2="1700.7" stroke="#101080" stroke-width="4.2" />
<line x1="1830.4" y1="1707.9" x2="1858.4" y2="1707.9" stroke="#101080" stroke-width="4.2" />
<line x1="1908.7" y1="1773.2" x2="1908.7" y2="1816.8" stroke="#101080" stroke-width="4" />
<line x1="1894.7" y1="1773.2" x2="1922.7" y2="1773.2" stroke="#101080" stroke-width="4.2" />
<line x1="1894.7" y1="1816.8" x2="1922.7" y2="1816.8" stroke="#101080" stroke-width="4.2" />
<line x1="1510.7" y1="1644.7" x2="1510.7" y2="1889.1" stroke="#000" stroke-width="5" />
<line x1="1495.2" y1="1886.6" x2="1953.0" y2="1886.6" stroke="#000" stroke-width="5" />
<line x1="1495.2" y1="1647.2" x2="1510.7" y2="1647.2" stroke="#000" stroke-width="5" />
<text x="1488.5" y="1662.2" font-size="43" text-anchor="end" textLength="73.8" lengthAdjust="spacingAndGlyphs" >120</text>
<line x1="1495.2" y1="1708.5" x2="1510.7" y2="1708.5" stroke="#000" stroke-width="5" />
<text x="1488.5" y="1723.5" font-size="43" text-anchor="end" textLength="73.8" lengthAdjust="spacingAndGlyphs" >100</text>
<line x1="1495.2" y1="1768.1" x2="1510.7" y2="1768.1" stroke="#000" stroke-width="5" />
<text x="1488.5" y="1783.1" font-size="43" text-anchor="end" textLength="49.2" lengthAdjust="spacingAndGlyphs" >80</text>
<line x1="1495.2" y1="1827.0" x2="1510.7" y2="1827.0" stroke="#000" stroke-width="5" />
<text x="1488.5" y="1842.0" font-size="43" text-anchor="end" textLength="49.2" lengthAdjust="spacingAndGlyphs" >60</text>
<text x="1488.5" y="1901.6" font-size="43" text-anchor="end" textLength="49.2" lengthAdjust="spacingAndGlyphs" >40</text>
<circle cx="1546.4" cy="1689.8" r="6.5" fill="none" stroke="#f01414" stroke-width="2.5" />
<circle cx="1546.4" cy="1696.6" r="6.5" fill="none" stroke="#f01414" stroke-width="2.5" />
<circle cx="1546.4" cy="1701.7" r="6.5" fill="none" stroke="#f01414" stroke-width="2.5" />
<circle cx="1546.4" cy="1705.0" r="6.5" fill="none" stroke="#f01414" stroke-width="2.5" />
<circle cx="1611.1" cy="1735.8" r="6.5" fill="none" stroke="#f01414" stroke-width="2.5" />
<circle cx="1611.1" cy="1739.2" r="6.5" fill="none" stroke="#f01414" stroke-width="2.5" />
<circle cx="1611.1" cy="1742.6" r="6.5" fill="none" stroke="#f01414" stroke-width="2.5" />
<circle cx="1611.1" cy="1746.7" r="6.5" fill="none" stroke="#f01414" stroke-width="2.5" />
<circle cx="1611.1" cy="1751.1" r="6.5" fill="none" stroke="#f01414" stroke-width="2.5" />
<circle cx="1611.1" cy="1756.2" r="6.5" fill="none" stroke="#f01414" stroke-width="2.5" />
<circle cx="1611.1" cy="1761.3" r="6.5" fill="none" stroke="#f01414" stroke-width="2.5" />
<circle cx="1611.1" cy="1764.7" r="6.5" fill="none" stroke="#f01414" stroke-width="2.5" />
<circle cx="1611.1" cy="1799.5" r="6.5" fill="none" stroke="#f01414" stroke-width="2.5" />
<circle cx="1611.1" cy="1814.1" r="6.5" fill="none" stroke="#f01414" stroke-width="2.5" />
<circle cx="1695.6" cy="1683.0" r="6.5" fill="none" stroke="#f01414" stroke-width="2.5" />
<circle cx="1695.6" cy="1710.2" r="6.5" fill="none" stroke="#f01414" stroke-width="2.5" />
<circle cx="1695.6" cy="1720.5" r="6.5" fill="none" stroke="#f01414" stroke-width="2.5" />
<circle cx="1760.0" cy="1650.6" r="6.5" fill="none" stroke="#f01414" stroke-width="2.5" />
<circle cx="1760.0" cy="1654.0" r="6.5" fill="none" stroke="#f01414" stroke-width="2.5" />
<circle cx="1760.0" cy="1684.7" r="6.5" fill="none" stroke="#f01414" stroke-width="2.5" />
<circle cx="1760.0" cy="1688.0" r="6.5" fill="none" stroke="#f01414" stroke-width="2.5" />
<circle cx="1844.4" cy="1700.0" r="6.5" fill="none" stroke="#f01414" stroke-width="2.5" />
<circle cx="1844.4" cy="1704.4" r="6.5" fill="none" stroke="#f01414" stroke-width="2.5" />
<circle cx="1908.7" cy="1730.7" r="6.5" fill="none" stroke="#f01414" stroke-width="2.5" />
<circle cx="1908.7" cy="1742.6" r="6.5" fill="none" stroke="#f01414" stroke-width="2.5" />
<circle cx="1908.7" cy="1768.8" r="6.5" fill="none" stroke="#f01414" stroke-width="2.5" />
<circle cx="1908.7" cy="1803.9" r="6.5" fill="none" stroke="#f01414" stroke-width="2.5" />
<circle cx="1908.7" cy="1862.5" r="6.5" fill="none" stroke="#f01414" stroke-width="2.5" />
<circle cx="1908.7" cy="1884.9" r="6.5" fill="none" stroke="#f01414" stroke-width="2.5" />
<text transform="translate(1393.5 2000.3) rotate(-90)" font-size="53.5" textLength="465.7" lengthAdjust="spacingAndGlyphs" >Synaptic efficacy (%)</text>
<rect x="1388.1" y="1445.6" width="55.2" height="12.7" fill="#0000e0" stroke="none" stroke-width="1" />
<rect x="1388.1" y="1484.6" width="55.2" height="12.8" fill="#5fa4f5" stroke="none" stroke-width="1" />
<text x="1454.3" y="1460.2" font-size="34.5" textLength="90.8" lengthAdjust="spacingAndGlyphs" >Basal</text>
<text x="1454.8" y="1499.6" font-size="34.5" textLength="53.5" lengthAdjust="spacingAndGlyphs" >ND</text>
<path d="M1623.6 1505.1 L1915.0 1505.1 L1915.0 1544.2 M1770.4 1505.1 L1770.4 1544.2" fill="none" stroke="#4a7ebb" stroke-width="1.6" />
<text x="1763.0" y="1497.1" font-size="33" textLength="17.4" lengthAdjust="spacingAndGlyphs" >#</text>
<text x="1893.5" y="1494.1" font-size="31" textLength="49.1" lengthAdjust="spacingAndGlyphs" >n.s.</text>
<text x="1564.8" y="1586.7" font-size="32" text-anchor="middle" font-weight="bold" style="font-family:DejaVu Sans,sans-serif">*</text>
<text x="1584.0" y="1586.7" font-size="32" text-anchor="middle" font-weight="bold" style="font-family:DejaVu Sans,sans-serif">*</text>
<text x="1603.2" y="1586.7" font-size="32" text-anchor="middle" font-weight="bold" style="font-family:DejaVu Sans,sans-serif">*</text>
<text x="1875.5" y="1586.7" font-size="32" text-anchor="middle" font-weight="bold" style="font-family:DejaVu Sans,sans-serif">*</text>
<text x="1893.5" y="1586.7" font-size="32" text-anchor="middle" font-weight="bold" style="font-family:DejaVu Sans,sans-serif">*</text>
<path d="M1552.4 1626.3 L1552.4 1589.8 L1614.5 1589.8 L1614.5 1626.3" fill="none" stroke="#111" stroke-width="1.6" />
<path d="M1853.0 1626.3 L1853.0 1589.8 L1915.0 1589.8 L1915.0 1626.3" fill="none" stroke="#111" stroke-width="1.6" />
<text transform="translate(1629.5 1923.0) rotate(-45)" font-size="39.5" text-anchor="end" >Control</text>
<text transform="translate(1763.0 1930.0) rotate(-45)" font-size="39.5" text-anchor="end" >THL</text>
<text transform="translate(1937.0 1919.0) rotate(-45)" font-size="39.5" text-anchor="end" >LEI-401</text>
<rect x="1517.5" y="2553.0" width="57.9" height="45.6" fill="#9e0000" stroke="#9e0000" stroke-width="2.2" />
<rect x="1582.2" y="2503.6" width="57.9" height="95.0" fill="#f84048" stroke="#a81010" stroke-width="2.2" />
<rect x="1666.6" y="2553.0" width="58.3" height="45.6" fill="#9e0000" stroke="#9e0000" stroke-width="2.2" />
<rect x="1730.6" y="2525.4" width="58.3" height="73.2" fill="#f84048" stroke="#a81010" stroke-width="2.2" />
<rect x="1814.7" y="2559.1" width="58.6" height="39.5" fill="#9e0000" stroke="#9e0000" stroke-width="2.2" />
<rect x="1879.4" y="2563.2" width="58.3" height="35.4" fill="#f84048" stroke="#a81010" stroke-width="2.2" />
<line x1="1532.4" y1="2550.3" x2="1560.4" y2="2550.3" stroke="#f88a8a" stroke-width="4.2" />
<line x1="1611.1" y1="2491.4" x2="1611.1" y2="2502.0" stroke="#f54848" stroke-width="4" />
<line x1="1597.1" y1="2491.4" x2="1625.1" y2="2491.4" stroke="#f54848" stroke-width="4.2" />
<line x1="1681.6" y1="2550.3" x2="1709.6" y2="2550.3" stroke="#f88a8a" stroke-width="4.2" />
<line x1="1760.0" y1="2517.3" x2="1760.0" y2="2524.0" stroke="#f54848" stroke-width="4" />
<line x1="1746.0" y1="2517.3" x2="1774.0" y2="2517.3" stroke="#f54848" stroke-width="4.2" />
<line x1="1830.4" y1="2554.7" x2="1858.4" y2="2554.7" stroke="#f88a8a" stroke-width="4.2" />
<line x1="1908.7" y1="2555.4" x2="1908.7" y2="2562.0" stroke="#f54848" stroke-width="4" />
<line x1="1894.7" y1="2555.4" x2="1922.7" y2="2555.4" stroke="#f54848" stroke-width="4.2" />
<circle cx="1546.4" cy="2538.0" r="6.5" fill="none" stroke="#f8a0a0" stroke-width="2.5" />
<circle cx="1546.4" cy="2539.5" r="6.5" fill="none" stroke="#f8a0a0" stroke-width="2.5" />
<circle cx="1546.4" cy="2541.0" r="6.5" fill="none" stroke="#f8a0a0" stroke-width="2.5" />
<circle cx="1546.4" cy="2542.5" r="6.5" fill="none" stroke="#f8a0a0" stroke-width="2.5" />
<circle cx="1546.4" cy="2544.0" r="6.5" fill="none" stroke="#f8a0a0" stroke-width="2.5" />
<circle cx="1546.4" cy="2545.5" r="6.5" fill="none" stroke="#f8a0a0" stroke-width="2.5" />
<circle cx="1546.4" cy="2547.0" r="6.5" fill="none" stroke="#f8a0a0" stroke-width="2.5" />
<circle cx="1611.1" cy="2373.9" r="6.5" fill="none" stroke="#f8a0a0" stroke-width="2.5" />
<circle cx="1611.1" cy="2411.0" r="6.5" fill="none" stroke="#f8a0a0" stroke-width="2.5" />
<circle cx="1611.1" cy="2456.0" r="6.5" fill="none" stroke="#f8a0a0" stroke-width="2.5" />
<circle cx="1611.1" cy="2466.9" r="6.5" fill="none" stroke="#f8a0a0" stroke-width="2.5" />
<circle cx="1611.1" cy="2485.6" r="6.5" fill="none" stroke="#f8a0a0" stroke-width="2.5" />
<circle cx="1611.1" cy="2494.0" r="6.5" fill="none" stroke="#f8a0a0" stroke-width="2.5" />
<circle cx="1611.1" cy="2497.5" r="6.5" fill="none" stroke="#f8a0a0" stroke-width="2.5" />
<circle cx="1695.6" cy="2544.5" r="6.5" fill="none" stroke="#f8a0a0" stroke-width="2.5" />
<circle cx="1695.6" cy="2547.0" r="6.5" fill="none" stroke="#f8a0a0" stroke-width="2.5" />
<circle cx="1760.0" cy="2501.6" r="6.5" fill="none" stroke="#f8a0a0" stroke-width="2.5" />
<circle cx="1760.0" cy="2506.0" r="6.5" fill="none" stroke="#f8a0a0" stroke-width="2.5" />
<circle cx="1760.0" cy="2515.2" r="6.5" fill="none" stroke="#f8a0a0" stroke-width="2.5" />
<circle cx="1760.0" cy="2519.6" r="6.5" fill="none" stroke="#f8a0a0" stroke-width="2.5" />
<circle cx="1844.4" cy="2543.5" r="6.5" fill="none" stroke="#f8a0a0" stroke-width="2.5" />
<circle cx="1844.4" cy="2548.0" r="6.5" fill="none" stroke="#f8a0a0" stroke-width="2.5" />
<circle cx="1844.4" cy="2552.0" r="6.5" fill="none" stroke="#f8a0a0" stroke-width="2.5" />
<circle cx="1908.7" cy="2545.9" r="6.5" fill="none" stroke="#f8a0a0" stroke-width="2.5" />
<circle cx="1908.7" cy="2548.6" r="6.5" fill="none" stroke="#f8a0a0" stroke-width="2.5" />
<circle cx="1908.7" cy="2553.7" r="6.5" fill="none" stroke="#f8a0a0" stroke-width="2.5" />
<circle cx="1908.7" cy="2601.4" r="6.5" fill="none" stroke="#f8a0a0" stroke-width="2.5" />
<line x1="1510.7" y1="2355.4" x2="1510.7" y2="2601.1" stroke="#000" stroke-width="5" />
<line x1="1508.2" y1="2598.6" x2="1953.0" y2="2598.6" stroke="#000" stroke-width="5" />
<line x1="1495.2" y1="2391.3" x2="1510.7" y2="2391.3" stroke="#000" stroke-width="5" />
<text x="1488.5" y="2407.8" font-size="43" text-anchor="end" textLength="73.8" lengthAdjust="spacingAndGlyphs" >200</text>
<line x1="1495.2" y1="2471.3" x2="1510.7" y2="2471.3" stroke="#000" stroke-width="5" />
<text x="1488.5" y="2487.8" font-size="43" text-anchor="end" textLength="73.8" lengthAdjust="spacingAndGlyphs" >150</text>
<line x1="1495.2" y1="2551.3" x2="1510.7" y2="2551.3" stroke="#000" stroke-width="5" />
<text x="1488.5" y="2567.8" font-size="43" text-anchor="end" textLength="73.8" lengthAdjust="spacingAndGlyphs" >100</text>
<text transform="translate(1392.7 2711.2) rotate(-90)" font-size="53.5" textLength="466.2" lengthAdjust="spacingAndGlyphs" >Synaptic efficacy (%)</text>
<rect x="1379.4" y="2105.8" width="54.7" height="12.8" fill="#9a0000" stroke="none" stroke-width="1" />
<rect x="1379.4" y="2144.9" width="54.7" height="12.7" fill="#f54545" stroke="none" stroke-width="1" />
<text x="1445.1" y="2121.1" font-size="34.5" textLength="90.8" lengthAdjust="spacingAndGlyphs" >Basal</text>
<text x="1446.0" y="2160.6" font-size="34.5" textLength="53.2" lengthAdjust="spacingAndGlyphs" >ND</text>
<path d="M1614.9 2164.9 L1906.2 2164.9 L1906.2 2204.4 M1761.7 2164.9 L1761.7 2204.4" fill="none" stroke="#4a7ebb" stroke-width="1.6" />
<text x="1741.9" y="2153.3" font-size="31" textLength="50.2" lengthAdjust="spacingAndGlyphs" >n.s.</text>
<text x="1879.8" y="2157.3" font-size="33" textLength="50.3" lengthAdjust="spacingAndGlyphs" >###</text>
<text x="1560.5" y="2247.0" font-size="32" text-anchor="middle" font-weight="bold" style="font-family:DejaVu Sans,sans-serif">*</text>
<text x="1579.7" y="2247.0" font-size="32" text-anchor="middle" font-weight="bold" style="font-family:DejaVu Sans,sans-serif">*</text>
<text x="1598.8" y="2247.0" font-size="32" text-anchor="middle" font-weight="bold" style="font-family:DejaVu Sans,sans-serif">*</text>
<text x="1725.8" y="2247.0" font-size="32" text-anchor="middle" font-weight="bold" style="font-family:DejaVu Sans,sans-serif">*</text>
<text x="1743.8" y="2247.0" font-size="32" text-anchor="middle" font-weight="bold" style="font-family:DejaVu Sans,sans-serif">*</text>
<path d="M1543.7 2287.3 L1543.7 2249.7 L1605.4 2249.7 L1605.4 2287.3" fill="none" stroke="#111" stroke-width="1.6" />
<path d="M1702.5 2287.3 L1702.5 2249.7 L1765.3 2249.7 L1765.3 2287.3" fill="none" stroke="#111" stroke-width="1.6" />
<text transform="translate(1631.5 2642.0) rotate(-45)" font-size="39.5" text-anchor="end" >Control</text>
<text transform="translate(1765.0 2649.0) rotate(-45)" font-size="39.5" text-anchor="end" >THL</text>
<text transform="translate(1939.0 2638.0) rotate(-45)" font-size="39.5" text-anchor="end" >LEI-401</text>
<text x="1.0" y="60.0" font-size="53.5" >A</text>
<text x="605.0" y="60.0" font-size="53.5" >B</text>
<text x="1316.0" y="42.5" font-size="53.5" >C</text>
<text x="1.5" y="754.5" font-size="53.5" >D</text>
<text x="601.5" y="755.0" font-size="53.5" >E</text>
<text x="1319.0" y="754.3" font-size="53.5" >F</text>
<text x="0.0" y="1424.0" font-size="53.5" >G</text>
<text x="603.0" y="1425.0" font-size="53.5" >H</text>
<text x="1326.0" y="1422.0" font-size="53.5" >I</text>
<text x="0.0" y="2094.0" font-size="53.5" >J</text>
<text x="601.5" y="2094.0" font-size="53.5" >K</text>
<text x="1343.0" y="2092.5" font-size="53.5" >L</text>
</svg></body></html>
